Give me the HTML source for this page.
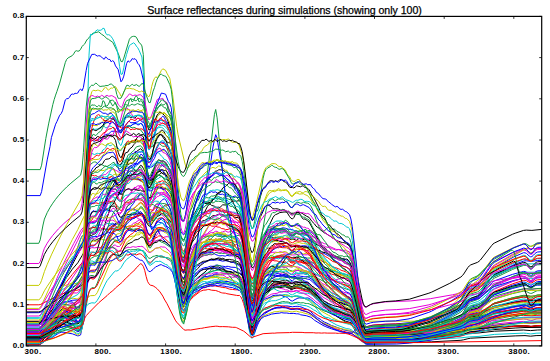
<!DOCTYPE html>
<html><head><meta charset="utf-8"><style>
html,body{margin:0;padding:0;background:#fff;width:550px;height:361px;overflow:hidden}
body{position:relative;font-family:"Liberation Sans",sans-serif}
.t{position:absolute;left:0;width:569px;top:3.5px;text-align:center;font-size:10.6px;letter-spacing:-0.04px;color:#000;white-space:nowrap;-webkit-text-stroke:0.25px #000}
.xl{position:absolute;top:346.5px;font-size:8px;line-height:9px;letter-spacing:0.35px;font-weight:bold;color:#000}
.yl{position:absolute;left:0;width:24.4px;text-align:right;font-size:8px;line-height:9px;letter-spacing:0.2px;font-weight:bold;color:#000}
svg{position:absolute;left:0;top:0}
</style></head><body>
<div class="t">Surface reflectances during simulations (showing only 100)</div>
<svg width="550" height="361" viewBox="0 0 550 361">
<defs><clipPath id="c"><rect x="26.3" y="16.4" width="515.4" height="329.5"/></clipPath></defs>
<g clip-path="url(#c)" fill="none" stroke-width="10" stroke-linejoin="round"><g transform="scale(0.1)">
<path stroke="#e600d8" d="M263 3211 l125 0 14 -5 14 -9 28 -24 28 -19 111 -69 28 -15 42 -17 70 -22 14 -1 41 3 14 -6 14 -11 14 -14 14 -19 14 -32 28 -115 14 -36 14 -18 14 -6 28 7 13 -11 14 -19 28 -54 14 -36 14 -26 28 -65 42 -76 14 -18 28 -27 14 1 13 11 14 2 14 -1 14 -14 14 -34 28 -80 28 -49 14 -17 42 -38 14 -3 41 -29 14 1 14 17 14 28 14 45 28 111 14 37 14 4 14 -8 14 -15 14 -23 13 -34 28 -39 14 -15 14 0 14 -4 14 1 14 4 14 -2 42 22 14 63 14 102 27 275 14 120 14 87 14 64 14 25 14 6 14 -42 14 -72 14 -93 14 -74 28 -87 14 -35 13 -28 28 -43 42 -57 14 -13 14 1 14 -3 28 -14 14 -3 14 1 28 -7 27 6 28 -7 84 19 28 0 28 11 13 2 28 18 14 6 14 16 14 34 14 48 14 60 42 204 14 40 14 23 14 -7 13 -24 14 -40 28 -67 28 -41 14 -16 28 -23 14 -7 42 -4 14 3 13 7 14 1 28 -9 28 -2 42 -12 14 2 14 5 28 28 14 -1 27 -29 14 -8 14 3 14 0 14 -5 28 -1 14 -5 28 -4 14 0 14 6 83 67 28 30 14 10 14 4 14 9 28 13 14 10 41 17 14 -1 14 5 14 8 28 6 28 12 28 7 28 13 14 17 14 33 27 98 42 167 14 47 14 38 14 28 14 16 14 5 70 -6 222 -5 126 -16 28 -6 195 -55 195 -83 111 -57 14 -16 14 -24 42 -100 14 -23 14 -14 69 -23 14 -6 126 -82 27 -15 181 -79 112 -36 14 0 14 4 28 18 14 5 13 -1 42 -27 14 -4 42 -3"/>
<path stroke="#00c8d0" d="M263 3327 l125 0 14 -4 42 -23 42 -17 28 -15 28 -21 41 -39 14 -9 14 -6 14 0 14 4 42 22 42 19 14 13 27 37 14 14 14 -3 14 -16 28 -67 14 -148 14 -376 28 -999 14 -267 14 -118 14 -26 14 12 55 -7 14 -12 14 -21 14 9 14 17 42 -20 14 4 28 26 14 31 27 90 14 32 14 13 14 -36 14 -65 28 -66 14 -25 14 -7 14 0 14 -7 14 -12 14 -2 27 3 14 -1 14 -4 14 8 14 23 14 56 28 146 14 34 14 -14 14 -22 41 -148 14 -36 28 -27 14 -1 14 1 14 4 14 17 14 8 28 69 14 20 14 136 14 216 41 850 14 190 14 143 14 61 14 28 14 -19 14 -31 14 -41 14 -33 14 -24 14 -15 27 -37 14 -14 14 -10 14 -5 14 -12 42 -24 14 2 14 -4 14 -8 14 1 14 -3 28 -10 27 -5 14 -6 14 3 14 8 14 3 14 1 28 8 14 -2 42 11 14 10 13 7 14 4 14 9 14 14 14 31 14 46 28 160 42 288 14 56 14 29 14 -16 13 -36 28 -111 14 -45 28 -71 14 -27 14 -21 28 -36 42 -40 14 -10 13 -6 14 -2 14 -6 28 -2 42 -9 14 -1 28 6 28 17 14 1 27 -12 14 -1 14 2 42 12 42 25 28 13 14 12 55 60 70 82 14 10 14 6 14 10 14 14 14 11 69 38 84 31 14 4 28 4 14 6 14 9 13 13 28 31 42 53 14 13 14 10 14 5 14 2 70 -3 222 -2 140 -21 195 -59 28 -11 208 -101 98 -56 70 -50 14 -7 69 -25 14 -11 14 -17 112 -186 13 -18 14 -12 181 -86 28 -11 84 -30 28 -4 83 0 70 -4"/>
<path stroke="#ff0000" d="M263 3354 l125 0 14 -3 14 -7 14 -12 28 -26 28 -31 70 -89 125 -180 83 -127 42 -69 14 -18 28 -20 14 -1 14 4 28 3 14 10 14 3 14 -6 13 -20 56 -162 56 -151 28 -63 42 -72 14 -16 27 -3 14 -15 14 -24 28 -67 14 -20 28 -51 14 -10 28 -13 41 -33 14 -17 28 -25 14 7 14 17 14 23 14 35 14 43 14 30 28 8 41 -27 28 -33 14 -21 14 -26 14 -8 28 -23 14 6 14 -7 14 -2 14 11 14 56 14 94 41 377 14 88 14 68 14 32 14 16 14 -19 14 -37 14 -51 14 -34 28 -43 27 -13 28 -24 28 -8 14 -10 28 -12 14 -14 14 -6 14 4 28 -11 14 0 14 -7 27 2 14 -15 14 0 14 8 14 -4 28 7 14 -7 14 -1 14 7 14 5 28 -8 13 7 28 7 14 7 14 21 14 32 14 57 14 71 42 244 14 48 14 27 14 -16 13 -44 28 -134 28 -96 42 -104 14 -24 14 -19 14 -4 14 -1 28 0 13 1 14 -4 14 -8 14 7 14 3 28 -9 14 1 28 12 28 40 14 11 14 2 14 -4 41 -32 28 14 14 -6 14 1 28 10 28 12 28 2 14 5 13 13 14 9 14 4 28 20 14 7 28 5 14 5 28 14 14 2 14 0 14 7 13 11 14 8 14 3 14 -2 14 3 14 7 14 3 28 13 28 8 14 8 14 32 14 44 27 123 42 218 14 60 14 50 14 36 14 21 14 6 70 -8 222 -5 126 -8 237 -31 181 -38 111 -27 28 -14 42 -29 14 -8 14 -4 69 -11 14 -4 14 -6 112 -60 27 -10 195 -40 98 -15 28 -1 55 2 98 -5"/>
<path stroke="#109a40" d="M263 3379 l125 0 28 -5 42 -16 42 -24 28 -23 55 -62 14 -13 14 -11 14 -6 14 -5 42 -4 42 -8 14 3 27 16 14 4 14 -10 14 -22 14 -62 14 -155 28 -555 14 -219 14 -94 14 -31 14 -11 14 0 14 -2 13 -10 14 0 14 4 14 -6 28 -18 14 9 14 5 14 -11 42 -13 28 12 14 3 13 14 14 17 14 9 14 -1 14 -19 42 -46 28 -16 14 -3 28 -3 14 0 13 3 14 -2 14 -6 14 0 14 7 14 14 14 37 14 45 14 30 14 14 14 -8 28 -26 27 -52 14 -15 14 -2 14 3 14 0 14 3 14 -1 28 10 14 10 14 24 14 34 14 75 14 122 41 478 14 107 14 80 14 32 14 10 14 -39 14 -66 14 -84 14 -66 28 -85 27 -54 56 -101 28 -28 28 -22 14 -16 28 -22 14 -8 14 -1 27 -22 56 9 14 4 28 -1 14 19 14 14 14 1 14 8 14 17 27 19 14 13 28 18 14 39 14 57 14 86 14 105 42 364 14 73 14 37 14 -23 13 -56 28 -167 14 -69 28 -107 14 -42 14 -34 14 -21 28 -33 28 -46 27 -14 28 -9 28 8 14 -5 28 3 14 0 14 10 14 15 14 7 28 9 27 -2 14 -4 14 -2 42 18 56 15 14 12 28 34 41 62 14 15 14 19 28 44 14 12 28 30 28 20 28 27 55 29 14 11 28 15 14 5 28 15 42 13 14 9 27 35 14 20 42 78 28 44 14 17 14 9 14 1 42 -9 28 -4 125 -7 97 -3 140 -24 209 -78 195 -112 111 -77 14 -19 14 -29 42 -116 14 -28 14 -17 69 -31 14 -9 14 -12 112 -123 27 -23 195 -112 98 -42 14 -1 14 4 28 18 14 5 13 -1 42 -28 14 -4 42 -4"/>
<path stroke="#0000ff" d="M263 3391 l125 0 14 -12 14 -24 28 -57 56 -80 28 -44 55 -103 28 -36 14 -10 14 -5 14 -1 56 0 14 1 14 13 27 47 14 17 14 -12 14 -33 14 -53 14 -67 14 -125 28 -427 14 -166 14 -67 14 -27 14 -14 14 7 27 -1 28 2 14 -10 14 2 14 9 14 -12 14 -6 28 17 14 -5 14 4 14 15 14 21 41 90 14 -1 14 -29 42 -102 14 -8 14 -2 14 -8 14 6 14 -5 14 5 13 10 14 3 14 18 14 11 14 7 42 77 14 18 14 -3 14 -18 14 -23 41 -83 28 -64 14 -25 14 -16 14 -12 14 -7 14 8 42 82 14 47 14 83 14 114 13 151 28 261 14 90 14 67 14 28 14 11 14 -18 42 -100 42 -60 27 -21 14 -15 28 -22 28 -13 14 -5 28 -3 28 -11 28 1 14 -3 13 -8 14 -1 42 11 14 0 28 5 14 -4 14 1 28 8 41 2 14 6 14 8 14 3 14 24 14 39 14 72 14 90 42 319 14 64 14 33 14 -20 13 -46 28 -137 14 -53 28 -79 14 -31 14 -24 56 -47 14 -15 14 -10 27 -13 42 4 14 -5 14 -7 42 6 56 15 27 -6 14 4 28 0 70 30 28 7 14 11 14 19 27 21 14 16 14 20 42 46 70 51 42 26 83 37 28 18 14 5 42 10 14 8 14 14 27 42 42 71 28 40 14 14 14 8 14 1 70 -7 222 -5 126 -14 28 -5 195 -47 195 -73 111 -49 14 -11 14 -15 42 -60 14 -15 14 -9 69 -20 14 -7 14 -9 112 -99 27 -18 181 -67 112 -32 14 1 14 5 28 19 14 6 13 -1 42 -30 14 -5 42 -2"/>
<path stroke="#109a40" d="M263 3401 l125 0 14 -7 14 -13 84 -103 28 -39 55 -93 28 -36 14 -10 14 -8 70 -17 14 -1 14 8 27 34 14 12 14 -14 14 -32 14 -105 14 -229 28 -734 14 -249 14 -96 14 -24 28 -22 14 -4 13 2 28 26 14 -6 14 2 14 10 14 7 14 1 28 13 14 4 28 0 14 17 27 69 28 45 14 0 14 -30 14 -43 14 -57 14 -46 14 -28 14 -5 14 -16 14 5 14 13 14 -28 13 -21 14 -8 14 9 14 17 14 9 14 18 14 36 28 146 14 33 14 -5 14 -27 14 -49 14 -36 27 -50 14 -19 14 -5 14 8 14 -6 14 16 14 6 14 -1 42 88 14 83 14 134 41 518 14 115 14 87 14 37 14 15 14 -19 14 -33 28 -80 14 -17 14 -8 14 -21 13 -26 28 -18 28 -25 14 -9 56 -26 14 -3 28 -20 28 -8 13 0 28 -18 14 2 14 -11 14 -18 28 2 14 -8 14 -1 14 16 28 3 14 13 13 -3 14 12 14 21 14 9 14 36 14 66 14 106 14 127 42 438 14 87 14 44 14 -23 13 -53 28 -162 14 -62 28 -100 14 -36 14 -28 42 -58 14 -14 28 -21 13 -7 14 -1 28 -12 28 7 14 -1 14 -4 14 0 28 8 28 4 14 5 14 9 27 5 14 8 14 6 28 17 14 6 28 19 14 4 14 10 14 16 55 92 70 91 14 14 70 58 153 100 14 6 14 3 14 8 14 14 13 20 56 92 14 19 14 16 14 12 14 7 14 2 70 -3 236 -3 126 -8 209 -25 222 -43 98 -23 70 -25 83 -13 14 -4 14 -7 112 -69 27 -11 181 -34 112 -17 28 1 42 6 13 0 56 -9 42 -1"/>
<path stroke="#ff0000" d="M263 3330 l125 0 14 -7 14 -13 14 -22 28 -51 42 -85 83 -191 84 -207 111 -286 28 -78 14 -29 14 -7 14 -12 14 -20 28 -93 14 -17 14 -10 14 -25 14 -14 13 -8 28 -34 14 -21 14 -32 14 -27 28 -38 14 -27 14 -13 42 -14 14 -13 14 4 27 61 14 9 14 -13 42 -128 14 -34 28 -42 14 4 14 -2 14 -14 27 -10 14 -10 14 -6 14 6 14 -4 14 13 14 39 28 132 14 43 14 4 14 -28 28 -47 13 -45 14 -33 14 -18 14 0 14 -6 14 -4 14 11 14 2 14 6 28 40 14 30 14 81 14 144 41 561 14 126 14 94 14 40 14 15 14 -38 14 -69 14 -90 14 -68 14 -47 14 -36 14 -35 13 -25 42 -52 14 -12 28 -33 14 -9 14 0 14 2 28 -14 14 1 14 -6 14 -14 13 -3 14 5 28 -4 28 2 28 16 14 2 28 -6 28 8 27 17 14 -4 14 9 28 23 14 22 14 40 56 213 14 32 14 20 14 -9 13 -32 28 -103 14 -39 14 -25 42 -89 14 -14 28 -13 28 6 27 -18 14 1 14 6 14 3 14 -6 28 5 42 1 28 16 14 12 14 1 27 -13 14 -4 14 7 28 -3 14 4 14 -1 28 8 28 2 14 6 14 19 14 4 13 7 14 17 14 8 28 31 14 7 14 12 14 6 14 2 28 22 28 11 27 14 14 3 28 11 14 6 14 10 28 8 28 13 14 10 14 5 14 26 14 51 27 138 42 244 14 68 14 55 14 39 14 23 14 7 70 -6 222 -5 126 -10 28 -4 195 -37 222 -64 98 -35 70 -38 14 -5 69 -16 14 -6 14 -10 112 -105 13 -10 14 -7 195 -56 98 -21 28 0 42 9 13 -1 56 -11 42 -2"/>
<path stroke="#00c8d0" d="M263 3178 l125 0 14 -14 42 -88 14 -19 42 -48 83 -81 42 -32 42 -25 56 -28 55 -15 14 -8 28 -23 14 -4 14 -16 14 -35 28 -93 14 -27 14 -14 28 13 13 -15 28 -43 14 -18 28 -59 14 -23 14 -30 14 -20 28 -59 14 -21 14 -15 28 -11 27 -4 14 -12 14 -27 14 -15 28 -53 14 -16 28 -18 14 -24 14 -10 28 -5 13 2 14 -15 14 -19 14 -10 14 1 14 12 14 26 14 41 14 31 14 18 14 4 14 -5 28 -28 13 -4 14 12 28 -10 14 16 28 23 14 3 14 8 28 31 14 25 14 49 14 85 41 321 14 72 14 54 14 22 14 7 14 -29 14 -50 14 -69 14 -45 14 -31 14 -23 27 -45 14 -17 28 -20 14 -19 42 -23 14 -11 14 -2 14 3 28 -12 28 -21 13 -4 14 -14 28 -10 14 -10 14 -2 14 -4 28 4 14 9 14 14 28 17 14 14 13 11 14 6 14 3 14 14 14 24 14 29 14 48 56 251 14 38 14 22 14 -7 13 -26 28 -87 42 -76 14 -14 14 -20 14 -15 42 -15 28 3 27 -2 14 7 14 4 14 -3 14 4 28 0 14 9 14 3 28 31 14 8 14 3 14 -3 13 -8 14 -5 14 3 14 -6 28 -2 14 -4 42 1 14 4 14 7 14 13 14 18 55 53 126 138 41 23 14 3 42 3 14 4 14 1 28 -2 28 2 14 20 27 77 28 98 28 110 14 45 14 36 14 26 14 15 14 4 70 -3 208 -2 28 -2 126 -16 209 -53 195 -77 111 -53 14 -14 14 -22 42 -90 14 -21 14 -13 83 -27 126 -77 27 -15 181 -72 112 -34 14 -1 14 1 42 11 13 0 42 -13 14 -2 42 -3"/>
<path stroke="#e600d8" d="M263 3160 l125 0 14 -9 14 -18 223 -455 139 -276 28 -59 28 -48 14 -17 28 -49 14 -9 14 1 28 -6 14 3 13 -11 14 -16 14 -11 42 -70 14 -19 14 -10 14 -27 14 -38 14 -22 14 -16 14 -10 14 -20 14 -15 13 -11 28 8 14 -11 14 -3 28 -21 14 2 28 -9 14 6 14 2 14 -15 14 -10 13 9 14 14 14 -18 14 -26 14 16 14 34 14 56 28 133 14 47 14 -3 14 -15 14 -22 14 -34 13 -16 14 1 14 -5 14 6 14 19 14 9 14 2 28 32 14 9 14 15 14 22 14 67 14 106 41 406 14 90 14 68 14 27 14 9 14 -31 42 -172 14 -37 28 -57 13 -17 14 -5 14 -12 14 -16 42 -21 14 -6 14 -3 14 0 14 -7 28 4 14 -6 14 -10 13 -6 14 -3 14 -3 14 3 28 -6 28 9 28 -3 28 8 14 -1 14 8 13 4 14 -1 14 -3 14 6 14 24 14 36 14 57 14 71 42 243 14 49 14 26 14 -12 13 -36 28 -112 14 -42 42 -90 14 -21 14 -14 14 -9 14 -7 14 2 14 6 41 12 14 2 14 -2 14 5 14 0 14 -5 28 3 28 -2 14 7 14 9 14 -7 14 -18 13 -10 14 -5 28 -1 14 4 42 5 14 -4 14 5 28 2 14 14 14 8 13 3 28 15 28 9 14 2 14 5 14 9 14 7 14 4 28 0 28 5 27 12 28 5 28 9 28 1 14 3 42 17 14 26 14 46 13 55 28 131 28 145 14 58 14 47 14 34 14 20 14 6 70 -4 222 -4 126 -10 223 -38 195 -53 111 -37 14 -10 14 -16 42 -66 14 -15 14 -9 83 -19 139 -53 223 -61 98 -18 69 3 42 -4 56 -3"/>
<path stroke="#000000" d="M263 3352 l125 0 14 -13 14 -26 28 -74 56 -130 111 -245 56 -110 139 -265 14 -21 14 -16 14 -28 28 -102 14 -32 14 -8 28 -6 14 0 13 -10 14 -25 14 -38 14 -28 28 -77 28 -68 42 -128 14 -23 14 -18 14 -28 27 -49 56 -75 28 -48 14 -13 14 2 14 -12 14 -8 14 5 14 -15 14 -22 13 -11 14 -6 28 -3 14 -6 14 15 14 45 28 157 14 41 14 4 14 -27 28 -64 13 -18 14 5 28 -19 28 27 14 5 14 15 14 28 28 33 14 39 14 77 14 129 27 341 14 150 14 110 14 83 14 33 14 12 14 -44 14 -77 14 -105 14 -71 14 -49 28 -85 13 -35 42 -53 14 -25 14 -34 14 -10 14 1 28 -19 14 -2 14 -7 14 -13 14 -8 27 -1 14 -8 14 -5 28 -1 14 4 14 7 14 3 28 -11 28 10 14 2 14 13 13 4 28 2 14 10 14 40 14 51 14 93 14 114 42 396 14 79 14 42 14 -25 13 -64 28 -195 14 -74 28 -108 28 -88 14 -37 14 -23 14 -12 28 0 27 4 14 -6 28 7 14 -4 14 -1 42 12 14 -5 14 -2 28 17 28 -4 13 6 14 3 14 -12 14 -5 14 7 14 -1 28 8 14 -3 28 7 28 15 14 5 41 28 14 6 14 -3 28 19 14 2 14 10 14 20 14 13 14 6 14 12 14 21 13 9 28 13 14 0 14 7 14 13 14 3 14 0 14 9 14 14 28 18 14 29 14 53 27 152 42 258 14 73 14 59 14 43 14 26 14 6 70 -10 125 -6 97 -2 126 -17 28 -6 195 -59 195 -90 111 -61 14 -17 14 -26 42 -106 14 -25 14 -15 69 -25 14 -6 14 -9 112 -80 27 -17 181 -84 28 -11 84 -28 14 1 14 8 28 28 14 9 13 -2 14 -13 14 -18 14 -12 14 -7 42 -3"/>
<path stroke="#00c8d0" d="M263 3432 l125 0 14 -2 14 -6 84 -48 83 -58 42 -25 98 -37 14 -1 27 4 14 0 14 -8 14 -14 28 -42 14 -79 14 -196 28 -495 14 -116 14 -35 14 -14 27 -2 14 -5 14 1 28 -11 14 10 14 1 14 -14 14 -5 14 0 14 4 28 -9 14 13 14 18 13 10 14 20 14 10 28 -26 28 -38 28 -31 14 -10 28 -9 14 -8 14 0 13 -11 14 -6 14 0 14 -17 14 -7 14 12 14 7 14 11 14 14 14 10 14 -3 28 -15 14 -16 13 -9 14 -13 14 6 14 11 14 -4 28 0 14 12 56 75 14 65 14 113 41 441 14 98 14 74 14 30 14 12 14 -20 42 -109 42 -68 41 -47 14 -9 28 -29 28 -15 28 -9 14 -3 69 6 14 -1 14 4 28 15 14 -3 28 4 14 3 42 16 41 8 14 5 14 12 14 8 14 16 14 31 14 49 14 60 42 207 14 41 14 22 14 -8 13 -19 28 -63 14 -24 28 -35 28 -26 56 -25 14 -10 41 -11 14 -1 28 -6 28 -4 42 -1 14 1 28 11 41 -6 14 0 28 10 28 6 42 6 28 11 14 8 28 20 27 13 14 13 28 16 28 20 28 14 28 4 28 17 27 6 56 18 98 26 14 6 14 9 27 25 42 49 28 29 14 10 14 6 14 1 70 -7 222 -5 126 -9 223 -33 195 -46 111 -31 28 -16 42 -35 14 -8 14 -6 69 -13 14 -4 14 -6 112 -67 27 -12 181 -43 112 -19 14 1 14 4 28 16 14 5 13 -1 42 -25 14 -3 42 -2"/>
<path stroke="#e600d8" d="M263 3398 l125 0 14 -3 14 -7 42 -32 42 -39 28 -30 69 -86 28 -29 98 -80 14 -7 27 -7 14 -6 14 -17 14 -24 14 -32 14 -61 14 -115 28 -264 14 -59 14 -17 14 -7 28 3 41 -7 14 8 14 -1 14 -10 28 12 14 -6 28 3 14 -4 42 9 27 28 28 1 14 -5 14 -14 14 -9 28 -14 14 5 14 -1 14 -6 14 -1 14 4 13 0 14 -6 28 0 14 -2 14 8 14 12 28 32 14 8 14 2 14 -9 41 -35 28 -3 14 -7 14 -4 14 4 14 -1 14 5 14 16 28 24 14 18 14 48 14 66 27 176 14 77 14 56 14 43 14 17 14 6 14 -17 14 -29 14 -40 14 -29 14 -20 28 -28 27 -22 14 -13 14 -8 14 -4 28 -22 42 -14 14 -1 28 -6 14 -7 14 -15 13 -4 28 6 42 3 14 4 28 21 14 -3 14 -8 28 7 69 -7 14 15 14 30 14 48 14 60 42 216 14 44 14 23 14 -14 13 -37 28 -109 14 -42 28 -59 14 -22 14 -9 42 -14 14 -14 14 -5 41 -4 42 8 14 4 28 6 14 7 28 3 14 14 14 4 28 -5 13 -8 14 -2 14 6 14 -1 14 -3 14 0 28 8 28 4 14 7 14 9 97 94 56 43 42 27 28 13 27 17 28 8 28 16 28 9 28 11 28 7 14 8 14 15 27 42 56 96 14 19 14 14 14 8 14 2 70 -7 362 -10 223 -18 181 -22 111 -17 28 -7 56 -22 97 -12 126 -40 27 -6 181 -22 112 -11 28 4 42 13 13 -1 42 -15 14 -2 42 -1"/>
<path stroke="#000000" d="M263 3424 l125 0 14 -15 14 -31 14 -36 14 -29 84 -103 55 -84 14 -16 14 -12 14 -5 14 -2 84 19 14 13 27 42 14 15 14 -8 14 -24 28 -71 14 -70 42 -485 14 -86 14 -29 14 -9 14 5 13 -2 28 -15 28 -7 14 -12 42 -50 14 -10 14 -16 28 -36 14 -6 27 -24 14 11 14 16 14 1 14 5 14 1 14 4 14 15 28 22 14 -3 14 1 14 8 27 -10 14 8 14 4 14 0 14 -5 14 13 14 34 28 89 14 21 14 -6 28 -55 27 -67 28 -30 14 -26 14 -1 42 30 14 7 14 13 14 16 14 28 14 47 14 79 41 294 14 66 14 49 14 21 14 7 14 -20 42 -116 14 -30 41 -51 28 -28 28 -31 42 -32 28 -11 42 -22 28 1 41 -13 28 6 14 -2 28 12 42 -1 14 4 14 0 14 5 13 10 14 1 14 3 14 10 14 28 14 49 14 76 14 93 42 323 14 65 14 33 14 -17 13 -41 28 -123 14 -46 28 -72 14 -30 14 -18 14 -11 14 -18 56 -32 41 -14 28 4 28 -3 14 -5 14 0 42 18 14 10 14 0 14 -10 13 -1 14 -4 14 -1 14 5 14 -3 14 5 14 8 42 3 14 5 14 10 69 67 14 16 14 12 28 30 28 20 42 27 14 12 27 15 28 22 28 9 28 19 42 21 14 5 14 2 14 8 14 17 27 40 42 73 28 40 14 14 14 8 14 1 70 -6 222 -4 126 -8 223 -28 222 -45 98 -25 70 -27 83 -14 14 -5 14 -6 112 -74 27 -12 195 -39 98 -15 14 1 14 3 28 12 14 4 13 -1 42 -18 14 -3 42 -1"/>
<path stroke="#00c8d0" d="M263 3182 l125 0 14 -2 56 -18 98 -19 69 -10 70 -6 14 2 14 5 14 17 27 55 14 22 14 -3 14 -22 14 -97 14 -238 28 -839 14 -296 14 -130 14 -53 14 -15 28 10 27 -12 14 3 14 -1 14 -5 14 -30 14 -9 14 -13 14 -32 14 1 14 12 14 -5 14 -13 28 26 13 2 14 11 14 24 14 3 28 -51 14 -18 14 -11 14 -7 14 9 14 -14 14 -11 14 15 14 5 13 -10 14 -4 14 4 14 0 14 10 28 59 14 20 28 73 14 11 14 -5 28 -28 13 -19 14 -7 14 -1 28 34 14 11 14 23 14 2 14 12 28 41 14 26 14 82 14 132 41 502 14 113 14 84 14 33 14 10 14 -40 14 -69 28 -158 28 -75 14 -49 13 -30 14 -18 28 -70 14 -23 14 -13 28 -22 14 -16 28 -10 28 -36 14 -12 14 0 13 17 28 -23 14 4 14 8 14 13 14 -4 14 8 14 15 42 12 14 18 27 25 14 17 28 21 14 45 14 78 14 119 14 144 42 503 14 101 14 52 14 -19 13 -48 28 -150 14 -55 28 -85 28 -66 14 -17 14 -12 14 -17 14 -24 14 -14 27 -7 14 -1 28 -18 28 -2 14 -4 28 3 14 -1 14 13 14 17 14 9 14 5 27 -36 14 -4 28 19 14 1 14 8 14 5 14 8 14 13 14 6 42 47 27 43 28 34 28 42 42 55 56 42 41 26 28 10 14 10 28 7 28 15 42 17 14 3 14 7 14 17 27 49 42 96 28 53 14 20 14 10 14 1 42 -10 28 -4 125 -8 97 -3 126 -15 28 -6 195 -54 195 -82 111 -57 14 -14 14 -21 42 -85 14 -20 14 -13 69 -22 14 -7 14 -9 112 -91 27 -18 181 -77 28 -10 84 -26 28 -4 97 -1 56 -3"/>
<path stroke="#c4cc00" d="M263 3398 l125 0 28 -5 56 -25 28 -16 28 -22 55 -56 28 -21 28 -8 42 -1 56 -7 27 2 14 -2 14 -8 14 -13 14 -38 14 -103 28 -407 14 -161 14 -68 14 -13 28 -15 27 3 42 -20 14 -2 14 6 28 1 14 -3 14 -8 14 3 28 1 28 12 13 3 28 35 14 1 14 -9 14 -26 14 -18 28 -16 14 -5 28 -7 28 0 13 -13 14 -1 14 1 14 -13 14 -7 14 2 28 37 28 23 14 -11 14 -22 28 -17 13 -16 14 -12 14 -2 14 -10 14 -5 28 28 28 8 28 53 14 17 14 73 14 110 27 295 14 129 14 93 14 70 14 28 14 8 14 -30 14 -50 14 -66 14 -53 28 -65 14 -30 13 -24 14 -16 42 -61 28 -21 14 -5 14 1 28 -11 28 0 28 -4 27 3 28 18 14 0 42 8 28 16 69 26 28 23 14 3 14 16 14 32 14 43 14 53 42 181 14 36 14 19 14 -11 13 -28 28 -85 14 -33 28 -52 14 -19 14 -12 14 -6 28 -19 28 -13 27 -8 14 -4 28 -1 28 -5 14 1 28 -2 28 0 28 18 28 -8 27 3 42 8 14 6 28 5 14 7 14 3 14 6 14 10 111 102 70 40 14 6 28 21 41 19 14 8 42 15 14 3 28 5 42 1 14 5 27 20 42 47 28 27 14 11 14 6 14 0 70 -10 125 -6 111 -2 126 -7 223 -29 195 -38 97 -23 28 -13 42 -33 14 -7 14 -5 83 -14 126 -56 27 -9 181 -35 112 -16 28 3 42 12 13 -1 42 -14 14 -3 42 -1"/>
<path stroke="#0000ff" d="M263 3127 l125 0 14 -4 14 -8 167 -141 42 -33 98 -70 55 -31 28 -24 14 -16 14 -27 28 -71 14 -30 14 -14 14 -6 28 -3 14 6 13 -12 56 -130 28 -60 28 -74 14 -30 42 -73 14 -18 14 -8 13 -14 28 -22 14 -24 14 -30 28 -38 14 -22 14 -7 14 -4 14 -22 28 -33 14 -26 27 -28 28 -44 14 9 14 22 14 31 28 124 14 42 14 14 14 -9 41 -43 14 -1 14 2 14 -1 14 8 28 2 14 14 14 9 14 0 14 8 14 30 14 48 14 86 41 330 14 75 14 57 14 24 14 8 14 -34 14 -62 14 -75 14 -59 14 -47 28 -66 13 -28 28 -33 28 -25 14 -19 14 -12 28 -1 28 -5 28 3 14 -8 14 -12 27 2 14 -1 14 7 28 -2 14 5 28 -1 14 2 14 -4 14 -9 41 -41 14 -4 14 13 14 18 14 32 14 56 14 85 42 310 14 91 14 58 14 35 14 -13 13 -42 28 -136 14 -51 28 -79 14 -39 28 -63 28 -43 14 -8 14 -4 14 -17 27 -16 28 -13 14 -8 28 7 14 -6 14 -2 14 4 14 6 14 25 14 17 14 -3 27 -34 14 -11 14 -7 14 7 14 2 14 -8 14 -2 42 5 14 8 14 3 14 6 14 14 13 4 14 -1 14 7 28 25 14 3 14 -2 56 30 28 2 27 15 28 2 28 8 14 0 14 5 28 4 14 7 28 23 14 27 14 51 27 145 42 258 14 73 14 61 14 45 14 26 14 6 42 -9 28 -3 125 -7 237 -7 223 -21 181 -27 111 -18 28 -9 56 -25 14 -3 83 -11 126 -46 27 -8 195 -28 98 -9 28 0 42 5 69 -7 42 -2"/>
<path stroke="#109a40" d="M263 3367 l125 0 14 -8 14 -17 28 -41 84 -92 55 -73 28 -28 14 -7 14 -6 84 -13 14 2 27 11 14 3 14 -9 14 -18 28 -52 14 -77 14 -157 14 -205 14 -168 14 -74 14 -24 28 -22 13 0 28 9 14 2 28 -12 14 0 14 8 14 0 14 -3 28 -10 28 6 14 0 13 5 28 15 14 -8 14 -11 28 -3 14 -6 28 3 14 -1 14 5 14 2 27 -6 14 -1 14 1 14 8 14 1 14 7 14 34 28 105 14 33 14 5 28 -42 27 -26 14 -9 14 0 28 19 14 4 14 6 70 46 14 58 14 97 41 397 14 90 14 69 14 27 14 8 14 -34 14 -57 14 -71 14 -55 14 -40 14 -32 14 -25 27 -44 42 -71 14 -16 14 -6 14 -11 28 -28 14 -10 14 -14 14 -16 28 -22 13 -16 14 -4 28 4 14 6 14 12 14 22 28 36 14 16 14 13 28 38 27 30 42 28 14 19 14 34 14 49 14 59 42 211 14 42 14 22 14 -18 13 -43 28 -128 14 -50 28 -78 14 -30 14 -22 28 -31 28 -19 28 -27 27 -10 28 -2 14 -7 28 6 14 -7 14 1 28 17 14 14 14 11 14 -1 27 -16 14 -4 14 1 28 11 28 5 28 12 28 3 14 8 83 94 42 42 14 9 14 7 42 26 28 21 13 9 28 9 14 9 56 22 28 15 28 8 14 11 14 17 13 27 28 59 28 64 14 27 14 22 14 16 14 10 14 2 70 -4 222 -3 126 -7 223 -28 195 -39 111 -26 14 -7 14 -11 42 -43 14 -10 14 -6 83 -14 126 -43 27 -7 181 -37 112 -17 28 1 42 7 13 -1 56 -9 42 -1"/>
<path stroke="#c4cc00" d="M263 3084 l125 0 14 -11 14 -22 195 -429 112 -226 55 -100 56 -120 14 -25 14 -36 28 -61 14 -19 28 -51 27 -40 28 -44 56 -70 28 -22 14 -19 42 -34 14 -10 14 2 13 8 28 -20 14 -6 14 -13 14 -29 28 -29 14 -18 14 -7 28 -6 14 -8 14 -11 13 -15 28 -5 14 -7 14 8 14 31 42 144 14 37 14 13 14 7 28 -1 13 -9 14 22 14 38 14 8 14 5 14 14 14 20 14 13 28 21 14 18 14 22 14 65 14 79 41 294 14 65 14 49 14 20 14 6 14 -25 14 -45 14 -58 14 -40 42 -86 13 -14 28 -3 14 -15 14 -27 14 -12 28 -5 28 19 14 -14 14 -19 14 5 14 11 14 -3 27 7 14 -12 14 -6 14 7 14 11 28 1 14 8 14 -3 14 -6 14 11 14 7 14 -5 27 18 28 11 14 16 14 36 14 60 14 74 42 254 14 50 14 28 14 -16 13 -46 28 -142 14 -57 14 -42 56 -131 14 -15 28 -1 14 -5 14 1 13 5 28 3 14 7 14 1 28 10 28 17 28 14 28 37 14 0 27 -12 28 -8 14 0 28 8 14 0 28 7 14 -2 14 9 14 14 28 18 13 15 28 40 14 13 28 35 28 23 28 29 28 17 28 30 13 13 56 40 28 10 28 20 42 20 14 23 14 42 27 129 42 220 14 64 14 51 14 37 14 22 14 6 70 -7 362 -8 223 -14 292 -31 28 -9 42 -21 28 -9 83 -6 153 -23 181 -17 112 -8 28 2 42 7 13 0 42 -9 56 -2"/>
<path stroke="#000000" d="M263 3240 l125 0 14 -10 14 -20 56 -107 139 -247 28 -43 84 -121 55 -64 42 -71 14 -25 14 -36 28 -104 14 -30 14 -7 14 -1 14 -10 14 -4 13 -9 14 -26 28 -101 14 -40 14 -34 42 -142 28 -73 14 -28 28 -26 14 -2 13 1 14 17 14 8 14 -22 28 -119 14 -52 14 -41 14 -34 14 -18 14 -8 55 -75 42 -29 14 11 14 22 14 44 14 84 28 129 14 10 14 -41 41 -105 14 -29 14 -14 28 13 28 3 28 34 14 25 28 66 14 60 14 118 41 451 14 100 14 75 14 29 14 8 14 -44 14 -76 14 -103 14 -70 28 -114 14 -32 13 -13 14 -22 14 -30 14 -19 14 -5 14 -17 14 -23 14 1 14 14 14 9 14 -2 14 8 14 12 28 8 13 9 14 2 14 -1 14 3 28 -27 28 2 14 -3 28 -14 14 -14 14 -7 14 -2 27 2 14 -4 14 0 14 5 14 41 14 57 14 75 42 260 14 50 14 31 14 -18 13 -55 14 -91 14 -73 28 -118 28 -60 14 -39 14 -16 14 -6 14 3 14 7 28 25 13 3 14 -2 14 1 14 3 14 5 14 10 14 -9 14 -1 28 24 28 46 14 17 14 7 14 -14 13 -27 14 -20 14 -2 28 0 14 6 42 28 28 13 28 40 27 26 14 21 14 11 14 7 14 18 28 20 14 12 14 3 28 22 14 6 28 21 27 14 14 12 42 15 14 4 14 0 14 6 14 6 28 23 14 28 14 64 27 187 42 322 14 91 14 74 14 55 14 31 14 9 42 -8 28 -4 125 -7 111 -2 126 -7 223 -30 208 -42 98 -24 70 -25 83 -14 14 -5 14 -7 112 -74 27 -12 181 -36 112 -16 28 -2 153 -2"/>
<path stroke="#000000" d="M263 3445 l125 0 14 -3 14 -7 84 -69 111 -108 84 -68 28 -18 14 -1 27 8 14 1 14 -14 14 -25 14 -36 14 -57 14 -148 28 -493 14 -172 14 -79 14 -31 14 -8 14 -1 13 2 14 -7 14 -10 14 -1 28 7 14 -5 14 -11 14 -2 14 2 14 -22 14 -8 14 3 14 -5 14 10 13 26 14 43 14 30 14 5 28 -13 14 -9 14 -4 14 1 14 -4 28 -3 14 2 14 -6 27 6 14 -10 28 -3 14 22 14 27 28 62 14 19 14 2 28 -44 14 -16 13 -21 14 -15 28 -15 14 -16 14 1 14 17 14 12 14 9 42 50 14 71 14 111 41 436 14 97 14 73 14 30 14 12 14 -24 14 -39 14 -52 14 -40 14 -26 41 -61 42 -43 70 -58 14 -15 42 -24 14 -5 14 -2 13 6 28 -2 28 17 28 8 28 16 14 3 28 4 28 21 27 16 14 0 14 7 14 27 14 35 14 57 14 69 42 240 14 48 14 25 14 -15 13 -36 28 -111 14 -43 28 -67 14 -29 14 -19 28 -24 56 -38 13 -8 14 -3 14 1 56 -11 14 0 14 -3 14 6 42 24 14 0 14 -7 13 -13 14 -9 14 -5 14 -3 14 4 14 0 14 -3 14 3 14 -2 14 -5 28 20 14 13 27 34 56 86 28 47 14 17 42 39 42 35 55 37 70 36 56 17 27 17 28 23 56 56 14 11 14 6 14 0 70 -10 111 -6 251 -3 209 -5 473 -23 167 -21 209 -9 98 -2 69 2 98 -3"/>
<path stroke="#ff0000" d="M263 3407 l125 0 14 -5 14 -9 84 -73 28 -30 55 -73 28 -27 14 -6 14 -4 56 0 28 -8 55 -28 28 -17 14 -12 14 -43 14 -138 28 -449 14 -142 14 -50 14 -17 14 -5 27 8 14 7 14 -7 14 -3 14 9 14 -4 14 3 14 9 14 1 56 -7 28 6 13 1 14 3 14 -2 14 -7 14 -11 14 -7 14 4 42 -15 14 3 14 7 41 -12 28 8 14 -8 14 -13 14 3 14 33 28 92 14 24 14 -20 55 -146 14 -28 28 -21 14 -5 14 6 28 22 14 13 14 26 28 28 14 79 14 111 41 426 14 94 14 71 14 30 14 13 14 -14 42 -71 42 -44 69 -53 28 -11 28 -2 14 -4 14 -2 28 8 41 3 28 10 28 12 14 3 28 2 14 5 97 17 14 2 14 -2 14 14 14 26 14 41 14 50 42 178 14 36 14 19 14 -9 13 -22 28 -67 14 -27 28 -40 14 -18 14 -10 56 -25 14 -11 41 -10 14 -1 28 1 14 -3 42 -1 56 19 14 1 41 -8 42 11 28 12 14 3 42 13 97 80 42 30 70 32 28 8 27 11 28 7 42 17 28 6 14 5 28 3 14 5 14 7 27 21 56 48 28 16 14 4 306 -5 140 -18 195 -52 28 -10 181 -76 111 -55 28 -20 42 -41 14 -10 14 -7 69 -23 14 -9 14 -14 112 -147 13 -14 14 -10 181 -76 112 -36 14 0 14 4 28 17 14 5 13 -1 42 -26 14 -4 42 -2"/>
<path stroke="#109a40" d="M263 3375 l125 0 14 -3 42 -21 42 -16 28 -16 28 -25 41 -46 14 -10 14 -7 14 2 14 5 56 41 69 28 14 4 14 -2 14 -6 14 -19 14 -80 14 -236 28 -758 14 -238 14 -99 14 -33 14 -20 14 2 13 17 14 0 14 -13 28 2 14 -11 14 -6 28 -6 14 -1 14 -8 14 -6 28 16 14 18 27 49 14 13 14 -16 28 -49 14 -39 14 -12 14 2 14 -10 14 3 28 21 27 10 28 2 14 12 14 2 14 17 42 127 14 27 14 -15 55 -202 14 -40 14 -29 14 -22 14 -15 14 -9 14 -5 28 12 42 59 14 121 14 203 41 810 14 182 14 136 14 55 14 17 14 -60 42 -325 28 -121 14 -51 13 -38 56 -135 14 -20 42 -52 28 -20 28 -38 41 -37 28 -15 14 10 14 2 14 -1 14 9 70 54 14 14 55 87 14 25 14 36 14 57 14 85 14 103 42 351 14 70 14 36 14 -18 13 -43 14 -69 28 -115 28 -82 14 -33 14 -21 14 -12 14 -19 14 -14 14 -9 28 -30 13 -8 14 -3 28 0 14 -9 14 -3 14 2 56 -9 28 5 14 -3 14 2 55 16 28 18 14 3 28 20 14 3 42 53 14 13 27 39 42 53 28 38 14 13 14 8 70 55 27 13 14 11 28 13 14 11 42 23 28 4 14 5 14 10 14 14 27 35 42 67 28 38 14 13 14 8 14 1 70 -7 208 -5 28 -3 126 -19 195 -59 28 -11 208 -102 84 -48 14 -13 14 -17 42 -66 14 -17 14 -10 69 -26 14 -9 14 -14 112 -141 13 -15 14 -10 181 -87 28 -11 84 -30 14 -1 14 2 28 12 14 4 13 -1 42 -18 14 -4 42 -2"/>
<path stroke="#00c8d0" d="M263 3294 l125 0 14 -7 14 -12 84 -118 125 -185 84 -117 28 -33 41 -36 14 -21 28 -52 14 -18 14 -26 14 -59 28 -169 14 -38 14 -24 14 -11 14 0 13 -12 14 -21 28 -61 28 -70 28 -63 56 -112 14 -20 28 -32 13 -14 28 -20 28 -47 14 -12 28 -47 14 -2 14 -7 14 -20 28 -20 27 -26 14 -17 14 -10 28 -11 14 16 14 37 28 104 14 13 14 -3 14 -24 14 -32 27 -34 14 -12 14 -6 14 -12 14 -5 28 16 14 -4 14 -5 14 -2 28 60 14 89 14 143 41 558 14 126 14 94 14 39 14 13 14 -53 42 -310 14 -60 14 -46 27 -77 14 -32 42 -56 14 -25 14 -16 14 4 14 -5 42 -27 14 -6 14 -11 27 -6 14 -10 28 -15 14 2 14 13 14 0 14 10 42 49 14 13 14 25 41 38 14 9 14 4 14 25 14 50 14 78 14 99 42 353 14 70 14 38 14 -30 13 -74 28 -224 14 -78 28 -130 14 -56 14 -41 28 -57 14 -20 14 -11 14 1 14 4 13 -7 14 0 14 7 70 -6 28 10 42 53 14 5 14 -12 13 -16 14 -11 14 -2 28 11 14 -2 14 2 14 -2 42 21 28 35 41 69 14 9 14 18 28 50 28 40 14 19 28 26 28 35 14 12 13 8 14 12 28 18 42 39 14 5 28 21 14 4 14 9 14 29 14 46 27 135 42 236 14 64 14 52 14 37 14 22 14 7 70 -4 362 -5 223 -7 292 -16 84 -9 97 -5 153 -20 293 -13 28 2 42 6 13 -1 42 -6 56 -2"/>
<path stroke="#ff0000" d="M263 3421 l125 0 14 -14 42 -91 28 -39 28 -33 56 -59 27 -28 28 -24 42 -27 42 -24 14 -5 14 -3 14 6 27 30 14 10 14 -10 14 -24 14 -40 14 -61 14 -143 28 -523 14 -185 14 -77 14 -22 14 2 14 -2 13 -7 28 8 14 -6 28 -8 14 2 28 -9 14 1 14 2 14 -3 14 -5 14 2 14 23 13 39 14 14 14 6 14 13 14 -12 14 -34 14 -26 14 -14 28 3 14 -21 14 -13 28 3 13 4 14 -1 28 4 14 5 28 23 14 27 14 36 14 10 14 -4 14 3 14 5 14 -13 13 -18 14 5 14 -1 14 4 14 11 28 9 14 7 14 3 14 12 28 36 14 66 14 109 41 436 14 98 14 74 14 28 14 8 14 -38 42 -206 14 -42 28 -57 27 -42 14 -26 14 -7 14 -13 14 -20 14 -9 14 -4 14 -1 28 -16 28 -9 14 -2 14 -11 13 0 14 7 28 3 14 -6 14 3 28 19 28 5 28 12 14 11 14 7 13 13 28 14 14 13 14 21 14 42 14 63 14 76 42 260 14 51 14 28 14 -8 13 -24 14 -41 28 -63 28 -53 14 -21 14 -17 28 -27 14 -20 28 -31 14 -10 13 -2 14 6 14 11 28 6 14 10 28 1 42 23 28 20 14 1 14 -3 13 -1 28 10 28 5 14 8 70 20 14 8 28 27 55 42 28 28 14 9 42 17 56 30 27 11 14 9 28 9 28 14 70 22 14 9 14 17 27 46 42 82 28 46 14 16 14 9 14 2 70 -8 222 -6 126 -8 223 -33 195 -45 111 -31 14 -7 14 -11 42 -42 14 -11 14 -6 83 -16 126 -61 27 -10 195 -45 98 -17 28 2 42 12 13 -1 28 -10 28 -6 42 -1"/>
<path stroke="#0000ff" d="M263 3368 l125 0 14 -4 14 -10 14 -16 42 -57 42 -64 55 -94 154 -278 55 -84 28 -61 28 -74 28 -107 14 -38 14 -11 14 -7 14 -4 14 1 14 -10 27 -27 28 -39 14 -26 42 -55 14 -24 14 -16 28 -17 14 -6 14 0 14 2 13 -3 14 -11 28 -5 14 -15 42 -37 42 -15 14 -9 28 4 13 -17 28 -9 14 -10 14 13 14 17 14 13 14 29 14 36 14 27 14 12 28 11 14 -2 13 2 14 17 28 53 28 44 56 62 14 11 14 5 14 49 14 67 41 275 14 63 14 46 14 17 14 4 14 -26 14 -41 14 -51 14 -39 28 -48 14 -20 27 -18 14 -15 28 -19 28 -16 14 -4 14 2 14 -1 14 -4 14 5 14 -7 14 -11 14 5 13 2 42 2 14 -4 14 0 14 2 14 -1 56 14 14 5 27 16 42 20 28 24 14 24 14 32 42 123 14 24 14 15 14 -8 13 -26 28 -81 14 -28 14 -22 28 -33 42 -31 14 -3 14 1 55 12 14 -1 28 5 14 -3 28 2 42 15 28 28 14 6 27 -25 28 -3 14 -4 14 1 28 7 14 -1 28 8 14 1 14 7 28 28 55 49 28 32 42 33 14 5 28 20 14 4 27 20 28 10 42 22 28 9 28 14 28 8 14 10 14 15 27 38 70 122 14 20 14 10 14 0 42 -12 28 -5 125 -9 97 -3 126 -12 28 -5 181 -41 28 -9 208 -76 98 -43 70 -47 14 -6 69 -19 14 -8 14 -12 112 -132 13 -12 14 -9 181 -65 112 -30 14 2 14 6 28 24 14 7 13 -1 14 -11 14 -15 14 -11 14 -6 42 -2"/>
<path stroke="#ff0000" d="M263 3408 l125 0 14 -25 14 -48 14 -62 14 -50 28 -71 56 -116 55 -101 28 -44 28 -40 84 -106 97 -116 14 -28 28 -87 14 -37 14 -17 14 -5 14 -3 14 -1 14 2 13 -8 14 -14 14 -24 28 -25 14 -21 14 -16 28 -17 28 -52 14 -14 14 0 28 -4 13 12 14 7 14 3 14 -4 28 -46 14 -28 14 -17 14 2 28 -14 14 2 14 -3 14 -7 13 4 14 -2 14 -13 14 1 14 7 14 12 14 38 14 65 14 47 14 24 14 6 28 -25 14 -17 13 -13 14 -9 14 -15 14 2 14 6 14 6 14 11 14 1 14 6 14 9 28 35 14 46 14 65 41 245 14 55 14 41 14 16 14 3 14 -32 14 -56 14 -70 14 -58 14 -44 14 -32 14 -19 13 -15 14 -25 14 -18 14 -9 14 -15 14 -8 14 3 14 -4 14 -10 28 -15 14 -3 14 4 14 11 14 -6 13 -12 14 4 14 1 14 -4 14 5 14 2 14 -1 28 10 14 2 14 0 14 -5 14 2 14 11 13 3 14 -1 28 4 14 29 14 49 14 76 14 94 42 328 14 65 14 35 14 -20 13 -51 28 -154 14 -58 28 -86 14 -41 14 -31 14 -23 28 -26 14 -2 14 0 14 -3 13 5 28 1 14 5 14 1 42 9 14 -6 14 8 14 13 28 18 14 -3 27 -23 14 -6 14 -1 14 -8 14 3 14 11 28 -5 14 6 28 6 14 6 28 22 27 28 14 12 28 18 14 16 14 10 42 21 28 20 41 18 42 20 56 19 14 9 28 8 14 7 14 24 14 38 27 112 42 196 14 54 14 44 14 32 14 19 14 5 70 -5 222 -4 126 -8 223 -29 195 -41 111 -28 28 -12 42 -28 14 -7 14 -4 69 -12 28 -10 112 -63 27 -11 195 -41 98 -15 28 2 42 9 13 -1 28 -7 28 -5 42 -1"/>
<path stroke="#ff0000" d="M263 3048 l125 0 14 -2 70 -36 139 -66 112 -38 55 -5 14 -6 42 -25 14 -24 42 -125 14 -17 42 -4 13 -6 14 -18 42 -78 14 -19 42 -78 14 -22 42 -48 14 -15 14 0 27 9 14 -2 14 -13 42 -92 14 -16 14 -6 28 -26 14 -9 14 -2 27 -23 14 2 14 -10 14 -13 14 5 14 11 14 15 14 37 14 47 14 23 14 2 14 -17 14 -27 14 -14 13 -7 14 -12 14 -1 14 4 14 -5 28 9 14 12 14 17 14 7 14 9 14 14 14 53 14 84 41 326 14 73 14 55 14 20 14 5 14 -39 14 -68 14 -94 14 -66 42 -113 13 -27 28 -29 28 -44 14 -19 14 -1 14 5 14 -9 14 -6 14 -1 14 -4 14 -1 14 6 27 -17 14 6 28 -6 14 7 28 -2 14 4 14 1 28 -1 28 13 14 -1 13 7 14 15 28 8 14 17 14 23 14 41 56 221 14 33 14 20 14 -6 13 -22 28 -82 42 -73 14 -18 14 -15 28 -23 14 -15 14 -6 28 4 13 -9 14 -4 14 6 14 -7 14 1 14 11 28 -2 14 5 14 0 14 7 28 27 14 7 14 -6 13 -15 14 -10 28 2 42 8 42 -5 14 2 55 39 14 15 14 12 56 27 42 26 28 10 14 11 27 7 28 9 28 5 14 9 42 13 14 0 14 5 14 13 14 21 14 27 27 97 42 170 28 95 14 34 14 19 14 3 42 -12 28 -5 111 -9 111 -3 140 0 195 -8 320 -20 84 -12 97 -6 153 -24 209 -12 84 -3 83 4 42 -4 56 -2"/>
<path stroke="#0000ff" d="M263 3431 l125 0 14 -16 14 -30 14 -38 14 -29 28 -38 28 -31 28 -27 55 -46 70 -49 42 -26 28 -15 55 -16 14 -8 14 -11 14 -20 14 -72 14 -198 28 -689 14 -239 14 -103 14 -34 14 -20 69 -69 14 -20 14 -26 28 -17 14 -13 14 -4 28 -1 14 -4 14 10 14 29 13 52 14 67 14 30 14 -1 14 -17 14 -43 14 -34 14 -3 14 -10 28 -54 14 -12 14 0 14 -20 13 2 14 6 14 -6 14 4 14 -5 14 10 14 34 28 85 14 25 14 1 14 -2 14 -9 41 -38 14 3 14 5 14 13 14 16 14 7 28 21 14 16 28 64 14 77 14 152 41 595 14 134 14 101 14 42 14 18 14 -21 42 -112 14 -26 14 -19 27 -22 14 -16 14 -12 14 -5 14 -11 14 -15 14 -1 14 -5 14 -9 14 -4 14 -7 56 0 27 -5 56 15 28 -5 14 1 28 8 14 7 28 3 27 20 14 2 14 8 14 24 14 30 14 56 14 69 42 236 14 46 14 26 14 -13 13 -34 28 -108 14 -43 28 -61 14 -25 14 -20 14 -11 14 -7 28 -25 14 -8 14 -4 27 -18 56 -7 14 -3 28 5 42 -1 14 7 14 0 14 -5 41 20 28 6 14 6 28 18 14 2 14 6 14 11 28 27 69 94 70 74 28 15 14 16 14 12 41 17 28 20 70 40 42 12 14 10 14 17 27 54 42 93 28 48 14 16 14 9 14 3 70 -5 222 -3 126 -4 237 -19 181 -21 111 -16 28 -11 42 -27 14 -6 14 -4 83 -8 153 -28 181 -22 112 -10 181 -2"/>
<path stroke="#ff0000" d="M263 3362 l125 0 28 -7 28 -17 28 -21 42 -39 97 -116 28 -26 42 -33 42 -36 55 -37 14 -17 14 -22 14 -60 14 -158 28 -636 14 -254 14 -106 14 -22 14 -5 28 9 13 -4 28 18 28 -3 28 14 14 4 14 -4 14 -8 14 -4 14 -7 14 8 14 12 14 9 27 47 14 11 14 -1 28 -42 14 -14 14 -10 14 -7 14 -3 28 22 14 -2 14 1 13 -6 14 2 42 19 14 13 14 42 28 105 14 40 14 -5 42 -100 27 -49 14 -17 28 5 14 -8 14 2 28 9 14 16 14 24 14 16 14 72 14 111 41 437 14 98 14 73 14 29 14 11 14 -22 14 -35 14 -51 14 -32 28 -36 27 -30 14 -11 42 -25 28 -1 14 -6 14 0 14 4 28 -6 14 3 41 2 14 4 14 3 14 -6 42 12 28 3 14 9 28 -1 28 14 13 0 14 5 14 9 14 4 14 17 14 42 14 62 14 75 42 259 14 51 14 28 14 -6 13 -20 28 -65 14 -25 42 -54 14 -11 28 -15 42 -29 14 -3 13 1 14 -4 28 -2 14 -5 28 -2 42 8 14 6 28 18 14 3 14 -1 27 -6 42 15 28 3 14 6 28 5 28 19 14 13 41 46 28 24 42 43 28 14 14 11 14 8 42 22 13 9 28 13 14 9 28 10 42 21 14 2 14 6 14 1 14 6 41 46 70 98 14 14 14 8 14 1 70 -11 111 -5 251 -3 195 -5 320 -15 98 -16 83 -3 153 -11 209 -9 98 -2 56 4 69 -5 42 -1"/>
<path stroke="#c4cc00" d="M263 3302 l125 0 14 -8 14 -16 28 -42 70 -86 28 -43 41 -72 28 -33 14 -8 14 -5 56 0 28 -5 14 0 27 4 14 -1 14 -10 14 -18 14 -92 14 -255 28 -890 14 -305 14 -130 14 -26 14 -7 41 1 14 2 14 -21 14 -8 14 4 14 -16 14 -34 14 -12 14 1 28 -40 14 -8 14 -4 14 5 14 21 13 31 14 45 14 36 14 5 14 -27 28 -69 14 -23 14 -13 14 -6 14 4 14 -8 14 -6 27 -4 14 7 14 -1 14 -7 14 4 14 14 14 69 14 98 14 74 14 40 14 -7 14 -38 14 -54 27 -90 14 -51 14 -19 28 -16 14 -2 14 -8 56 55 14 27 14 101 14 180 41 732 14 166 14 125 14 49 14 14 14 -64 42 -345 14 -72 14 -59 27 -101 42 -115 14 -31 14 -20 42 -45 28 -14 28 -29 14 -3 27 9 28 -23 14 1 28 15 14 18 14 9 14 0 14 27 14 7 14 -5 14 24 14 31 27 21 14 31 14 23 14 45 14 89 14 140 14 171 42 594 14 118 14 62 14 -31 13 -75 28 -227 14 -93 28 -129 28 -98 14 -27 14 -17 42 -78 14 -15 27 -19 28 -13 14 -4 14 -3 28 5 14 -11 14 -2 14 11 14 5 28 -6 55 32 14 4 14 16 14 19 14 12 14 5 14 13 14 8 14 13 42 94 41 78 14 20 14 28 28 68 14 28 14 21 56 109 14 18 55 55 14 16 28 25 28 33 28 20 14 4 14 14 14 24 27 78 42 134 28 72 14 25 14 14 14 3 70 -9 222 -7 126 -21 28 -8 195 -73 195 -111 111 -76 14 -13 14 -18 42 -63 14 -16 14 -12 69 -30 14 -12 14 -18 112 -190 13 -18 14 -13 181 -105 28 -13 84 -35 14 -1 14 5 28 19 14 6 13 -1 14 -9 14 -13 14 -8 14 -5 42 -4"/>
<path stroke="#0000ff" d="M263 3373 l125 0 14 -15 14 -31 28 -85 28 -73 56 -134 55 -127 98 -205 125 -245 56 -79 14 -26 14 -21 14 -8 14 6 14 2 14 -6 13 -12 14 -20 56 -161 28 -68 14 -39 14 -31 28 -42 14 -12 28 -9 13 10 42 -3 14 -27 28 -90 14 -30 42 -74 14 -11 14 -20 27 -61 14 -23 28 -59 14 1 14 20 14 50 28 133 14 49 14 9 28 -67 14 -21 13 -11 14 -4 14 -9 14 3 28 12 28 46 28 13 14 26 28 88 14 73 41 260 14 58 14 45 14 20 14 11 14 -20 14 -36 14 -49 14 -35 14 -7 28 -25 13 -15 14 -25 28 -86 28 -73 14 -27 14 -12 14 5 56 -29 14 8 27 -4 28 21 14 5 28 -4 14 10 28 -4 28 20 14 4 14 -2 27 -10 14 12 14 7 14 -6 14 38 14 84 14 124 14 153 42 538 14 107 14 56 14 -32 13 -79 14 -126 28 -204 28 -140 28 -112 14 -40 14 -28 14 -12 14 -3 14 -8 14 -1 13 8 28 -10 14 3 14 -1 42 8 14 6 14 11 28 37 14 12 14 -3 27 -13 14 -12 14 -1 14 12 14 1 14 -16 14 0 14 7 42 -18 14 3 14 8 27 20 28 40 14 12 28 52 14 20 28 28 14 24 14 17 28 23 14 20 13 15 14 7 14 12 14 4 28 23 28 18 14 3 14 6 14 13 14 9 14 31 14 58 27 162 42 283 14 77 14 60 14 44 14 25 14 9 306 -4 126 -9 209 -31 195 -45 111 -31 28 -14 42 -30 14 -8 14 -5 69 -12 28 -12 112 -69 27 -12 195 -45 98 -17 28 2 42 11 13 -1 42 -13 14 -2 42 -1"/>
<path stroke="#0000ff" d="M263 3449 l125 0 14 -5 42 -32 70 -33 69 -45 28 -12 28 0 42 9 42 7 55 21 14 -3 14 -7 14 -71 14 -239 28 -994 14 -389 14 -177 14 -69 14 -10 14 9 14 3 13 -7 14 -4 14 -2 14 -16 14 -4 14 -10 14 -14 28 -14 14 1 28 -29 42 -1 27 11 14 -11 14 -2 14 -4 28 -26 28 -19 14 -2 14 4 14 -17 28 -10 13 -1 14 15 14 -3 14 -12 14 3 14 26 28 104 14 63 14 40 14 -23 14 -44 14 -27 14 -38 27 -108 14 -31 14 -7 14 -18 14 -13 14 11 14 30 14 15 14 22 28 65 14 132 14 224 41 883 14 198 14 148 14 64 14 29 14 -14 14 -25 14 -31 14 -24 28 -33 55 -47 28 -16 14 -9 14 -12 14 -7 28 2 14 -6 14 -3 14 0 28 -16 27 -4 14 5 14 3 28 -7 28 0 14 -5 28 -4 14 1 14 6 14 12 13 7 14 3 14 10 14 21 14 37 14 45 14 74 42 264 14 77 14 46 14 23 14 -9 13 -23 28 -73 14 -29 28 -49 14 -20 14 -15 42 -26 55 -32 42 -10 14 1 28 -9 28 -3 14 0 56 9 27 -4 28 -1 14 2 28 8 28 13 28 9 28 20 28 27 27 23 14 11 28 15 14 13 28 17 42 18 28 16 27 8 56 21 14 3 28 12 70 14 41 13 28 12 56 30 14 3 14 0 70 -8 222 -6 140 -22 195 -62 28 -12 181 -92 111 -67 28 -26 42 -52 14 -14 14 -9 69 -27 14 -11 14 -16 112 -173 13 -16 14 -12 195 -99 98 -36 14 -3 14 0 42 5 13 0 56 -8 42 -3"/>
<path stroke="#e600d8" d="M263 3398 l125 0 14 -4 14 -7 42 -37 42 -40 111 -120 167 -159 42 -47 14 -18 14 -43 14 -63 14 -52 14 -27 14 -11 14 1 14 3 14 -1 13 -18 14 -28 14 -36 56 -167 14 -34 28 -85 28 -70 14 -26 14 -25 14 -8 13 1 28 -9 14 -20 28 -99 28 -79 14 -18 14 -8 14 -28 14 -21 14 -10 14 -18 27 -25 28 -14 14 7 28 63 28 144 14 34 14 9 14 -16 14 -29 14 -15 13 -12 14 -7 42 33 42 46 28 27 28 51 14 56 14 97 41 376 14 84 14 63 14 24 14 7 14 -41 42 -218 14 -53 14 -41 14 -26 13 -19 28 -49 14 -14 28 -43 14 -9 14 2 14 -5 28 -1 14 -11 14 -6 28 2 27 -5 14 2 14 6 14 2 14 -4 28 7 14 -1 14 -5 14 3 28 20 27 4 14 10 14 5 14 7 14 16 14 37 14 55 14 69 42 233 14 46 14 26 14 -16 13 -45 28 -139 14 -50 42 -123 14 -28 14 -12 14 -19 14 -12 14 3 28 -8 13 1 14 -2 14 4 14 -1 14 -6 14 0 28 12 28 0 14 5 28 15 41 -1 14 -4 28 -3 14 -4 14 1 28 10 28 -2 14 4 28 25 14 4 13 10 42 46 14 12 28 30 14 12 28 37 14 15 28 45 14 13 13 2 14 -2 56 -19 28 2 14 5 28 4 14 8 14 25 14 43 27 125 42 217 14 61 14 49 14 36 14 21 14 6 70 -7 222 -5 126 -16 28 -6 195 -55 195 -84 111 -57 14 -13 14 -20 42 -80 14 -19 14 -12 69 -23 14 -7 14 -10 112 -101 27 -18 181 -79 112 -37 28 -4 97 0 56 -3"/>
<path stroke="#c4cc00" d="M263 3328 l125 0 14 -8 42 -48 14 -11 111 -80 28 -18 28 -13 28 -9 70 -18 55 -7 14 -6 28 -18 14 -17 14 -29 14 -37 14 -30 14 -14 14 -8 42 -2 13 -9 14 -21 56 -125 56 -134 14 -26 28 -40 14 -14 14 -7 13 -1 14 2 14 -5 14 -24 42 -96 14 -26 14 -16 14 -9 42 -34 27 -36 14 -6 14 2 14 -6 14 0 14 24 14 36 28 101 14 32 14 1 28 -16 14 -13 13 -6 28 -6 14 0 28 28 42 19 14 8 14 15 14 23 14 41 14 76 41 295 14 66 14 49 14 20 14 6 14 -29 14 -50 14 -63 14 -47 14 -36 14 -26 14 -19 41 -34 14 -10 14 -3 28 -14 28 -4 14 3 14 -5 14 -10 14 -8 14 -3 14 -9 13 -3 14 1 14 -3 28 -10 14 1 28 -9 28 -6 28 8 14 2 14 6 13 -3 14 0 14 11 14 2 14 14 14 26 14 38 14 46 42 159 14 31 14 17 14 -8 13 -23 14 -40 28 -61 42 -67 14 -15 28 -24 14 -4 14 1 14 -7 14 -1 13 3 42 -8 28 9 28 -2 14 6 14 1 14 5 14 12 28 5 14 -4 13 -9 28 8 14 -4 14 0 14 1 14 5 28 -1 14 5 28 3 28 11 27 8 14 -2 14 1 14 6 14 3 14 7 98 68 27 15 28 14 14 5 28 7 28 -5 42 0 14 16 14 28 27 91 42 158 14 44 14 36 14 25 14 15 14 5 70 -3 222 -2 126 -8 223 -27 195 -38 111 -25 28 -13 42 -29 14 -7 14 -4 69 -11 14 -3 14 -6 112 -55 27 -9 181 -35 112 -17 28 -1 55 4 42 -4 56 -2"/>
<path stroke="#109a40" d="M263 3323 l125 0 14 -3 14 -5 70 -40 28 -19 83 -71 14 -8 28 -9 56 -5 28 1 14 11 27 39 14 15 14 -8 14 -24 14 -49 14 -113 14 -286 28 -930 14 -300 14 -116 14 -36 14 -25 27 14 28 -33 14 -6 14 -15 14 -30 14 -23 14 -18 28 -7 14 -19 14 -4 28 -15 14 37 13 51 14 30 14 20 14 -1 14 -23 14 -12 14 -8 14 -21 14 0 14 4 14 10 14 5 14 -4 14 3 27 17 14 -2 14 6 42 55 28 91 14 28 28 -8 14 -2 14 -21 13 -11 28 -4 14 12 14 17 14 8 14 0 14 -4 14 27 42 103 14 112 14 216 41 854 14 191 14 144 14 60 14 25 14 -31 14 -52 14 -66 14 -52 14 -39 41 -80 14 -21 42 -59 28 -29 14 -12 28 -15 14 -13 14 -2 28 -12 14 -1 27 -8 28 4 28 12 28 7 28 13 14 2 14 5 14 13 27 11 14 10 28 32 14 22 14 36 14 62 14 75 42 264 14 53 14 27 14 -19 13 -44 28 -132 14 -53 28 -80 14 -28 14 -22 14 -15 42 -46 28 -23 13 -8 84 -15 14 3 28 -2 14 1 28 10 55 -8 14 2 14 7 56 15 14 6 14 6 28 19 41 38 28 23 42 41 28 19 56 28 41 17 28 16 42 16 28 6 42 17 14 2 14 10 14 19 27 52 42 91 28 49 14 17 14 9 14 2 70 -5 222 -5 126 -10 28 -4 195 -37 195 -55 111 -38 14 -8 14 -11 42 -41 14 -11 14 -6 69 -16 14 -5 14 -8 112 -81 27 -14 181 -52 112 -25 28 -2 55 3 98 -6"/>
<path stroke="#00c8d0" d="M263 3288 l125 0 14 -1 98 -22 28 -8 55 -21 28 -6 14 -1 70 5 28 7 14 10 27 33 14 13 14 -2 14 -14 28 -61 14 -124 14 -300 28 -741 14 -191 14 -74 14 -16 14 3 13 -2 14 -7 14 -1 28 -15 14 12 14 7 14 -2 14 -5 14 -12 14 -8 14 4 28 24 14 16 13 2 14 11 14 23 28 -24 14 -10 14 -23 14 -4 14 3 14 -29 14 -10 14 26 14 4 14 -10 13 -7 14 0 14 9 14 0 14 -6 14 17 42 130 14 12 14 -12 14 -6 14 -16 14 -24 13 -12 14 3 14 -11 14 4 14 9 14 -10 14 0 42 55 28 50 14 96 14 169 41 662 14 149 14 111 14 43 14 14 14 -52 14 -86 14 -110 14 -85 14 -60 41 -141 42 -99 28 -58 14 -36 28 -18 28 -51 14 -14 14 -2 14 -10 14 -15 13 2 14 4 28 15 14 0 28 27 14 11 28 40 28 31 28 41 13 13 42 30 14 35 14 54 14 83 14 102 42 356 14 71 14 37 14 -19 13 -45 28 -139 14 -50 28 -84 14 -32 14 -24 42 -45 14 -10 28 -34 13 -5 28 -4 28 -7 14 -1 14 4 28 -4 42 19 14 2 14 7 14 -1 13 -7 14 5 28 -1 28 10 28 17 14 2 14 8 14 17 28 28 41 53 56 77 14 17 14 13 84 60 27 17 14 5 28 16 14 4 42 28 28 11 14 3 14 8 14 15 27 45 42 76 14 21 14 18 14 13 14 8 14 1 70 -4 222 -4 126 -10 223 -39 195 -54 111 -37 14 -10 14 -15 42 -61 14 -14 14 -9 83 -19 126 -57 27 -10 195 -54 98 -21 14 1 14 5 28 17 14 5 13 -1 42 -26 14 -4 42 -2"/>
<path stroke="#e600d8" d="M263 3309 l125 0 14 -3 14 -5 84 -50 28 -19 55 -42 28 -18 28 -12 56 -18 14 -2 14 1 14 12 27 46 14 17 14 -9 14 -28 28 -92 14 -123 14 -281 14 -368 14 -309 14 -142 14 -62 14 -25 27 24 14 -7 14 -15 14 -21 28 -6 14 -6 14 0 28 -29 14 -10 28 -14 14 -1 14 11 13 4 14 11 14 7 28 8 28 -33 14 4 14 8 14 3 14 -2 14 1 14 8 14 4 41 -29 14 5 14 12 14 3 14 29 28 102 14 29 14 -10 14 -33 14 -40 27 -120 14 -21 14 -5 28 -42 14 6 14 11 14 -4 14 25 14 33 14 11 14 21 14 111 14 173 41 674 14 151 14 113 14 45 14 17 14 -45 42 -241 14 -58 14 -42 41 -101 42 -93 42 -79 42 -72 14 -17 14 -11 41 -47 14 -9 14 3 14 8 14 5 28 33 14 11 14 22 14 17 42 37 27 44 28 21 14 23 14 40 14 50 14 84 14 102 42 351 14 69 14 37 14 -16 13 -41 28 -133 14 -48 28 -75 14 -31 42 -51 14 -9 28 -31 14 -3 41 -19 14 0 14 -3 14 -7 14 0 14 5 14 -1 28 -7 28 5 14 -7 14 0 13 6 28 1 14 4 14 8 28 21 28 8 14 7 28 27 28 39 27 35 14 26 56 82 28 21 14 17 14 12 55 43 28 18 28 13 70 39 28 11 14 11 14 20 13 31 70 171 14 26 14 20 14 10 14 3 70 -6 222 -4 126 -13 28 -4 195 -42 195 -65 111 -44 14 -10 14 -14 42 -56 14 -14 14 -8 69 -18 14 -6 14 -8 112 -86 27 -15 195 -65 98 -24 28 -2 55 3 56 -5 42 -2"/>
<path stroke="#109a40" d="M263 3285 l125 0 14 -5 42 -33 14 -7 42 -17 83 -27 56 -14 56 -10 28 -3 14 1 41 11 14 -3 14 -7 28 -20 14 -28 14 -62 14 -80 14 -62 14 -28 14 -14 28 2 13 -18 14 -31 28 -74 28 -85 28 -73 14 -50 14 -40 14 -29 14 -25 14 -18 14 -25 14 -10 13 3 14 -2 14 -5 14 -20 56 -153 28 -57 28 -18 14 -18 14 -5 27 -19 14 -17 14 -23 14 3 28 37 14 32 14 40 14 20 14 -2 14 -15 14 -20 14 -8 13 -15 14 -25 14 -17 28 -15 28 -24 14 1 28 32 14 23 14 45 14 78 14 118 13 153 28 263 14 89 14 67 14 25 14 6 14 -45 14 -77 14 -106 14 -73 28 -92 14 -42 55 -96 14 -20 28 -21 28 -15 14 -6 14 -3 14 -6 14 0 14 5 14 -6 13 0 14 7 28 2 14 -4 28 9 14 -6 14 5 14 0 14 -5 14 -2 14 1 14 7 27 -12 14 -2 14 -4 14 19 14 44 14 77 14 101 42 368 14 75 14 41 14 -20 13 -54 28 -168 14 -60 28 -80 28 -69 14 -22 42 -45 14 -4 27 13 28 -9 14 3 14 -3 14 -6 14 3 14 7 14 -1 14 4 14 13 14 8 14 13 14 1 41 -36 14 -2 14 5 28 7 56 7 14 -1 14 1 14 13 14 8 27 23 28 16 14 5 28 22 84 30 41 20 28 5 14 9 28 4 28 7 42 23 14 25 14 45 27 132 42 230 14 64 14 52 14 38 14 22 14 7 70 -7 222 -6 126 -16 28 -6 195 -55 195 -84 111 -57 14 -13 14 -18 42 -72 14 -17 14 -11 69 -24 14 -7 14 -11 112 -112 27 -20 195 -84 98 -31 14 0 14 6 28 22 14 7 13 -2 42 -33 14 -6 42 -2"/>
<path stroke="#000000" d="M263 3368 l125 0 14 -2 14 -5 56 -29 28 -20 28 -31 55 -90 14 -16 14 -12 14 -2 14 2 42 27 14 7 42 14 27 17 14 5 14 -7 14 -17 14 -37 14 -131 14 -352 28 -998 14 -289 14 -96 28 -10 14 7 13 4 14 -8 56 -43 28 -51 14 -1 14 -15 14 -12 14 8 14 -1 14 12 41 65 14 6 28 -14 14 -29 14 -48 14 -6 28 -2 14 10 14 -10 14 10 14 2 13 -17 14 -10 14 -1 14 4 14 18 28 27 28 60 14 40 14 -8 14 -21 14 -27 41 -95 14 -15 14 -12 14 3 14 12 14 14 28 36 14 32 28 106 14 129 14 190 27 478 14 202 14 142 14 103 14 35 14 5 14 -58 42 -295 14 -58 41 -149 28 -78 42 -84 14 -37 14 -29 14 -12 14 -3 14 -16 14 -27 14 -8 14 -13 14 -23 13 -9 14 -1 14 -11 14 -2 14 4 14 -5 28 25 14 2 14 14 42 65 14 29 27 45 28 51 14 64 14 90 14 153 14 185 42 640 14 128 14 65 14 -44 13 -101 28 -301 14 -120 14 -100 14 -98 14 -69 14 -57 14 -39 14 -30 56 -116 13 -20 14 -11 14 -5 28 -15 42 -6 28 0 14 -9 28 22 28 -1 41 -9 14 10 14 19 14 27 14 14 14 -4 28 19 14 12 55 102 42 90 14 26 14 18 28 46 42 47 14 10 14 15 14 20 13 14 56 42 14 16 14 13 14 6 28 21 14 14 14 10 14 23 14 50 27 159 42 267 14 72 14 57 14 41 14 25 14 8 70 -3 362 -4 223 -7 292 -15 28 -5 42 -11 28 -5 445 -23 98 -3 56 6 55 -6 56 -1"/>
<path stroke="#000000" d="M263 3217 l125 0 14 -4 14 -7 14 -11 42 -40 56 -63 83 -107 98 -115 69 -89 28 -38 14 -16 14 -21 14 -31 28 -99 14 -24 14 -3 14 5 14 -1 14 -7 13 -19 14 -28 28 -98 28 -83 28 -102 28 -79 14 -51 14 -32 14 -6 14 -24 14 -30 27 -41 42 -92 14 -22 42 -37 14 -22 14 -17 14 -12 28 -36 27 -21 28 -41 14 6 14 24 14 27 14 42 14 27 14 7 14 16 14 -3 28 -11 13 -15 14 -12 14 -7 14 -18 14 -8 14 5 14 -8 14 17 14 21 14 18 14 36 14 49 14 83 14 125 27 307 14 132 14 95 14 71 14 28 14 8 14 -50 14 -89 14 -113 14 -92 14 -60 28 -87 13 -37 14 -23 28 -40 28 -62 14 -26 14 -3 14 3 14 -8 14 -5 14 4 14 -14 14 -22 14 -7 13 -18 14 -25 14 -5 14 -7 28 -48 14 -11 14 -6 28 -26 14 -16 14 5 14 17 14 -9 13 7 14 30 28 29 14 49 14 64 14 92 56 460 14 69 14 42 14 -2 13 -25 28 -88 14 -33 42 -73 14 -12 14 -7 14 -14 28 -15 28 6 13 -8 28 -2 14 3 14 7 28 1 28 10 14 2 14 12 14 21 14 12 28 -10 27 6 42 4 14 -3 42 3 28 8 28 -3 27 10 28 14 28 6 14 9 14 6 28 6 42 19 41 7 14 10 14 5 14 -1 14 4 14 10 14 4 28 6 14 -2 14 9 14 17 14 32 14 56 27 165 42 286 14 80 14 64 14 46 14 27 14 8 70 -7 111 -3 251 -3 223 -7 292 -15 84 -11 97 -5 153 -17 293 -12 70 6 69 -6 42 -1"/>
<path stroke="#0000ff" d="M263 3399 l125 0 14 -17 42 -110 28 -43 56 -77 55 -82 14 -17 14 -14 28 -15 56 -13 28 -8 55 -4 14 -9 14 -15 14 -26 14 -66 14 -133 14 -161 14 -128 14 -61 14 -24 14 -9 14 1 14 -3 13 -1 14 3 56 -23 28 -4 28 -18 28 8 28 5 14 12 13 18 14 30 14 24 14 -2 14 -20 14 -31 28 -46 14 -13 14 -3 28 8 14 -4 27 9 14 -14 14 -9 42 15 14 23 14 30 14 38 14 18 14 -5 14 -9 28 -58 27 -38 14 -9 14 -4 28 16 14 -2 14 5 14 7 28 29 14 11 14 70 14 100 41 389 14 87 14 65 14 27 14 10 14 -21 14 -37 14 -47 14 -35 14 -26 14 -22 14 -15 41 -38 42 -23 28 -11 14 -3 14 3 28 -9 14 3 28 -10 41 -3 28 -5 28 4 42 1 14 5 28 4 55 19 14 5 14 15 14 27 14 41 14 51 42 173 14 35 14 19 14 -9 13 -25 28 -79 14 -28 28 -46 14 -17 14 -11 56 -22 28 -16 27 -4 28 0 14 -3 14 3 28 14 14 1 14 4 14 14 28 22 14 4 27 -16 28 -13 14 -3 14 1 14 -1 28 3 28 -3 14 5 14 9 28 22 27 26 14 9 42 39 28 11 28 19 69 33 56 18 56 23 42 9 14 9 14 12 27 36 42 63 28 36 14 13 14 7 14 2 70 -7 222 -6 126 -22 28 -7 195 -73 195 -110 111 -75 14 -18 14 -26 42 -102 14 -25 14 -15 69 -31 14 -9 14 -14 112 -136 27 -25 195 -110 98 -42 14 1 14 6 28 26 14 8 13 -2 14 -12 14 -16 14 -11 14 -7 42 -3"/>
<path stroke="#e600d8" d="M263 3431 l125 0 14 -5 14 -11 28 -27 28 -23 28 -27 28 -37 55 -101 14 -18 14 -13 14 -2 14 3 42 30 14 8 14 5 55 11 14 1 14 -7 14 -12 14 -26 14 -84 14 -266 28 -962 14 -325 14 -121 14 -34 14 -12 14 8 27 9 28 27 14 -17 14 -12 14 -5 28 6 14 -9 14 -30 14 -8 14 8 28 -64 13 -7 14 -14 14 -33 28 -111 14 -29 14 -10 14 -5 14 6 14 18 14 28 28 34 14 22 13 2 14 -5 14 0 28 -8 28 65 28 118 14 9 14 -16 28 -45 14 -16 13 -23 14 -34 14 -22 14 12 14 7 14 -3 14 12 14 3 14 9 28 58 14 56 14 97 14 172 41 656 14 146 14 109 14 46 14 19 14 -29 28 -109 14 -44 28 -72 14 -29 27 -27 14 -17 14 -20 14 -26 14 -17 14 -2 14 6 28 -15 14 -2 14 -16 14 -11 14 -9 14 -13 27 -7 14 -7 14 0 14 8 14 -4 14 1 14 13 14 6 14 -1 28 7 28 34 13 4 14 9 28 30 14 37 14 65 14 113 14 139 42 485 14 97 14 50 14 -30 13 -71 28 -215 14 -83 28 -127 28 -91 14 -27 56 -96 14 -14 13 -8 14 -16 14 -9 42 -6 14 -9 14 -4 14 1 14 -4 14 3 28 18 14 2 69 1 14 9 14 13 28 16 14 12 14 7 14 12 14 18 14 23 14 31 27 49 14 32 28 39 14 28 28 45 56 60 69 57 98 70 14 6 14 4 14 7 14 12 41 51 28 44 28 51 14 22 14 10 14 0 42 -17 28 -7 125 -14 111 -5 126 -16 195 -55 28 -10 208 -94 98 -53 56 -47 14 -10 14 -7 69 -23 14 -10 14 -16 112 -163 13 -15 14 -11 181 -80 28 -11 84 -26 28 -5 97 0 56 -4"/>
<path stroke="#0000ff" d="M263 3270 l125 0 14 -1 28 -9 42 -17 28 -17 28 -25 55 -74 14 -13 14 -10 14 -3 14 2 42 20 42 16 14 15 27 47 14 18 14 -8 14 -26 14 -65 14 -196 14 -428 28 -1007 14 -249 14 -82 14 -16 28 -8 13 -11 28 -16 14 3 28 22 28 1 14 11 14 -3 14 -11 14 4 14 13 14 18 14 31 13 37 14 48 14 28 28 -20 28 -118 28 -39 14 0 28 -23 41 5 28 7 28 1 14 11 14 29 14 48 14 39 28 37 14 -8 14 -41 14 -16 13 0 42 -21 28 3 28 29 14 -2 42 61 14 114 14 190 41 764 14 173 14 131 14 52 14 16 14 -66 42 -361 14 -75 28 -113 41 -150 14 -43 14 -30 42 -63 14 -24 28 -35 14 1 14 -5 14 -28 14 -7 13 3 14 -1 28 4 14 9 14 5 70 60 14 28 14 20 14 15 13 24 14 15 28 50 14 42 14 84 14 127 14 153 42 528 14 105 14 55 14 -26 13 -67 28 -204 14 -82 28 -125 14 -48 14 -38 28 -40 14 -31 14 -27 28 -43 13 -18 14 -3 70 -28 28 4 42 14 14 0 14 -3 14 11 13 7 14 -1 14 9 14 20 14 15 28 12 42 33 14 15 14 23 41 83 14 33 70 133 42 52 14 20 28 24 14 19 41 41 14 7 28 26 14 9 28 26 14 10 14 7 14 4 14 20 14 31 27 96 42 164 14 47 14 38 14 28 14 17 14 4 70 -7 222 -6 126 -13 28 -4 195 -44 222 -77 98 -42 70 -37 83 -23 14 -8 14 -13 112 -133 13 -13 14 -8 181 -63 112 -29 14 -1 14 2 42 12 13 -1 42 -14 14 -2 42 -2"/>
<path stroke="#c4cc00" d="M263 3346 l125 0 14 -8 14 -17 28 -40 84 -85 55 -63 28 -24 14 -7 14 -6 84 -14 14 3 27 14 14 4 14 -8 14 -17 14 -29 14 -53 14 -161 28 -682 14 -267 14 -131 14 -37 14 -9 14 3 13 2 28 -18 14 8 28 2 14 -2 14 -12 14 4 14 -10 14 -2 14 1 14 5 14 13 14 22 13 39 14 31 14 15 14 -11 14 -34 14 -58 14 -47 28 -70 28 -29 14 -4 28 -28 13 24 14 20 28 11 14 13 14 28 14 47 28 142 14 30 14 1 28 -32 14 -31 13 -56 14 -38 28 -53 14 -6 14 4 14 22 14 31 14 39 14 54 14 31 14 25 14 96 14 143 41 550 14 123 14 92 14 37 14 11 14 -44 14 -74 14 -93 14 -63 14 -47 14 -38 14 -30 27 -43 14 -16 14 -25 14 -35 28 -34 14 -25 28 -43 28 -36 14 -15 14 -2 27 -20 14 -6 14 1 14 10 14 -3 14 1 14 11 14 3 28 24 14 9 14 2 14 12 14 24 13 14 14 4 14 6 14 22 14 41 14 50 14 86 14 105 42 361 14 72 14 38 14 -14 13 -39 14 -62 14 -52 28 -86 14 -34 28 -52 14 -11 14 -6 28 -22 41 -13 14 5 28 -10 28 2 14 -2 14 -5 28 7 42 18 14 2 27 -22 14 -4 14 0 14 8 28 8 14 7 28 4 14 4 14 9 14 13 28 36 27 31 42 67 28 23 56 51 42 27 41 23 28 4 28 12 14 4 28 16 28 10 14 15 14 25 69 176 14 31 14 26 14 20 14 11 14 2 70 -9 111 -5 125 -2 126 -5 223 -20 181 -25 111 -18 28 -8 56 -20 97 -13 126 -48 27 -8 181 -25 112 -11 28 2 42 9 13 0 28 -8 28 -5 42 -1"/>
<path stroke="#ff0000" d="M263 3428 l125 0 14 -7 14 -14 42 -55 125 -144 28 -28 28 -23 56 -37 28 -13 14 4 27 24 14 8 14 -13 14 -27 28 -78 14 -65 14 -116 14 -138 14 -108 14 -50 14 -23 14 -5 14 5 27 1 28 -8 42 0 14 6 14 10 28 -22 14 9 28 23 14 6 27 53 14 7 14 0 14 -12 28 -41 14 -10 14 5 28 -13 42 5 13 6 28 -12 14 1 14 7 14 14 42 51 14 9 14 4 14 -8 14 -16 27 -22 28 -13 14 -3 14 0 42 13 14 13 28 15 14 14 14 44 14 70 41 270 14 60 14 45 14 18 14 7 14 -18 14 -30 14 -39 14 -31 14 -23 28 -36 13 -12 14 -8 56 -51 14 -5 14 -1 42 -19 14 -3 28 4 27 1 14 4 28 4 28 7 28 2 42 15 28 2 27 4 28 0 14 5 14 15 14 22 14 41 14 50 42 169 14 33 14 18 14 -7 13 -18 28 -59 42 -61 28 -24 28 -9 28 -12 14 -4 14 3 41 -5 42 3 28 6 14 5 28 4 28 13 69 -3 28 3 56 11 14 0 14 4 42 21 55 36 42 21 70 24 28 6 167 21 14 8 27 25 28 35 28 40 28 34 14 12 14 6 14 2 70 -6 236 -5 126 -7 209 -25 195 -36 111 -24 14 -6 14 -11 42 -42 14 -10 14 -6 83 -12 153 -42 181 -33 112 -15 28 -1 55 3 42 -4 56 -2"/>
<path stroke="#c4cc00" d="M263 3200 l125 0 14 -7 14 -16 28 -42 28 -36 97 -115 126 -133 28 -27 69 -63 28 -29 14 -21 14 -8 14 3 14 10 56 8 14 0 13 -19 14 -31 28 -74 14 -47 28 -69 28 -62 14 -40 14 -30 14 -21 14 -19 14 -14 27 -22 14 -3 14 -7 14 -30 28 -37 14 -33 14 -25 14 -10 28 -30 28 -19 14 -5 13 -13 14 -9 14 -14 14 -9 14 8 14 14 14 24 42 57 14 2 28 -12 14 2 13 0 14 -4 14 2 14 -2 14 4 14 16 42 17 28 39 14 14 14 73 14 111 41 433 14 97 14 73 14 27 14 7 14 -53 14 -92 14 -117 14 -89 14 -68 14 -50 27 -74 14 -18 42 -81 14 -22 14 -4 14 6 28 -18 14 -2 28 -8 14 -6 27 -3 14 -6 14 3 14 5 14 -1 14 7 14 3 14 1 14 10 14 6 14 -5 14 4 14 10 14 5 13 9 14 22 14 16 14 8 14 34 14 60 28 186 42 336 14 65 14 35 14 -30 13 -72 28 -223 14 -86 14 -71 42 -176 14 -45 14 -31 14 -11 28 -11 14 -10 13 -3 14 5 14 -7 28 -3 14 -7 14 -4 14 -6 14 0 42 21 14 11 14 5 14 -8 13 -13 14 -8 14 2 14 5 14 12 14 6 14 -6 14 5 14 11 14 1 28 25 14 8 27 45 14 15 56 77 28 44 14 10 28 30 28 34 14 9 55 25 28 3 14 10 14 13 14 8 28 9 14 8 14 33 14 45 13 61 28 139 28 155 14 63 14 51 14 37 14 22 14 6 70 -6 222 -5 126 -11 28 -3 195 -37 222 -64 98 -34 70 -39 14 -4 69 -16 14 -6 14 -10 112 -103 13 -10 14 -7 181 -51 112 -24 14 0 14 2 28 11 14 3 13 -1 28 -11 28 -8 42 -1"/>
<path stroke="#c4cc00" d="M263 3424 l125 0 14 -5 14 -8 14 -15 42 -51 56 -83 195 -332 55 -89 28 -57 14 -25 28 -38 14 -29 14 -18 28 -30 28 0 27 -11 14 -10 28 -49 14 -18 14 -13 28 -47 28 -56 42 -57 14 -4 27 -38 28 -6 14 -9 28 -42 14 -9 14 -6 28 -7 28 -3 14 -4 27 -16 14 7 14 0 14 -12 14 7 14 21 14 26 28 76 14 24 14 -1 28 -35 27 -48 14 -13 14 -5 28 -6 28 20 14 6 28 19 14 12 14 23 14 43 14 69 41 263 14 60 14 46 14 19 14 7 14 -29 14 -53 14 -71 14 -52 14 -44 28 -69 13 -26 14 -13 42 -67 28 -24 28 1 14 -6 28 2 14 -2 14 -2 14 -9 13 -3 14 0 28 5 14 -2 14 1 14 6 28 1 28 -6 14 6 14 3 14 0 41 23 14 3 14 24 14 44 14 76 14 93 42 325 14 65 14 35 14 -25 13 -61 28 -185 14 -72 28 -113 42 -147 14 -36 14 -19 14 -16 14 -6 14 -3 13 -5 14 -2 14 2 14 7 14 13 14 7 14 -2 14 5 14 17 14 13 14 3 14 11 28 29 14 0 13 -6 14 2 14 8 14 5 14 0 28 15 14 -7 14 -1 28 6 14 9 28 38 27 26 14 18 42 35 14 8 56 40 28 9 14 1 27 14 14 -2 28 18 14 -1 28 12 28 8 28 15 14 22 14 41 13 51 28 119 28 132 28 103 14 36 14 20 14 4 42 -9 28 -3 125 -8 97 -2 140 -6 223 -27 181 -33 111 -25 14 -6 14 -11 42 -43 14 -10 14 -6 83 -12 139 -38 195 -36 112 -15 28 3 28 10 14 3 13 0 42 -16 14 -2 42 -2"/>
<path stroke="#e600d8" d="M263 3096 l125 0 14 -10 14 -20 28 -54 42 -71 70 -110 55 -84 112 -148 55 -59 42 -62 14 -17 28 -83 14 -25 14 -16 14 -4 14 3 14 -10 14 3 13 -2 14 -11 28 -42 28 -68 14 -12 28 -44 14 -15 28 -37 14 -13 14 -2 14 18 27 28 14 16 14 -15 14 -32 28 -99 14 -24 14 -11 14 -24 14 -17 14 1 14 -4 14 -13 55 -32 14 10 14 17 14 3 28 67 14 17 14 -1 14 -15 14 -7 27 -26 28 -18 14 15 14 3 14 -7 28 27 14 7 28 43 14 13 14 66 14 86 41 325 14 73 14 54 14 21 14 6 14 -36 14 -61 14 -84 14 -54 42 -111 27 -32 42 -81 14 -11 14 -15 28 -37 14 -23 28 -20 28 -5 14 6 13 13 14 -1 14 10 14 28 14 22 14 -1 14 2 14 17 14 4 14 9 14 16 14 4 28 13 13 -5 28 3 14 -3 14 17 14 37 14 61 14 78 42 277 14 56 14 33 14 -14 13 -45 28 -148 42 -136 14 -39 14 -29 14 -22 14 -12 14 -4 14 -8 28 0 27 4 14 -5 14 -1 14 5 14 8 28 -7 14 0 14 5 14 13 14 4 28 2 14 -3 27 -14 28 6 14 -2 42 11 28 -9 14 13 14 6 14 2 14 10 13 2 28 25 28 19 42 20 14 2 14 6 14 13 14 8 55 25 14 4 14 -1 28 6 14 0 14 4 14 -3 14 8 28 10 14 41 14 61 27 196 42 334 14 92 14 73 14 52 14 31 14 10 70 -5 222 -3 126 -9 223 -32 195 -46 111 -30 28 -15 42 -33 14 -8 14 -6 69 -12 14 -5 14 -6 112 -68 27 -12 195 -45 98 -17 14 0 14 3 28 11 14 3 13 -1 42 -16 14 -3 42 -1"/>
<path stroke="#109a40" d="M263 3399 l125 0 14 -28 14 -56 14 -72 14 -59 14 -45 42 -116 56 -131 55 -115 28 -50 56 -92 111 -167 14 -18 14 -2 14 -34 14 -54 14 -74 14 -57 14 -40 14 -22 14 -1 14 -6 27 -31 28 -60 14 -34 14 -41 28 -51 28 -83 14 -27 28 -17 14 -2 14 10 13 20 28 25 14 -7 28 -63 14 -42 14 -18 14 -9 14 -16 14 -7 14 4 14 0 14 -10 13 2 14 -8 14 -22 14 0 14 24 14 40 14 28 28 73 14 23 14 15 28 1 14 -11 13 12 14 0 14 -15 14 11 14 2 14 14 14 8 14 -7 14 -2 14 4 28 32 14 44 14 61 41 233 14 56 14 45 14 21 14 12 14 -20 14 -41 14 -55 14 -40 14 -27 14 -4 14 -15 13 -23 14 -9 14 1 42 -22 14 0 14 14 14 1 28 19 28 13 14 3 27 3 14 -3 28 -9 14 -15 14 -7 28 -3 14 -5 14 1 14 -3 14 -10 14 5 14 8 27 -4 14 7 14 2 14 27 14 54 14 86 14 104 42 364 14 72 14 40 14 -25 13 -65 28 -199 14 -74 28 -121 14 -41 28 -69 14 -23 14 -14 28 -8 14 -1 13 9 14 6 28 6 14 5 28 -4 28 28 14 8 14 12 14 25 14 20 14 2 14 -18 13 -26 14 -13 28 -15 28 -6 14 1 28 9 28 -11 14 3 14 6 14 14 13 6 14 -1 14 13 28 4 28 41 28 36 14 24 14 20 14 14 14 20 14 16 27 10 28 21 14 7 28 1 14 10 14 -5 14 -2 14 6 14 0 14 27 14 55 69 453 14 74 14 62 14 45 14 26 14 7 42 -9 28 -3 125 -8 237 -6 223 -19 195 -26 97 -15 28 -9 56 -22 97 -13 126 -42 27 -7 195 -26 98 -9 83 1 98 -3"/>
<path stroke="#e600d8" d="M263 3314 l125 0 14 -5 14 -12 84 -108 28 -43 55 -101 28 -41 28 -24 42 -21 42 -26 14 -4 27 1 14 -3 14 -17 14 -27 14 -36 14 -64 14 -145 28 -441 14 -132 14 -47 14 -12 14 -17 14 -4 13 -10 14 -6 14 5 14 -2 14 -10 14 -19 14 0 14 5 14 -13 28 -19 14 -4 28 3 27 23 28 67 14 14 14 -3 70 -62 14 -19 14 -32 14 -15 14 -8 27 -21 14 -1 14 10 14 3 14 11 14 34 28 124 14 30 14 -1 14 -33 28 -46 13 -34 14 -16 14 -7 28 -9 14 3 14 -2 14 19 14 25 28 10 14 31 14 66 14 90 41 340 14 76 14 56 14 24 14 8 14 -22 14 -37 14 -47 14 -35 28 -53 14 -21 13 -17 14 -9 14 -4 14 -16 14 -20 14 -13 42 -23 14 -12 14 -20 14 -9 14 -5 41 -44 28 -21 14 -18 42 -26 28 -6 14 8 28 7 14 1 14 12 27 43 28 34 14 42 14 70 14 100 56 499 14 75 14 40 14 -18 13 -49 28 -150 14 -59 14 -46 14 -44 14 -31 14 -25 28 -38 42 -48 14 -13 41 -22 28 -5 14 -5 14 1 14 8 14 -2 14 -6 14 5 14 18 14 11 41 -1 14 5 14 19 14 10 14 4 28 26 14 10 14 5 14 3 14 8 28 37 27 44 28 26 14 21 28 31 42 36 14 7 28 20 28 15 55 35 42 29 28 16 42 17 28 42 13 34 70 201 14 31 14 23 14 13 14 3 70 -7 362 -9 223 -15 208 -22 98 -12 70 -13 97 -9 126 -41 27 -6 195 -20 98 -7 28 4 42 10 13 0 42 -13 14 -2 42 -1"/>
<path stroke="#e600d8" d="M263 3343 l125 0 14 -4 14 -8 84 -77 97 -103 28 -26 98 -83 55 -31 14 -14 14 -18 14 -25 14 -66 14 -155 28 -385 14 -95 14 -28 14 -1 28 -20 13 10 14 2 14 -8 14 4 28 -10 14 9 14 -6 14 -2 14 8 14 -3 14 -5 14 -1 14 7 14 11 13 -1 14 3 14 12 14 -1 14 -16 42 -25 42 0 28 -16 27 -3 14 11 14 8 14 -1 14 17 14 24 14 39 28 106 14 36 14 16 14 -1 28 -15 13 -5 14 1 28 -14 14 -4 28 -20 28 -5 14 3 14 7 14 14 14 43 14 80 41 312 14 71 14 53 14 22 14 8 14 -17 14 -29 28 -67 42 -50 27 -17 14 -13 28 -15 14 -15 14 -6 14 0 42 -15 14 5 14 0 14 -9 41 -7 14 7 14 0 14 -5 56 15 28 1 28 6 14 0 13 7 14 13 28 1 14 22 14 27 14 47 14 59 42 201 14 40 14 21 14 -12 13 -32 28 -99 14 -36 28 -63 14 -25 14 -14 28 -20 28 -16 28 -24 13 -7 14 4 42 -9 28 4 14 -7 14 -4 28 -2 14 1 28 -3 14 2 13 -3 14 -2 14 2 14 -2 28 5 14 -3 28 11 14 3 69 68 14 9 70 59 56 33 28 19 14 7 41 31 70 39 28 19 14 8 14 4 14 10 14 19 41 76 42 83 14 24 14 18 14 10 14 3 70 -8 222 -6 126 -22 28 -8 195 -74 195 -113 111 -76 14 -17 14 -22 42 -87 14 -22 14 -14 69 -31 14 -11 14 -15 112 -163 13 -16 14 -12 195 -113 98 -43 14 1 14 7 28 26 14 9 13 -2 14 -12 14 -17 14 -12 14 -7 42 -3"/>
<path stroke="#00c8d0" d="M263 3231 l125 0 14 -18 14 -36 28 -89 28 -68 56 -119 55 -110 56 -96 56 -84 28 -39 14 -15 41 -37 14 -21 28 -54 14 -31 14 -42 28 -133 14 -30 28 -38 14 -7 14 -3 13 -22 14 -30 56 -186 28 -82 14 -55 14 -41 14 -23 14 -32 14 -22 14 -12 14 -7 13 8 14 -2 14 10 14 1 14 -13 28 -5 14 5 28 28 28 1 14 -2 14 -6 13 -14 14 -23 14 -17 14 -8 14 -3 14 0 42 57 14 24 14 -14 14 -21 14 -8 14 -17 13 -12 14 -3 14 6 14 12 14 0 14 3 28 21 56 71 14 77 14 112 41 426 14 96 14 71 14 28 14 8 14 -36 14 -63 14 -80 28 -96 14 -38 27 -45 14 -18 14 -10 28 -36 14 2 14 -3 14 1 28 -14 14 4 14 -3 14 0 14 3 14 -6 13 1 14 10 14 -7 14 0 14 9 28 -17 28 17 28 -8 14 8 14 2 14 -2 13 5 42 11 14 34 14 53 14 78 14 96 42 331 14 64 14 37 14 -19 13 -53 28 -165 14 -63 14 -50 42 -139 42 -90 14 -9 14 1 14 -7 27 -22 14 -4 42 0 28 10 28 16 28 44 28 30 27 -2 14 9 14 5 14 9 28 12 14 11 28 0 28 20 14 18 69 106 14 14 28 50 42 41 28 23 28 37 69 43 42 35 14 6 14 11 14 15 28 12 14 29 14 43 27 124 42 220 14 62 14 50 14 37 14 21 14 6 70 -7 222 -6 126 -14 28 -5 195 -51 195 -77 111 -52 14 -13 14 -17 42 -70 14 -17 14 -11 69 -21 14 -7 14 -10 112 -96 27 -18 181 -72 112 -34 28 -1 42 8 13 0 42 -10 56 -4"/>
<path stroke="#0000ff" d="M263 3332 l125 0 14 -10 14 -20 28 -51 28 -42 97 -130 56 -66 70 -71 28 -27 55 -41 14 -14 28 -37 14 -22 28 -60 14 -14 14 -9 14 -5 14 -2 28 1 13 -10 14 -19 14 -34 28 -49 14 -30 28 -71 14 -24 28 -58 14 -18 14 -7 28 -22 13 -4 14 -1 14 -5 14 -10 14 -26 28 -62 14 -21 28 -27 28 -24 28 -10 27 -27 28 -7 14 -10 14 22 28 113 14 48 14 24 14 0 14 -17 14 -23 27 -65 14 -17 14 -2 14 6 28 6 28 32 14 1 42 33 14 43 14 66 41 251 14 57 14 43 14 17 14 6 14 -20 14 -35 28 -84 14 -20 28 -35 41 -32 42 -24 14 -1 14 4 14 -1 56 -8 14 1 14 13 13 8 14 4 14 6 14 3 28 -3 14 4 14 1 14 -7 28 5 14 -2 14 1 27 -14 28 2 14 4 14 18 14 31 14 60 14 75 42 264 14 53 14 28 14 -12 13 -35 28 -108 14 -40 42 -85 14 -24 14 -16 28 -15 42 -7 13 5 14 -1 14 -5 14 1 28 11 14 -1 14 -4 14 3 28 12 14 9 14 5 28 1 27 -13 14 -1 14 0 14 4 28 2 14 4 28 -3 42 28 27 26 14 18 42 38 28 22 28 17 42 32 14 8 41 16 56 32 14 3 70 28 14 18 14 28 27 87 42 148 14 40 14 33 14 23 14 14 14 4 70 -2 222 -2 126 -5 223 -19 195 -26 111 -18 28 -9 42 -22 14 -6 14 -3 83 -10 126 -38 27 -6 195 -26 98 -10 28 1 42 6 13 -1 56 -7 42 -1"/>
<path stroke="#c4cc00" d="M263 3421 l125 0 28 -3 28 -6 84 -25 167 -66 28 -6 14 6 27 22 14 8 14 -7 14 -19 14 -38 14 -98 14 -225 28 -572 14 -148 14 -52 14 -19 14 -6 14 6 13 11 14 -2 14 -10 14 1 14 -4 28 11 14 -12 14 2 14 7 14 -1 14 -8 14 3 14 13 27 46 28 51 14 -1 14 -32 28 -78 14 -33 28 -20 14 -17 14 -4 14 7 14 0 13 -13 14 1 14 2 14 -11 14 1 14 20 14 26 28 89 14 34 14 2 28 -57 27 -70 28 -20 14 -20 14 -3 28 3 14 8 14 2 14 19 28 65 14 64 14 114 27 304 14 132 14 95 14 70 14 29 14 11 14 -15 42 -77 14 -16 14 -12 14 -18 13 -12 14 -4 14 -7 28 -26 28 -14 14 -5 14 -1 42 -15 14 -2 14 2 41 -6 56 1 28 7 14 1 14 8 28 4 28 22 55 33 14 21 14 32 14 52 14 63 42 218 14 44 14 22 14 -7 13 -16 28 -53 14 -20 28 -29 14 -12 56 -27 42 -13 13 -6 28 0 28 -5 42 -1 42 1 28 7 14 -1 27 -5 14 -1 28 8 28 3 14 6 42 11 14 5 42 23 69 46 28 14 28 10 14 7 83 28 70 16 28 8 42 6 14 5 41 27 42 36 28 21 14 8 14 4 14 1 70 -5 348 -8 237 -17 195 -21 97 -13 28 -9 42 -21 14 -5 14 -3 83 -8 126 -28 27 -5 181 -20 112 -9 181 -3"/>
<path stroke="#00c8d0" d="M263 3289 l125 0 28 -5 84 -38 125 -67 98 -43 55 -22 70 -37 14 -13 14 -17 14 -10 28 -9 28 2 13 -9 14 -18 28 -48 28 -66 28 -58 14 -25 70 -86 14 -11 13 1 14 -6 14 -12 14 -15 28 -48 28 -35 28 -20 42 -34 14 -1 13 -9 14 -16 14 -7 28 -4 14 12 14 33 28 77 14 22 14 7 55 -41 28 2 14 -4 56 34 14 3 14 12 14 17 14 8 14 31 14 52 41 196 14 44 14 33 14 13 14 4 14 -17 14 -31 14 -43 14 -28 28 -37 14 -12 27 -30 56 -40 14 -4 14 -1 28 8 14 -4 14 0 14 3 14 0 27 -3 70 12 14 4 14 -4 28 4 14 -3 14 2 55 2 14 -1 14 -4 14 3 14 10 14 30 14 43 42 174 14 38 14 22 14 -5 13 -23 28 -78 70 -117 28 -29 14 -8 28 -2 14 -3 13 2 28 15 28 11 14 3 28 0 28 3 14 5 28 22 14 1 41 -23 14 1 14 7 14 1 28 -3 14 2 28 -1 28 10 28 19 27 26 28 13 14 12 42 18 56 30 14 4 27 16 28 5 28 11 14 3 14 6 28 7 42 14 14 9 14 17 27 53 42 92 28 50 14 17 14 10 14 2 70 -7 222 -6 126 -20 28 -7 195 -66 195 -101 111 -69 14 -20 14 -30 42 -125 14 -29 14 -18 69 -28 14 -7 139 -101 195 -103 28 -13 84 -32 14 -1 14 2 28 11 14 3 13 -1 42 -17 14 -3 42 -3"/>
<path stroke="#000000" d="M263 3439 l125 0 14 -7 14 -14 28 -35 56 -59 14 -19 28 -43 41 -76 14 -18 14 -15 14 -5 14 0 56 21 28 1 41 -5 14 -3 14 -9 14 -11 14 -19 14 -47 14 -160 28 -635 14 -252 14 -110 14 -26 28 -18 27 7 14 -2 14 12 14 -1 14 -11 14 -3 28 5 42 0 14 9 14 1 14 -3 41 47 14 6 14 0 14 -14 14 -23 28 -18 14 4 14 11 14 -1 14 -8 14 -2 27 13 28 -3 14 10 14 -1 14 4 14 22 14 28 14 14 14 -2 14 -6 14 -23 14 -15 13 -10 14 -31 14 -16 14 2 14 -1 14 3 14 9 14 -5 14 5 14 24 14 14 14 20 14 72 14 117 41 457 14 103 14 78 14 33 14 15 14 -15 14 -28 14 -34 14 -26 14 -19 14 -14 41 -33 14 -5 28 -19 28 -15 28 -2 28 -9 14 -8 14 -3 14 6 27 -4 14 -6 14 1 14 10 28 -2 14 5 42 9 14 7 14 3 14 -3 14 0 41 22 14 3 14 21 14 58 14 80 14 98 42 344 14 69 14 35 14 -20 13 -47 28 -143 14 -53 28 -86 14 -33 14 -25 28 -27 28 -24 14 -20 14 -12 27 -14 28 -7 42 -4 28 9 28 2 28 22 14 0 27 -18 14 -6 14 0 14 7 14 -2 14 2 14 12 14 4 28 15 14 2 14 8 28 37 41 38 56 61 84 59 14 5 27 17 56 18 28 14 28 10 28 4 14 9 27 34 28 42 56 96 14 16 14 9 14 2 70 -9 111 -4 251 -4 223 -8 292 -19 28 -6 42 -13 28 -6 83 -4 153 -14 195 -12 98 -4 28 2 42 6 13 0 42 -8 56 -1"/>
<path stroke="#109a40" d="M263 3374 l125 0 14 -2 14 -5 14 -9 42 -29 42 -34 97 -95 98 -70 55 -47 42 -38 14 -19 14 -45 28 -137 14 -55 14 -25 14 -9 28 1 14 7 13 -9 14 -32 14 -44 42 -111 14 -41 14 -51 42 -107 14 -30 42 -60 13 -2 14 -10 28 -44 28 -75 28 -68 14 -22 28 -19 14 -6 14 -15 14 -31 13 -15 14 -7 14 -17 14 1 14 4 14 7 14 17 28 48 14 14 14 8 14 2 14 -5 14 15 13 6 14 3 14 8 14 4 28 22 28 32 14 6 14 9 14 15 14 18 14 65 14 104 41 416 14 95 14 71 14 28 14 9 14 -32 14 -56 14 -74 14 -53 14 -38 41 -77 14 -19 14 -11 14 -16 14 -21 28 -20 14 -3 14 2 14 -3 28 -10 28 5 27 -19 14 2 14 7 14 1 14 -2 14 3 14 -2 14 1 14 7 28 5 28 -4 41 20 28 9 14 15 14 34 14 46 14 56 42 191 14 37 14 22 14 -7 13 -25 28 -80 42 -83 14 -17 28 -25 42 -22 14 0 27 4 28 -2 28 1 14 4 14 1 14 5 14 9 14 5 14 9 14 17 14 12 14 4 27 -3 28 0 56 3 14 4 14 -5 14 -12 28 -6 41 3 14 5 28 19 14 5 56 30 14 1 14 5 14 12 28 4 27 7 28 16 28 -1 14 7 42 16 28 7 14 19 14 41 27 105 42 184 14 52 14 42 14 30 14 18 14 5 70 -6 222 -4 126 -11 28 -4 195 -37 222 -66 98 -36 70 -39 14 -5 69 -16 14 -6 14 -10 112 -106 13 -10 14 -8 181 -53 112 -25 14 1 14 5 28 17 14 5 13 -1 42 -26 14 -4 42 -2"/>
<path stroke="#109a40" d="M263 3286 l125 0 14 -8 42 -57 70 -65 28 -32 41 -53 28 -23 14 -4 14 -1 56 11 28 1 14 4 27 11 14 3 14 -6 14 -12 28 -36 14 -45 14 -100 28 -229 14 -56 14 -10 14 -6 14 -12 13 1 28 -10 14 -6 42 -30 14 -1 14 -15 14 -23 14 -4 28 -1 14 10 14 13 13 18 14 31 14 22 14 -1 14 -7 28 -50 42 -13 14 5 14 -4 14 -1 14 3 27 -8 14 1 28 17 14 0 14 13 28 48 14 13 14 1 28 -19 14 -2 13 -6 14 -2 28 15 42 4 14 3 28 3 14 6 14 10 14 36 14 58 41 224 14 50 14 38 14 16 14 6 14 -14 14 -24 14 -34 14 -23 28 -25 27 -7 28 -21 14 -1 14 -6 28 -6 14 -8 28 3 14 -7 56 -17 13 -6 28 0 14 -2 28 3 28 -1 14 4 28 3 14 10 28 3 27 20 28 13 14 18 14 27 28 95 42 175 14 34 14 19 14 -7 13 -18 28 -57 14 -23 14 -16 28 -24 14 -8 14 -2 42 -18 28 -17 13 -10 14 -7 14 -4 14 -9 42 -12 14 0 14 3 28 1 28 12 14 1 14 -5 41 -5 28 6 28 -2 14 6 14 2 14 0 14 3 153 73 42 10 69 22 28 4 14 5 28 4 42 12 28 3 14 9 14 13 27 38 42 68 28 39 14 15 14 7 14 2 70 -9 125 -5 97 -1 126 -11 28 -4 195 -37 195 -58 111 -39 14 -10 14 -16 42 -64 14 -15 14 -9 83 -20 126 -63 27 -11 181 -54 112 -25 14 1 14 3 28 15 14 4 13 -1 42 -22 14 -4 42 -1"/>
<path stroke="#109a40" d="M263 3388 l125 0 14 -5 14 -10 28 -34 28 -41 42 -68 83 -151 126 -245 55 -85 14 -31 14 -37 28 -64 14 -41 42 -214 14 -32 14 -4 14 -10 14 -4 13 -14 14 -38 28 -103 28 -81 14 -47 28 -78 14 -51 14 -39 14 -21 14 -27 14 -16 14 -4 27 11 28 -26 14 -50 14 -72 14 -43 14 -26 14 -36 28 -18 14 -16 14 -9 27 -39 28 -8 14 -2 14 11 14 25 14 82 14 114 14 95 14 54 14 8 14 -14 14 -10 14 -25 13 -40 14 -12 42 16 14 10 28 44 14 18 14 7 14 11 14 35 14 52 14 71 41 262 14 58 14 45 14 18 14 6 14 -27 14 -47 14 -59 14 -41 14 -25 55 -68 14 -27 28 -33 14 -24 14 -17 28 -14 14 -5 14 -1 14 -7 14 -12 41 -13 14 8 14 0 14 3 14 8 14 1 28 -21 14 8 14 3 28 11 14 -4 14 -1 13 8 28 35 14 13 28 62 14 71 14 86 42 293 14 57 14 33 14 -11 13 -36 14 -61 28 -93 14 -36 28 -60 28 -42 14 -15 14 -3 42 -18 13 2 14 6 14 -1 14 3 14 12 28 -15 14 7 14 1 14 -5 14 12 14 18 14 5 28 -1 13 -13 14 -3 14 5 14 -1 14 1 14 3 14 7 56 6 28 20 14 15 27 31 14 22 14 18 28 25 28 30 28 13 28 23 14 6 14 14 13 8 14 3 28 22 28 9 14 11 14 6 28 22 14 5 14 7 14 35 14 57 27 171 42 293 14 80 14 64 14 45 14 27 14 9 70 -4 222 -2 126 -10 223 -34 195 -48 111 -33 14 -9 14 -14 42 -59 14 -14 14 -8 83 -17 139 -48 195 -49 112 -21 14 1 14 4 28 15 14 5 13 -1 42 -23 14 -4 42 -1"/>
<path stroke="#000000" d="M263 3386 l125 0 28 -4 28 -9 28 -12 14 -8 14 -10 14 -13 14 -15 14 -19 41 -64 14 -16 14 -11 14 -2 14 2 42 23 14 6 56 5 27 -1 14 -8 14 -12 14 -20 14 -25 14 -106 14 -286 28 -786 14 -199 14 -68 14 -16 14 -12 13 -22 28 -13 14 -15 14 -4 14 -12 14 -27 14 -14 28 -4 14 -6 14 -17 14 -2 28 20 13 24 14 30 14 10 14 -7 14 -22 28 -88 28 -12 14 -28 28 -21 14 -22 14 -14 13 -17 28 1 14 -19 14 -12 14 0 14 37 28 169 14 38 14 -16 14 -45 28 -137 13 -33 28 -49 14 -7 14 -1 28 25 14 23 28 86 14 32 14 25 14 123 14 193 41 742 14 165 14 123 14 51 14 20 14 -33 14 -53 14 -70 14 -56 28 -61 14 -36 41 -59 14 -16 14 -25 14 -19 14 -2 14 0 28 -19 28 -7 28 0 14 -4 13 -8 14 -2 14 8 14 4 14 -3 14 0 28 16 14 2 14 6 28 17 14 15 14 6 13 4 14 9 14 2 14 13 14 38 14 54 14 83 14 101 42 353 14 70 14 37 14 -20 13 -45 28 -138 14 -52 28 -86 14 -33 14 -20 14 -11 28 -35 14 -13 28 -32 13 -8 28 -7 28 -2 28 -8 28 4 14 -4 14 4 28 22 14 0 27 -13 14 -3 28 12 14 7 14 14 28 16 14 13 42 24 28 23 41 27 14 15 28 24 14 15 14 9 14 3 28 17 42 19 27 9 28 4 42 13 28 11 42 10 14 14 14 22 13 30 14 33 42 118 14 28 14 24 14 17 14 10 14 3 70 -6 362 -6 223 -12 292 -24 28 -8 42 -19 28 -7 83 -5 139 -16 223 -17 98 -5 167 -1"/>
<path stroke="#c4cc00" d="M263 3351 l125 0 14 -8 14 -15 28 -38 14 -16 139 -146 14 -12 28 -19 56 -31 14 -5 14 -2 14 10 27 42 14 15 14 -11 14 -31 28 -97 14 -135 14 -320 28 -793 14 -190 14 -73 14 -38 14 0 27 21 14 2 14 -15 14 -7 14 3 14 10 14 3 14 -16 28 -7 14 -6 14 17 14 5 14 41 13 59 14 44 14 32 14 -13 28 -97 14 -39 14 -33 14 -11 14 -6 14 -15 14 -4 14 -1 14 4 13 0 14 -3 28 19 14 14 14 10 14 16 28 73 14 30 14 -5 14 -20 28 -31 13 -6 28 -19 14 -3 14 6 14 17 28 2 14 19 14 36 14 27 14 11 14 97 14 164 41 645 14 145 14 109 14 45 14 18 14 -30 14 -49 14 -69 14 -48 42 -87 27 -30 14 -21 28 -32 28 -38 14 2 14 -2 14 -8 14 -2 14 -11 28 -2 27 -6 14 4 14 -2 14 2 14 12 14 5 28 -2 14 10 14 2 14 10 14 14 14 4 27 19 42 25 14 29 14 42 14 67 14 83 42 282 14 56 14 30 14 -13 13 -37 28 -115 14 -45 28 -67 28 -53 14 -14 28 -33 14 -5 28 -25 13 0 14 -13 14 -8 14 1 14 4 14 0 14 -5 56 3 14 2 14 9 14 -1 14 -5 13 0 28 19 14 2 14 9 14 5 14 1 70 26 28 37 13 10 42 39 28 31 14 9 42 33 28 29 14 21 41 44 28 22 28 32 42 32 42 19 14 14 14 19 27 63 42 107 14 31 14 26 14 20 14 11 14 2 70 -7 362 -10 223 -17 181 -22 111 -16 28 -7 56 -18 97 -11 126 -42 27 -7 195 -23 98 -9 83 2 98 -4"/>
<path stroke="#0000ff" d="M263 3381 l125 0 14 -1 28 -7 42 -14 28 -15 28 -22 55 -67 14 -12 14 -9 14 -1 14 3 42 23 42 16 14 8 27 26 14 9 14 -5 14 -16 14 -27 14 -39 14 -88 28 -321 14 -121 14 -49 14 -16 14 -6 41 -4 14 -4 56 0 28 -2 42 -14 14 -3 28 -17 13 -4 28 -22 28 -29 42 -22 14 3 14 16 28 24 14 6 27 23 14 2 14 12 14 7 14 1 14 12 14 24 28 59 14 17 14 1 28 -22 27 -27 14 -4 28 -15 14 -1 14 8 28 10 28 14 14 14 14 11 14 22 14 45 41 172 14 40 14 30 14 14 14 6 14 -10 42 -61 14 -12 28 -21 27 -11 70 -43 28 -3 14 -5 28 -6 28 -1 14 -6 13 -1 14 4 14 1 14 -2 14 1 14 4 14 0 28 7 14 0 14 5 28 2 14 8 27 7 14 9 14 6 14 14 14 29 14 47 14 57 42 190 14 37 14 20 14 -6 13 -15 28 -48 14 -19 28 -27 14 -11 14 -8 42 -13 28 -11 55 -8 28 -2 14 -5 28 4 28 0 28 5 42 -1 27 4 14 0 14 3 14 7 56 9 42 14 14 8 14 14 13 10 84 51 28 13 56 21 97 30 28 4 28 7 28 4 14 -1 14 -6 55 -45 14 -8 14 -3 28 6 14 1 56 -14 28 -5 125 -9 111 -4 112 -10 28 -4 181 -36 28 -8 181 -57 111 -42 14 -8 14 -12 42 -45 14 -11 14 -7 69 -17 14 -6 14 -9 112 -91 27 -16 195 -61 98 -22 14 1 14 5 28 20 14 7 13 -2 42 -31 14 -4 42 -3"/>
<path stroke="#ff0000" d="M263 3246 l139 -1 28 -7 42 -16 28 -17 28 -25 55 -76 14 -15 14 -10 14 -2 14 2 56 28 69 12 14 0 14 -7 14 -12 14 -41 14 -157 42 -1094 14 -167 14 -46 28 -13 14 -10 13 -17 14 -3 14 6 14 -12 14 -17 28 -4 28 -43 14 4 14 14 28 -15 14 2 14 16 27 92 14 22 14 -5 14 -28 28 -118 14 -43 14 -16 14 12 14 0 14 -8 14 -2 14 -12 13 -3 28 19 28 -16 14 29 42 178 14 26 14 -15 42 -88 27 -66 14 -24 14 -10 42 9 14 19 14 26 28 34 14 32 14 89 14 123 41 469 14 105 14 79 14 33 14 13 14 -22 14 -38 28 -92 14 -22 14 -15 14 -22 27 -34 14 -12 14 -16 14 -22 28 -21 28 -27 14 -4 28 -13 14 2 28 -25 55 17 14 -4 14 4 14 12 14 -1 28 13 14 4 28 19 14 15 13 4 14 -2 28 18 14 41 14 60 14 103 14 127 42 443 14 88 14 47 14 -22 13 -56 28 -172 14 -70 28 -98 28 -69 14 -20 14 -11 42 -63 14 -12 13 -5 14 -9 14 -4 14 -11 14 -2 14 5 14 -10 14 -1 14 7 28 3 28 39 14 -1 14 -10 27 -27 14 6 14 14 14 6 14 2 14 9 14 13 42 30 14 19 14 31 27 47 70 136 28 44 28 33 14 12 28 35 14 9 27 31 28 12 14 10 28 29 28 23 14 9 28 8 14 17 14 27 13 43 28 89 28 98 14 40 14 32 14 24 14 14 14 4 70 -4 222 -3 126 -3 223 -15 195 -21 111 -14 28 -7 56 -22 97 -10 126 -31 27 -5 181 -19 112 -9 28 2 42 6 13 0 42 -8 56 -2"/>
<path stroke="#0000ff" d="M263 3321 l125 0 14 -4 42 -30 70 -39 28 -22 41 -36 28 -16 28 -2 42 11 42 7 14 5 27 16 14 5 14 -4 14 -10 14 -23 14 -45 14 -163 14 -317 14 -381 14 -287 14 -135 14 -45 14 -10 55 -13 14 10 14 -2 14 -6 14 1 14 -2 14 3 14 1 14 8 14 -3 14 -12 14 15 41 98 14 19 14 0 14 -10 42 -93 14 -14 28 -2 14 -5 14 -2 14 5 13 -8 14 -1 14 10 14 3 14 -4 14 7 14 28 14 22 28 59 14 1 14 -4 14 -10 14 -15 13 -4 14 1 14 5 14 -4 28 16 14 0 14 15 14 11 14 23 28 37 14 90 14 142 41 552 14 124 14 93 14 39 14 18 14 -13 42 -72 42 -40 55 -32 14 -5 14 -2 28 -12 28 -14 28 -5 42 0 27 -9 42 8 28 -4 28 2 28 10 14 2 28 -2 27 15 28 9 28 45 14 47 14 58 42 199 14 40 14 21 14 -7 13 -17 28 -57 14 -21 28 -31 28 -22 28 -16 28 -12 41 -14 28 -8 56 -3 42 4 28 11 28 4 27 -4 28 0 14 3 28 11 28 5 14 6 14 6 42 24 27 25 70 55 14 9 42 22 28 12 41 22 28 9 28 12 56 15 56 8 14 6 27 17 56 39 28 15 14 4 14 0 70 -3 208 -3 28 -2 112 -13 28 -5 195 -49 195 -74 111 -51 14 -11 14 -15 42 -58 14 -14 14 -9 69 -20 14 -8 14 -10 112 -106 27 -18 181 -70 112 -33 14 0 14 4 28 16 14 5 13 -1 42 -24 14 -4 42 -2"/>
<path stroke="#00c8d0" d="M263 3248 l125 0 28 -6 28 -14 28 -19 42 -36 28 -32 55 -70 28 -27 56 -38 42 -32 55 -29 14 -16 42 -73 14 -77 14 -187 14 -247 14 -202 14 -93 14 -26 14 -14 14 -5 13 1 14 0 14 -4 28 -17 14 0 14 -9 14 -14 14 6 14 1 14 -11 14 3 14 9 14 2 27 17 28 23 14 -4 14 -12 14 -25 14 -17 28 -3 14 -4 14 -9 14 -5 14 -1 14 1 13 -1 14 -5 14 7 14 0 14 -3 28 27 14 23 14 32 14 11 14 -7 14 7 14 4 14 -12 13 -5 28 3 14 20 28 25 14 23 28 30 42 82 14 58 14 98 13 131 28 228 14 78 14 57 14 21 14 5 14 -29 14 -46 14 -62 14 -44 28 -71 14 -24 27 -26 28 -46 14 -7 14 -10 14 -14 56 -33 14 3 14 0 14 -8 14 1 13 -5 14 0 14 8 14 -7 14 -4 14 5 14 0 14 10 14 4 14 0 14 6 14 3 14 6 27 19 28 9 14 14 14 26 14 44 14 75 14 91 42 317 14 63 14 34 14 -16 13 -42 14 -66 28 -107 28 -77 14 -30 14 -22 97 -81 28 -9 14 -2 14 -10 14 -4 14 8 28 -3 28 11 28 21 14 1 14 -3 13 -15 14 -4 14 11 28 5 28 -1 14 8 28 1 14 13 28 16 27 33 56 45 28 29 14 8 14 3 56 34 55 31 28 8 14 12 42 20 28 20 14 7 14 18 27 61 28 70 42 117 14 33 14 24 14 14 14 3 70 -8 222 -7 126 -20 28 -7 195 -69 195 -105 27 -17 84 -54 14 -12 56 -60 14 -12 14 -9 69 -29 14 -12 14 -18 112 -197 13 -19 14 -13 181 -98 28 -13 84 -33 14 1 14 8 28 30 14 9 13 -2 14 -14 14 -19 14 -13 14 -7 42 -3"/>
<path stroke="#e600d8" d="M263 3330 l125 0 14 -25 14 -50 28 -124 28 -90 56 -154 55 -136 56 -123 98 -192 69 -128 28 -34 14 -8 14 -28 14 -38 14 -22 28 -16 14 -2 14 7 13 -1 14 -24 14 -30 14 -21 14 -32 14 -21 14 -15 42 -69 14 -14 14 -27 14 -15 14 -1 14 -14 13 -10 14 6 14 -6 28 -50 14 -13 14 -16 14 -11 28 -11 28 -31 14 0 27 -13 14 -21 14 -14 14 2 14 9 14 30 14 63 28 160 14 49 14 3 14 -30 14 -39 14 -25 13 -34 14 -17 14 4 14 -12 14 3 14 20 14 7 14 20 28 65 28 45 14 85 14 123 13 169 28 298 14 104 14 78 14 30 14 10 14 -45 14 -77 14 -96 14 -78 14 -60 14 -39 14 -28 27 -42 28 -53 14 -21 28 -24 14 -6 42 -6 14 -9 14 -3 14 2 27 -16 14 2 14 9 14 5 14 -7 14 -1 14 -7 14 -4 14 9 14 4 28 -9 28 10 27 5 14 11 14 3 14 33 14 54 14 87 14 106 42 371 14 74 14 39 14 -31 13 -77 28 -229 14 -90 28 -131 28 -102 14 -33 14 -26 14 -13 14 7 28 2 83 23 14 -3 28 -20 42 6 14 -4 14 -9 14 9 13 -2 14 -8 14 11 14 0 14 -3 14 2 14 -3 14 8 14 4 14 -6 14 7 28 2 14 12 13 7 28 7 28 22 28 13 14 3 14 7 56 15 14 7 13 3 14 7 14 0 14 -4 14 3 42 16 28 13 28 17 14 36 14 69 13 84 28 201 28 220 14 89 14 71 14 51 14 30 14 9 70 -4 208 -4 28 -2 126 -17 209 -56 222 -94 84 -42 14 -9 56 -47 14 -10 14 -7 69 -22 14 -9 14 -14 112 -151 13 -15 14 -10 181 -76 112 -35 14 1 14 6 28 23 14 8 13 -2 14 -11 14 -15 14 -10 14 -5 42 -3"/>
<path stroke="#000000" d="M263 3225 l125 0 14 -2 42 -19 14 -4 125 -29 56 -8 84 -6 69 -3 14 -3 14 -14 14 -93 14 -285 28 -911 14 -276 14 -95 14 -29 14 -14 27 -5 42 -18 28 -36 14 6 14 -1 14 -17 14 -6 14 -3 14 0 14 9 14 16 14 24 27 120 14 38 14 17 14 -27 28 -89 14 -22 28 1 14 -18 14 -3 14 6 14 -9 13 -28 14 -19 14 -12 14 -3 14 2 14 11 14 47 28 156 14 25 14 -6 14 -34 14 -53 27 -85 14 -33 28 -39 14 4 42 61 28 15 14 3 14 16 14 100 14 173 41 748 14 178 14 134 14 57 14 21 14 -50 14 -87 14 -113 14 -88 14 -62 14 -47 41 -118 56 -143 28 -28 28 -54 14 -20 14 -8 14 -16 14 -26 14 -10 13 -18 14 -33 28 -17 14 -6 28 9 28 5 14 14 28 51 14 20 27 58 28 72 14 25 14 59 14 87 14 129 14 154 42 525 14 104 14 54 14 -28 13 -64 28 -191 14 -75 28 -120 14 -45 14 -30 28 -35 28 -20 14 -6 14 0 13 5 14 13 14 3 28 -16 14 -15 14 -20 28 -48 14 -16 14 -7 14 3 14 10 14 1 14 -5 27 4 14 -2 14 7 28 26 28 17 28 25 14 5 14 17 14 29 41 69 42 75 14 23 14 18 42 43 42 49 27 18 14 13 70 47 28 23 56 25 14 15 27 47 42 82 28 49 14 18 14 9 14 2 70 -12 125 -7 97 -2 126 -17 28 -6 195 -59 195 -89 111 -61 28 -23 42 -46 14 -11 14 -9 69 -24 14 -10 14 -15 112 -161 13 -15 14 -11 181 -84 28 -11 84 -28 14 1 14 7 28 26 14 9 13 -2 14 -12 14 -17 14 -12 14 -6 42 -3"/>
<path stroke="#e600d8" d="M263 3346 l125 0 14 -9 42 -60 56 -57 14 -17 28 -39 41 -67 14 -16 14 -12 14 -4 14 0 56 22 28 1 28 -4 27 -8 28 -14 14 -14 14 -19 14 -131 14 -324 28 -797 14 -184 14 -72 14 -33 14 -14 13 3 14 -5 14 -18 14 -24 14 -11 14 -27 14 -48 14 -33 42 -70 14 -42 14 -27 14 5 14 30 27 117 14 35 14 18 14 -1 28 -67 14 4 28 16 14 14 14 18 14 8 14 -5 55 5 14 14 14 24 14 46 28 128 14 41 14 2 14 -19 14 -35 14 -26 27 -42 14 -18 14 -3 28 43 28 10 28 37 14 33 14 49 14 81 14 172 41 672 14 150 14 112 14 48 14 19 14 -26 14 -43 28 -100 14 -36 14 -22 27 -64 14 -21 42 -85 28 -40 14 -6 14 -1 14 -8 14 4 14 13 14 6 14 3 27 17 14 4 28 -1 14 8 14 4 28 18 28 -1 28 19 14 3 41 27 28 11 14 28 14 42 14 67 14 82 42 281 14 56 14 30 14 -7 13 -22 28 -69 14 -28 28 -43 14 -14 42 -28 42 -23 27 -6 28 -3 28 -12 28 -2 14 -5 28 3 42 -8 28 5 27 -5 14 2 28 15 28 8 42 19 56 39 27 27 28 17 28 26 14 9 56 25 14 8 41 20 14 2 84 30 56 12 14 8 14 14 27 36 42 66 28 39 14 14 14 8 14 1 70 -9 111 -5 251 -6 223 -16 181 -20 111 -15 28 -8 42 -20 14 -5 14 -3 83 -8 126 -29 27 -5 195 -22 98 -8 83 1 98 -3"/>
<path stroke="#000000" d="M263 3119 l125 0 14 -4 14 -8 42 -33 70 -49 139 -90 56 -33 55 -24 56 -38 14 0 14 -9 14 -14 14 -23 14 -16 42 -9 27 -23 28 -47 28 -37 14 -11 14 -19 28 -46 28 -36 14 -7 14 4 14 -1 27 8 14 -3 14 -9 14 -22 14 -29 14 -22 14 -20 14 -11 42 -17 14 -13 14 -9 27 -4 14 -8 14 -12 14 -6 14 6 14 15 14 32 14 25 14 12 14 1 14 -15 14 -11 14 -6 27 -7 14 -13 14 -6 14 3 14 7 28 9 14 8 14 11 28 31 14 51 14 82 41 315 14 70 14 53 14 21 14 6 14 -29 14 -50 14 -65 14 -50 14 -39 28 -53 13 -17 14 -7 28 -36 14 -13 14 -9 14 -5 14 -2 56 -13 28 8 14 -4 13 2 14 6 14 -2 28 9 14 -2 14 2 14 10 14 6 14 1 14 -1 28 7 27 -5 28 13 14 -1 14 9 14 14 14 31 14 40 42 136 14 26 14 16 14 -5 13 -19 28 -64 14 -24 28 -39 42 -33 14 -6 28 -3 83 14 56 1 56 13 28 0 14 2 27 -12 42 -1 28 -3 14 3 28 1 14 7 28 29 14 5 13 10 84 68 42 16 14 12 14 9 28 12 27 15 14 5 14 9 28 4 28 15 28 8 28 11 14 12 14 18 27 55 42 98 28 56 14 20 14 11 14 2 70 -11 125 -6 97 -2 126 -11 28 -5 195 -41 222 -73 98 -40 70 -42 14 -5 69 -17 14 -8 14 -11 112 -120 13 -12 14 -8 181 -59 112 -27 14 1 14 7 28 24 14 7 13 -1 14 -11 14 -15 14 -11 14 -5 42 -2"/>
<path stroke="#c4cc00" d="M263 3225 l125 0 14 -13 14 -26 28 -61 14 -22 70 -101 55 -90 28 -34 28 -19 84 -28 14 0 27 9 14 1 14 -11 14 -21 14 -30 14 -50 14 -116 28 -419 14 -159 14 -68 14 -28 14 -5 14 7 13 1 28 -11 28 -28 14 -7 14 -14 14 -5 14 -3 14 -6 14 -2 14 5 14 -7 14 -10 14 4 13 -1 14 -4 14 -8 28 -2 28 -40 14 -5 14 -1 14 8 14 -9 14 -14 14 9 14 4 27 -20 14 -1 14 11 14 15 14 28 14 50 28 147 14 36 14 0 14 -24 28 -84 13 -36 14 -21 14 -17 14 -10 14 -8 28 16 14 -6 28 42 14 17 14 43 14 89 14 150 41 586 14 131 14 99 14 39 14 13 14 -48 14 -83 14 -105 14 -85 14 -60 28 -91 13 -38 14 -29 56 -101 14 -11 14 -19 14 -13 14 -9 14 -18 14 -12 14 -5 14 4 27 -26 14 -3 42 -3 14 8 14 -3 14 6 14 22 14 3 14 -3 14 7 55 53 14 8 14 13 14 32 14 52 14 78 14 95 42 329 14 66 14 34 14 -22 13 -57 14 -91 28 -149 28 -103 14 -41 14 -24 28 -34 28 -26 28 -33 27 -17 14 -2 14 -1 14 2 14 -1 28 -10 14 0 14 6 14 14 14 10 14 0 14 -10 14 -20 13 -13 14 -9 14 -6 42 -9 14 3 14 6 14 -2 14 3 14 19 14 11 14 24 41 95 14 21 42 83 14 24 42 58 28 24 14 17 27 26 28 16 56 44 28 18 14 7 28 9 14 21 14 30 13 43 28 94 28 104 14 43 14 34 14 26 14 15 14 4 70 -6 222 -4 126 -12 28 -4 195 -42 195 -64 111 -43 14 -10 14 -14 42 -57 14 -14 14 -8 69 -18 14 -5 14 -8 112 -82 27 -15 195 -64 98 -24 28 -2 55 3 98 -7"/>
<path stroke="#109a40" d="M263 3307 l125 0 14 -6 14 -12 279 -366 28 -35 55 -59 14 -18 28 -44 14 -26 28 -73 14 -24 14 -8 14 -1 14 -4 28 12 13 -13 28 -74 14 -30 14 -42 28 -100 28 -84 28 -96 42 -92 14 -6 13 12 14 -11 14 -22 14 -30 70 -350 14 -37 14 -6 14 15 28 22 13 17 28 -8 14 9 14 17 14 6 14 15 28 54 14 12 28 4 14 -21 14 -15 13 -5 28 -35 14 1 28 22 14 16 28 8 14 28 14 21 14 26 14 76 14 144 41 558 14 125 14 94 14 35 14 7 14 -74 42 -420 14 -90 28 -126 13 -47 14 -34 14 -25 28 -68 14 -23 14 -11 14 -5 14 -11 28 3 28 -19 14 2 27 -10 28 13 14 8 14 3 14 8 14 -7 14 -18 14 5 14 -3 14 -10 14 8 14 12 14 7 13 -7 14 0 14 21 14 12 14 28 14 78 14 107 14 132 42 461 14 94 14 52 14 -32 13 -83 14 -132 14 -105 14 -91 14 -62 14 -82 42 -260 14 -63 14 -34 28 -19 14 -5 13 18 14 3 14 -13 14 -7 28 2 14 -3 14 15 14 10 14 -1 14 22 14 31 14 12 14 -5 27 -36 14 -14 14 0 28 11 14 -2 14 -9 14 5 28 5 14 7 14 16 14 25 14 33 27 82 28 71 14 25 14 9 14 14 14 -4 14 -17 28 -22 14 4 14 16 14 2 13 -3 14 8 14 15 14 8 14 3 14 15 14 9 14 2 14 16 14 3 14 0 14 13 14 41 14 77 27 201 42 346 14 97 14 79 14 58 14 34 14 9 70 -12 125 -6 97 -2 126 -10 28 -4 181 -33 28 -6 181 -52 111 -37 14 -9 14 -14 42 -56 14 -13 14 -9 69 -15 14 -4 14 -6 112 -61 27 -12 181 -51 112 -24 28 -1 42 5 13 0 42 -6 56 -3"/>
<path stroke="#ff0000" d="M263 3357 l139 -1 28 -5 42 -12 28 -11 28 -16 55 -49 28 -16 14 -1 14 2 56 20 42 7 27 9 14 2 14 -4 14 -9 14 -20 14 -32 14 -176 14 -414 28 -1005 14 -243 14 -100 14 -53 14 -39 13 -26 14 -15 14 -4 14 10 14 25 14 14 28 17 14 -3 28 7 14 -3 14 8 55 44 14 3 14 10 14 6 14 -9 14 -2 14 6 14 -6 14 10 14 17 14 -9 28 3 13 -8 14 1 14 6 14 -4 14 0 14 9 14 21 14 13 14 -1 14 18 14 7 14 -30 14 -15 14 -6 13 -28 14 -21 14 -13 14 1 14 -8 14 -4 28 11 42 70 14 46 14 88 14 157 41 611 14 137 14 102 14 43 14 17 14 -24 42 -118 14 -33 14 -19 14 -5 13 -10 14 -13 14 -21 14 -9 14 -6 14 -3 14 4 14 -4 14 0 28 -5 14 3 14 10 14 1 14 -1 13 1 14 7 28 4 14 12 28 4 14 8 28 -3 14 -9 14 2 14 7 14 -2 13 4 14 7 14 -2 14 2 14 32 14 61 14 115 14 145 42 524 14 107 14 54 14 -32 13 -72 28 -215 14 -87 28 -134 14 -50 14 -32 28 -41 14 -23 14 -31 14 -16 14 -11 13 -14 14 -9 14 -7 14 6 14 -1 14 -6 14 5 14 0 28 -9 14 4 14 11 28 5 14 5 13 -1 14 -4 14 4 28 20 28 26 14 5 14 10 14 17 14 11 14 19 14 29 41 64 56 99 28 41 28 21 14 17 42 41 55 45 28 18 42 32 28 15 14 4 14 7 27 28 14 17 70 105 14 17 14 8 14 1 42 -10 28 -4 125 -8 97 -2 126 -17 28 -6 195 -60 195 -91 111 -61 14 -13 14 -18 42 -67 14 -16 14 -11 69 -25 14 -9 14 -13 112 -135 13 -13 14 -10 195 -91 98 -34 14 -1 14 4 28 14 14 4 13 -1 42 -22 14 -4 42 -3"/>
<path stroke="#00c8d0" d="M263 3355 l125 0 14 -7 14 -13 28 -45 56 -113 83 -195 195 -504 28 -83 14 -32 14 -15 14 -11 14 -25 28 -63 14 -14 14 -2 14 4 14 -5 27 -27 28 -56 14 -18 28 -51 42 -85 14 -21 14 -9 14 -20 14 -13 14 -6 27 -31 14 -9 14 -14 14 -29 14 -15 14 -1 14 -8 14 -14 28 -20 14 -7 14 -2 14 -6 13 -8 28 -24 14 -2 14 21 14 30 14 45 28 137 14 47 14 11 14 -10 14 -20 27 -65 14 -10 28 24 14 4 14 13 14 4 14 9 14 16 42 68 14 70 14 118 27 312 14 138 14 100 14 76 14 31 14 11 14 -34 42 -195 28 -88 14 -23 27 -37 14 -25 28 -29 14 -23 28 -20 42 -12 14 0 14 -13 14 1 14 11 13 -5 14 -7 28 -2 14 -3 14 -10 14 -16 14 1 14 -7 14 -13 28 -4 28 10 13 0 14 10 14 21 14 13 14 17 14 53 14 70 56 359 14 54 14 30 14 -15 13 -43 28 -132 42 -129 14 -32 28 -44 14 -19 14 -5 14 3 14 7 41 -8 14 1 14 6 28 -12 14 1 14 6 14 2 14 -4 14 4 14 16 14 8 28 0 27 -22 28 9 14 1 14 -5 14 4 14 7 14 4 42 8 14 5 41 28 14 12 28 20 14 16 56 10 28 -3 14 5 55 10 42 13 28 0 14 8 42 10 14 24 14 52 27 154 42 253 14 69 14 55 14 39 14 23 14 8 70 -3 222 -2 126 -6 223 -24 195 -33 111 -23 28 -11 42 -27 14 -7 14 -4 83 -12 126 -50 27 -8 181 -31 112 -15 181 -3"/>
<path stroke="#ff0000" d="M263 3447 l125 0 14 -5 14 -9 98 -94 69 -77 28 -27 28 -23 84 -59 55 -34 42 -42 28 -24 14 -35 28 -95 14 -29 14 -7 28 -4 13 -13 14 -19 14 -33 28 -53 70 -153 14 -26 14 -20 14 -17 28 -26 27 -5 14 -6 14 -17 42 -88 14 -22 14 -16 28 -25 14 -7 14 -11 27 -30 28 -14 14 -12 14 3 14 15 14 24 28 103 14 30 14 10 14 -19 14 -34 14 -18 27 -12 14 -12 14 -1 14 2 28 19 42 39 28 20 14 46 14 61 41 230 14 52 14 38 14 15 14 3 14 -28 14 -48 14 -66 14 -49 14 -33 41 -75 28 -39 28 -29 14 -19 14 -23 14 -8 14 -2 14 -11 28 -14 14 -5 28 -3 27 10 28 18 14 5 14 8 14 0 28 18 28 4 28 10 14 0 27 23 28 4 14 27 14 45 14 66 14 81 42 277 14 55 14 29 14 -19 13 -50 28 -154 14 -55 28 -88 28 -67 42 -63 14 -16 41 -17 28 -19 28 -11 28 -5 28 1 28 23 28 38 14 4 27 -4 14 2 14 2 14 7 14 2 14 -1 14 9 14 1 28 -5 14 5 14 9 28 27 27 13 42 34 28 17 14 14 28 9 14 12 42 26 27 21 28 11 14 8 14 5 42 10 14 9 14 13 14 5 14 22 14 42 13 55 28 127 28 140 14 57 14 45 14 33 14 19 14 6 70 -4 222 -2 126 -7 223 -27 195 -38 111 -25 14 -6 14 -10 42 -36 14 -9 14 -5 83 -14 126 -48 27 -8 181 -35 112 -16 28 -2 153 -2"/>
<path stroke="#00c8d0" d="M263 3437 l125 0 14 -3 14 -5 84 -43 28 -19 55 -49 28 -17 14 -3 14 -1 84 8 14 6 27 20 14 7 14 -6 14 -15 14 -30 14 -73 14 -161 28 -390 14 -100 14 -41 14 -3 14 6 41 -5 28 -12 28 1 14 -4 14 5 14 8 28 -9 14 -2 14 1 28 27 27 51 14 13 14 -4 14 -15 14 -8 28 -41 28 -11 14 -2 14 -5 14 -2 14 2 27 -12 14 2 14 -1 14 4 14 8 14 22 28 76 14 24 14 4 14 -15 28 -39 13 -14 14 -2 28 -12 14 -1 14 5 14 10 28 8 14 10 28 25 14 41 14 73 41 289 14 64 14 49 14 19 14 6 14 -24 14 -38 14 -50 14 -39 14 -29 28 -39 27 -27 56 -64 14 -8 14 -3 28 -13 42 -16 28 -6 41 -1 42 11 70 33 14 8 14 5 69 42 14 18 14 25 14 40 14 50 42 173 14 34 14 19 14 -10 13 -27 28 -80 14 -31 28 -46 14 -19 14 -12 28 -11 42 -13 41 -1 42 -14 56 -27 14 -3 28 0 28 4 27 -6 14 1 28 7 56 16 42 9 14 8 69 51 28 16 28 22 42 18 56 22 13 2 28 12 28 4 28 13 28 8 42 7 14 11 14 17 27 48 42 84 28 44 14 15 14 9 14 2 70 -5 222 -3 126 -9 223 -35 195 -47 111 -32 28 -16 42 -34 14 -9 14 -5 69 -13 14 -5 14 -7 112 -71 27 -12 195 -47 98 -18 28 -2 69 0 84 -2"/>
<path stroke="#109a40" d="M263 1696 l139 0 14 -44 42 -267 28 -146 42 -193 14 -51 14 -44 13 -36 28 -84 56 -206 14 -32 14 -14 42 -23 14 -17 14 -25 13 -7 14 5 14 -2 14 -18 14 -26 14 -16 14 -12 14 -28 14 -20 14 -12 28 -36 14 -10 55 -14 28 24 28 18 28 29 14 4 14 11 28 18 55 111 28 82 14 2 14 -36 56 -188 14 -19 14 -8 14 -3 14 1 13 8 28 54 14 10 14 23 14 86 14 345 28 976 14 220 28 109 14 16 41 -49 14 -23 14 -17 14 -15 14 6 14 27 28 40 14 30 14 64 42 310 13 86 70 343 14 14 56 -166 14 -62 55 -332 84 -525 56 -429 42 -366 13 -52 14 83 28 287 56 529 14 107 28 158 28 174 27 154 70 343 14 59 70 240 14 16 55 -67 14 -32 70 -240 14 -41 56 -120 41 -97 14 -21 14 -9 28 -29 14 -11 14 -7 28 -30 28 -17 14 -2 41 20 28 19 42 17 14 10 28 30 28 37 41 49 14 13 28 35 14 12 14 16 42 53 42 39 69 73 28 25 42 42 28 25 42 49 27 35 14 29 56 165 14 31 28 41 14 10 501 0 14 -1 544 -100 557 -164 14 -2 125 0"/>
<path stroke="#00c8d0" d="M263 3335 l139 0 14 -4 126 -74 14 -16 55 -99 14 -6 126 111 13 6 42 0 14 -123 14 -248 14 -390 28 -1424 14 -516 14 -209 14 4 14 -6 14 -20 27 -23 14 5 14 0 14 -3 14 -18 14 4 14 45 14 18 14 -2 14 5 14 16 14 20 14 29 27 71 14 68 14 110 14 78 14 -4 14 -62 14 -81 14 -53 28 -89 14 -10 28 -17 14 11 13 22 14 16 14 26 28 67 14 154 42 1183 14 238 14 117 14 31 28 -13 27 -31 28 -7 14 -13 14 5 28 43 14 28 14 23 14 63 42 280 13 81 70 343 14 21 42 -82 28 -60 14 -61 83 -564 14 -63 28 -42 14 -26 28 -45 42 -84 14 -19 13 1 28 12 14 17 14 14 14 5 14 11 14 20 56 111 28 45 13 28 14 33 56 165 14 69 70 480 14 40 55 -63 14 -29 98 -258 14 -35 14 -27 14 -8 27 -11 14 -10 14 -7 14 -5 42 -28 14 -4 14 -9 14 -15 14 -9 14 -5 14 6 14 2 13 5 28 21 14 17 14 4 14 0 42 25 28 21 14 6 41 25 14 11 14 6 14 4 56 42 28 25 28 22 28 15 41 30 42 38 28 15 28 21 14 14 55 66 14 37 56 231 14 41 28 49 14 13 515 -1 544 -73 557 -123 14 -1 125 0"/>
<path stroke="#0000ff" d="M263 1956 l139 0 14 -40 56 -317 28 -133 14 -90 42 -134 13 -26 28 -64 14 -15 14 -29 28 -109 14 -12 14 -1 14 -13 14 -26 14 -7 14 3 14 -10 13 2 14 -5 14 -27 14 -13 14 18 14 -33 28 -172 14 -70 42 -89 28 -1 27 18 14 -4 14 2 14 10 14 16 14 7 14 -24 14 16 14 10 14 1 14 24 14 -14 14 15 14 39 27 37 28 122 14 -19 14 -38 28 -126 14 -27 14 12 14 -10 14 -24 14 6 14 -5 13 14 14 32 14 15 14 31 28 120 14 273 14 480 14 376 14 212 14 109 14 45 14 -20 14 -9 13 -20 14 -28 28 -17 14 -13 14 -5 14 21 28 73 14 27 14 43 55 324 70 343 14 17 56 -132 14 -40 14 -69 27 -207 28 -175 28 -219 28 -145 42 -243 28 -141 28 -190 14 -68 13 -54 14 33 14 95 42 248 28 226 28 158 42 171 27 70 28 130 56 212 14 77 56 395 14 42 55 -65 14 -35 70 -222 14 -60 14 -35 14 -14 28 -54 27 -32 14 -28 14 -21 28 -26 28 -42 14 -14 14 -10 14 2 14 -2 14 -13 14 -8 14 -13 27 14 14 -15 14 -3 14 12 28 46 14 11 14 6 14 19 28 31 28 21 13 21 56 54 14 7 14 -1 14 14 14 27 14 17 14 8 14 12 14 9 27 24 14 6 14 16 14 9 28 35 28 28 14 3 14 11 28 38 41 47 14 37 56 231 14 39 28 41 14 10 501 0 14 -2 557 -145 544 -200 14 -3 125 0"/>
<path stroke="#c4cc00" d="M263 3294 l139 0 14 -6 126 -111 14 -17 69 -103 14 -5 112 73 13 -1 42 -31 14 -201 42 -1252 14 -341 14 -210 14 -124 14 -47 14 -16 27 6 14 -6 14 1 28 13 14 -13 14 -22 14 -11 14 19 14 13 14 -15 14 -7 14 2 14 -13 14 -3 27 47 14 19 14 31 14 -6 14 -37 14 -23 14 -12 28 -3 28 7 14 0 27 15 14 4 14 10 14 -2 14 -7 14 12 14 5 14 9 14 22 14 11 14 -29 14 -74 14 -49 14 -33 13 -15 14 9 14 -16 28 -58 14 -15 28 15 14 30 28 51 28 161 41 319 14 84 70 294 14 39 14 -2 14 -14 14 -25 28 -21 13 -25 28 -38 14 -25 28 -19 14 -27 14 -19 28 -16 28 -29 28 -3 41 -34 14 -7 14 13 14 8 14 -3 28 2 14 -2 14 -6 28 25 14 8 14 2 13 -4 14 4 14 9 14 27 14 49 14 35 14 75 70 549 14 30 41 -155 42 -183 28 -112 14 -45 14 -25 14 -14 14 -5 28 -21 27 -2 14 3 14 8 14 16 14 4 14 -4 14 18 14 8 14 12 14 34 14 20 14 12 14 29 14 15 14 3 13 -1 14 -14 14 -5 14 2 28 47 28 7 14 21 28 57 28 68 27 32 28 66 28 48 14 21 28 30 14 22 42 82 28 71 13 21 14 6 28 26 28 33 14 7 42 44 14 24 28 33 14 25 13 52 56 363 14 66 42 123 14 21 501 0 14 -2 265 -78 14 -10 265 -274 13 -12 265 -196 279 -165 14 -7 125 -37"/>
<path stroke="#109a40" d="M263 2433 l125 0 14 -34 28 -149 14 -59 28 -65 28 -51 28 -43 28 -39 27 -34 42 -47 42 -42 42 -38 97 -80 14 -62 14 -166 28 -455 14 -132 14 -51 14 -22 14 -13 14 4 27 -25 14 11 14 15 14 9 28 -4 14 0 14 -7 14 3 14 -5 14 -10 14 -2 28 24 14 24 13 57 14 38 14 1 14 -2 14 -28 42 -100 14 -1 14 11 14 -8 14 -15 14 13 14 -1 13 -8 28 20 14 -12 14 -20 14 10 28 106 28 76 14 1 28 -114 14 -36 13 -47 14 -38 28 -46 14 -3 14 12 14 5 14 3 14 23 28 61 14 48 14 116 14 180 41 688 14 153 14 116 14 47 14 17 14 -41 14 -68 14 -84 14 -62 14 -50 41 -113 14 -29 14 -18 14 -25 14 -30 28 -17 14 -18 14 -4 14 -7 14 -16 14 3 14 -1 14 -5 14 -8 13 -13 14 -10 28 36 28 -24 28 29 14 10 42 8 14 7 14 17 13 -4 14 3 14 27 14 9 14 42 14 85 14 133 14 163 42 565 14 112 14 60 14 -27 13 -71 28 -222 14 -84 28 -132 14 -45 14 -35 14 -14 42 -72 14 -33 14 -14 13 4 14 -6 14 -12 14 -1 14 3 14 -12 14 -6 28 10 14 8 14 5 14 17 14 10 14 3 14 -1 13 -10 14 7 28 3 14 13 14 8 14 5 14 1 14 13 14 5 14 9 14 27 14 32 27 48 14 33 28 49 56 112 14 14 14 9 14 16 28 45 14 13 27 23 14 7 28 31 14 8 14 12 14 16 14 8 14 5 28 25 14 30 14 42 27 131 42 229 14 65 14 53 14 39 14 23 14 6 70 -10 125 -5 97 -2 126 -12 28 -4 195 -42 195 -64 111 -44 14 -9 14 -11 42 -45 14 -11 14 -7 69 -18 14 -6 14 -10 112 -99 27 -17 181 -60 112 -27 14 1 14 6 28 20 14 7 13 -2 42 -32 14 -4 42 -3"/>
<path stroke="#e600d8" d="M263 2635 l125 0 14 -20 14 -42 14 -50 14 -40 28 -51 28 -42 28 -37 55 -63 56 -55 84 -73 83 -64 14 -60 14 -177 28 -610 14 -198 14 -77 28 -21 14 3 14 10 13 1 14 -9 14 6 14 0 14 -13 14 5 14 14 14 -12 14 -7 14 9 14 -1 14 -5 14 4 14 10 14 6 27 70 14 12 14 17 14 -12 14 -46 14 -32 14 -10 14 -21 14 -13 14 3 14 12 14 -1 14 -5 13 4 14 -1 14 -5 14 0 14 11 14 17 14 31 14 69 14 85 14 39 14 -17 14 -31 55 -156 14 -8 14 6 14 -9 14 -1 14 24 28 20 28 89 14 16 14 114 14 163 41 623 14 140 14 104 14 43 14 15 14 -41 14 -69 14 -88 14 -62 28 -92 14 -39 27 -52 28 -45 14 -28 28 -23 14 -20 14 2 14 -3 14 -25 14 -4 14 9 14 -9 14 -14 27 -3 14 -5 14 10 14 19 14 2 14 5 14 0 14 -8 14 9 28 22 28 7 13 10 28 38 14 11 14 42 14 69 14 128 14 157 42 545 14 109 14 58 14 -27 13 -67 28 -204 14 -79 28 -134 14 -46 14 -27 14 -17 28 -53 28 -33 14 -12 13 -4 14 -14 14 -6 14 2 14 -3 14 -6 14 -1 14 4 14 -4 14 0 28 29 14 11 14 -3 14 -6 13 -2 14 0 14 4 28 -2 14 10 14 6 14 -1 14 9 14 2 14 6 14 14 28 39 13 16 14 23 42 50 28 38 28 27 14 11 28 16 14 15 27 20 14 14 14 8 14 4 42 29 14 2 14 6 42 34 14 17 14 27 13 34 28 83 56 197 14 38 14 20 14 1 42 -24 28 -10 111 -18 97 -5 168 -6 195 -22 222 -39 84 -18 14 -4 70 -35 14 -4 69 -10 14 -3 14 -5 112 -52 27 -9 181 -31 112 -13 14 3 14 7 28 23 14 8 13 -2 14 -11 14 -15 14 -10 14 -6 42 -2"/>
<path stroke="#109a40" d="M263 3335 l125 0 14 -1 14 -3 265 -78 28 -5 14 1 14 9 27 35 14 14 14 -6 14 -19 14 -56 14 -207 14 -485 14 -633 14 -529 14 -268 14 -95 14 -23 28 -1 27 -10 14 -3 14 7 14 11 14 -3 14 -12 14 -6 14 6 14 17 14 13 28 -3 14 12 55 86 14 4 28 -40 14 -32 14 -26 14 -4 28 -15 14 7 14 1 14 11 13 2 14 -16 14 -10 14 11 14 0 14 15 14 60 28 180 14 32 14 -7 14 -31 14 -44 27 -101 28 -30 28 -15 14 9 14 17 14 -1 28 57 14 24 14 56 14 99 14 183 41 703 14 157 14 118 14 48 14 16 14 -45 14 -76 14 -100 14 -68 14 -53 14 -43 14 -34 13 -54 14 -41 14 -14 14 -25 14 -38 14 -30 14 -16 56 -45 14 -3 14 -20 14 -8 27 -9 14 7 14 -1 14 3 14 11 14 2 14 -2 14 9 14 6 14 15 14 11 14 2 14 13 14 22 13 17 14 10 28 40 14 51 14 69 14 122 14 148 42 513 14 103 14 53 14 -25 13 -63 28 -196 14 -73 28 -117 14 -51 14 -43 42 -59 14 -26 14 -22 27 -24 28 1 14 -5 14 -12 14 -3 14 -1 14 -8 14 -4 14 3 14 5 28 30 14 2 14 -9 13 -15 14 3 14 12 14 4 14 0 14 17 14 22 28 17 42 61 41 87 28 63 14 20 28 64 28 47 42 46 42 52 27 22 14 20 28 22 14 14 14 9 28 27 28 17 14 1 14 17 14 33 27 88 42 153 14 43 14 36 14 26 14 15 14 4 70 -7 222 -4 126 -8 223 -31 195 -43 111 -29 28 -14 42 -29 14 -8 14 -4 69 -12 28 -11 112 -66 27 -11 181 -40 112 -19 14 1 14 4 28 14 14 4 13 -1 42 -21 14 -3 42 -2"/>
<path stroke="#109a40" d="M263 3377 l125 0 28 -4 390 -116 14 -25 14 -187 14 -472 28 -1138 14 -268 14 -101 14 -18 14 4 14 -3 13 13 14 6 14 -14 14 9 14 2 14 -58 14 9 14 44 14 0 14 -19 14 -31 28 51 28 -37 13 43 14 59 14 -17 14 -12 14 9 14 -23 14 -44 14 10 14 3 14 -52 14 -13 14 33 14 -14 14 -33 13 -15 14 20 14 42 14 -11 14 2 28 71 14 73 14 47 14 25 14 33 14 -21 14 -80 14 -53 13 5 14 -16 14 -28 14 -19 14 -9 14 11 14 -3 14 -13 14 9 14 81 14 33 14 1 14 130 14 168 41 648 14 144 14 109 14 44 14 15 14 -41 14 -68 14 -96 14 -75 14 -35 14 -26 41 -114 14 -30 14 -24 14 -8 28 -68 14 12 14 2 28 -53 28 14 14 -20 14 -10 13 2 14 -12 14 1 14 -15 14 -2 56 63 14 4 14 21 14 16 14 -21 14 26 13 35 14 -15 14 4 28 86 14 63 14 120 14 146 42 505 14 100 14 54 14 -25 13 -64 28 -196 28 -136 14 -57 14 -46 14 -34 28 -57 14 -10 14 -24 14 -10 14 -14 13 -21 14 0 28 -27 14 -11 28 21 14 -27 14 -18 14 9 14 14 14 23 14 10 28 -2 13 3 28 -27 14 17 28 46 14 11 14 -13 14 6 14 31 28 37 14 38 14 23 13 7 56 131 14 26 14 15 14 28 14 14 14 8 14 22 14 17 41 36 14 23 14 14 28 20 14 1 42 49 14 12 28 5 14 20 14 37 27 111 42 191 14 54 14 44 14 33 14 19 14 5 70 -8 222 -6 126 -10 223 -36 195 -51 111 -35 28 -16 42 -35 14 -9 14 -5 69 -14 28 -13 112 -78 27 -14 181 -47 112 -22 14 1 14 4 28 17 14 5 13 -1 42 -25 14 -4 42 -2"/>
<path stroke="#c4cc00" d="M263 2854 l125 0 14 -17 14 -34 28 -87 28 -71 42 -96 42 -88 55 -111 56 -105 70 -125 69 -120 14 -44 14 -122 28 -452 14 -164 14 -92 14 -41 14 2 14 9 27 -8 14 4 14 -1 14 -11 14 6 14 17 28 -5 14 3 14 -12 14 11 14 5 14 -22 14 6 14 21 13 7 14 -15 14 -1 14 11 14 -10 14 -19 28 16 14 -2 14 0 14 7 28 -6 14 10 13 -3 14 -8 14 0 14 14 28 -16 14 20 14 31 14 20 14 12 14 1 28 -20 14 -24 13 -18 14 7 14 -2 14 -8 14 15 14 10 14 -9 14 15 14 24 42 89 14 74 14 106 41 385 14 87 14 64 14 26 14 9 14 -29 14 -49 14 -64 14 -49 14 -30 14 -22 14 -36 13 -22 14 -5 14 -25 28 -32 14 -19 14 -1 14 7 28 -2 14 -5 14 -10 42 -4 13 -5 14 -8 14 12 14 6 14 -6 28 9 42 0 14 7 28 -13 14 15 27 1 14 15 14 22 14 40 14 52 14 111 14 136 42 471 14 93 14 52 14 -25 13 -71 28 -229 14 -84 14 -51 14 -64 14 -54 42 -82 14 -21 14 -16 28 -13 13 6 14 -5 14 -9 14 -3 14 6 14 2 14 -8 28 -4 14 1 28 45 14 16 14 7 27 -30 14 -5 14 3 14 7 42 -4 14 9 28 11 14 19 14 13 28 55 13 11 14 21 70 126 28 33 14 11 14 19 14 26 28 21 13 5 14 11 28 39 14 10 14 3 84 70 14 38 14 58 27 174 42 306 14 87 14 73 14 54 14 31 14 7 42 -11 28 -5 125 -9 97 -3 126 -16 28 -6 195 -60 195 -90 111 -62 14 -12 14 -17 42 -63 14 -16 14 -10 69 -25 14 -9 14 -14 112 -140 13 -13 14 -11 181 -85 28 -11 84 -28 14 2 14 9 28 30 14 9 13 -2 14 -14 14 -19 14 -13 14 -8 42 -3"/>
<path stroke="#00c8d0" d="M263 3335 l125 0 28 -4 390 -115 14 -23 14 -168 14 -441 14 -579 14 -487 14 -239 14 -82 14 -11 14 -1 14 9 13 -8 14 -20 14 11 28 -10 28 -3 14 4 14 -6 14 3 14 11 28 -24 14 11 14 27 13 22 28 32 14 -4 28 -56 14 -21 14 -8 14 -1 28 7 28 4 14 -7 13 -4 14 3 14 -3 14 6 14 8 14 13 14 42 28 125 14 21 14 -11 14 -35 28 -49 13 -41 14 -9 14 -1 14 -16 14 -5 28 15 14 17 42 66 14 42 14 102 14 175 41 676 14 151 14 114 14 45 14 15 14 -45 14 -76 14 -94 14 -69 14 -56 28 -91 27 -64 28 -73 14 -26 28 -27 14 -20 28 -32 14 -29 14 -13 14 0 14 -4 14 2 27 -6 42 10 14 0 14 5 14 10 14 16 14 21 14 7 14 0 14 14 14 22 27 24 14 19 14 14 14 38 14 82 14 118 14 142 42 493 14 99 14 51 14 -25 13 -64 28 -194 14 -79 28 -115 14 -49 14 -35 14 -20 28 -52 42 -52 13 -12 14 0 14 -8 42 -14 14 1 28 -11 14 -3 14 4 14 18 14 12 14 2 14 -8 13 -13 14 4 14 8 14 3 14 8 28 24 14 9 14 14 14 10 14 14 14 34 14 28 14 19 13 35 42 85 28 52 28 42 56 65 55 57 56 39 42 40 14 8 28 12 14 19 27 71 28 94 28 104 14 43 14 36 14 26 14 15 14 4 70 -7 222 -4 126 -7 223 -27 195 -38 111 -25 28 -12 42 -26 14 -6 14 -5 69 -10 28 -9 112 -58 27 -10 195 -37 98 -14 14 1 14 3 28 13 14 4 13 -1 42 -19 14 -3 42 -2"/>
<path stroke="#00c8d0" d="M263 3294 l125 0 28 -4 390 -115 14 -23 14 -167 14 -422 28 -1042 14 -222 14 -72 14 -28 28 4 13 -13 28 -12 14 -16 14 -6 28 13 14 15 14 8 14 -15 28 -15 14 -5 14 5 27 42 14 33 14 24 14 -7 14 -10 28 -56 14 -9 28 -35 14 11 14 18 14 -5 14 -9 27 -7 14 9 14 -5 14 -2 14 33 14 41 28 163 14 25 14 -12 14 -18 14 -32 27 -47 14 -29 14 0 14 -5 14 0 14 6 14 15 14 21 14 6 14 25 28 77 14 81 14 144 41 547 14 123 14 91 14 38 14 14 14 -31 14 -51 14 -69 14 -51 28 -61 27 -45 42 -77 14 -18 28 -18 28 -21 14 -2 28 -38 14 6 14 1 14 -5 13 0 28 -11 14 3 14 16 14 1 14 -3 14 4 14 6 14 17 14 9 14 0 14 12 27 18 14 13 14 1 14 10 14 50 14 63 14 110 14 134 42 465 14 92 14 49 14 -25 13 -64 28 -197 14 -78 28 -118 28 -81 42 -67 14 -17 28 -41 13 -12 14 -7 14 -10 14 2 14 -4 14 -9 14 5 14 -8 14 0 14 8 28 21 14 2 14 0 14 2 27 -20 14 5 14 9 14 16 28 18 14 13 14 4 14 13 28 35 28 53 13 31 14 27 14 20 28 58 14 25 14 19 14 10 28 35 28 27 28 36 27 18 28 26 14 6 14 10 14 16 42 29 28 16 14 17 14 35 27 108 42 183 14 52 14 41 14 31 14 18 14 5 70 -7 222 -4 126 -8 223 -31 195 -43 111 -29 28 -14 42 -29 14 -8 14 -4 69 -12 28 -11 112 -66 27 -11 181 -40 112 -19 14 1 14 4 28 14 14 4 13 -1 42 -21 14 -3 42 -2"/>
<path stroke="#000000" d="M263 2676 l125 0 14 -17 42 -115 28 -49 28 -42 28 -36 55 -65 70 -69 70 -63 83 -68 14 -32 14 -85 28 -420 14 -157 14 -65 14 -18 14 4 14 10 14 2 13 -8 14 -17 14 1 14 12 14 -4 14 -9 28 -3 14 -8 14 -4 14 4 14 11 14 -1 14 -15 41 23 14 19 14 -2 14 -16 14 -7 14 -17 14 -11 14 6 14 9 14 2 28 -22 27 22 14 -16 14 -4 14 12 28 -2 14 11 14 8 28 45 14 -20 14 -15 14 -2 27 -25 14 -11 14 -5 28 -30 14 1 14 16 14 31 14 10 14 18 28 69 41 135 28 82 14 29 14 22 14 7 14 1 14 -24 14 -41 14 -57 14 -43 14 -25 14 -21 14 -8 13 -2 28 -55 14 -6 28 -37 28 -1 14 -12 14 8 14 17 14 -9 14 -1 14 10 14 -21 13 4 14 17 14 -7 14 -14 14 6 14 13 14 -8 14 7 14 1 14 -9 14 -2 14 4 14 -5 14 12 27 8 14 13 14 0 14 34 14 48 14 89 14 110 42 371 14 72 14 44 14 -6 13 -36 28 -125 28 -66 14 -48 14 -33 14 -20 14 -9 14 -16 14 -26 14 -10 14 -2 27 8 14 -8 14 9 14 -4 14 -15 14 0 14 8 14 12 14 5 14 9 28 42 14 4 14 -3 14 7 13 -9 14 -13 42 10 14 -10 14 4 14 13 14 2 14 7 14 14 28 52 14 17 55 110 28 70 14 11 14 15 28 59 14 15 14 7 14 21 14 13 27 35 14 14 14 8 14 12 28 32 14 20 14 11 14 6 28 25 14 29 14 42 13 54 28 130 28 149 28 134 14 50 14 26 14 4 42 -24 28 -11 125 -19 97 -6 140 -17 195 -60 28 -11 181 -88 111 -63 14 -13 14 -17 42 -65 14 -16 14 -10 69 -26 14 -10 14 -13 112 -144 13 -15 14 -10 181 -88 28 -11 84 -28 28 -3 55 3 98 -10"/>
<path stroke="#c4cc00" d="M263 2998 l125 0 14 -11 14 -22 28 -57 28 -45 42 -62 42 -58 111 -140 139 -158 14 -19 14 -71 14 -173 28 -430 14 -111 14 -34 14 -3 14 -9 27 1 28 -4 14 -8 14 -20 14 -14 42 -30 28 -24 14 11 14 2 14 -17 14 -6 13 5 28 16 14 -10 14 -20 14 -7 14 -4 14 -15 14 -23 14 -4 14 1 14 -7 28 4 13 -5 14 -10 28 3 42 -7 28 50 14 3 14 -7 14 -9 28 -40 13 -12 14 -33 14 -21 14 -5 14 -12 28 17 28 27 14 20 14 29 14 45 14 69 14 107 41 394 14 88 14 66 14 26 14 6 14 -44 14 -76 14 -103 14 -76 14 -49 41 -109 14 -25 14 -19 28 -28 28 -38 14 -12 14 -5 14 2 14 -11 14 1 14 5 14 -19 14 -3 13 0 14 -7 14 2 14 10 14 0 14 5 28 -5 14 10 28 3 14 5 28 17 27 25 14 6 14 0 14 40 14 61 14 109 14 134 42 463 14 91 14 51 14 -26 13 -72 28 -222 14 -89 28 -117 28 -94 28 -68 14 -23 14 -7 14 3 14 -1 13 -4 14 1 14 -5 14 -13 28 17 14 1 14 3 14 -2 28 8 14 22 14 28 14 -5 27 -30 14 -7 14 1 14 -6 14 2 14 11 14 -1 14 -11 14 0 14 6 14 2 28 36 14 3 27 33 14 6 14 15 14 23 14 16 14 10 14 -4 14 5 14 22 14 14 28 0 14 13 13 5 14 1 28 24 14 6 14 9 14 1 14 9 14 13 14 1 28 29 14 43 14 65 27 210 42 367 14 106 14 88 14 67 14 37 14 9 42 -16 28 -6 125 -13 97 -4 140 -19 195 -62 28 -11 195 -98 97 -57 14 -13 14 -18 42 -67 14 -16 14 -11 69 -27 14 -9 14 -15 112 -148 13 -15 14 -10 181 -90 28 -12 84 -30 14 3 14 10 28 34 14 11 13 -3 14 -15 14 -22 14 -16 14 -8 42 -3"/>
<path stroke="#0000ff" d="M263 3335 l125 0 28 -4 390 -115 14 -23 14 -164 14 -423 28 -1034 14 -233 14 -87 14 -17 14 4 14 0 13 9 14 -7 28 -1 14 -17 14 3 14 7 14 -8 14 -1 14 1 14 16 14 -9 14 -15 28 33 27 54 14 19 14 8 14 -23 14 -36 28 -33 14 -21 14 -5 14 15 42 -2 13 -4 14 -2 14 -16 14 -6 14 20 14 5 14 15 28 85 14 19 14 -38 14 -47 14 -56 14 -73 13 -46 28 -84 28 -68 42 12 28 74 14 19 14 41 14 125 14 210 41 814 14 183 14 136 14 55 14 18 14 -55 14 -91 14 -117 14 -96 14 -63 41 -141 28 -69 14 -46 14 -37 14 -25 14 -31 42 -60 14 1 14 -8 14 -19 14 -6 14 -10 13 -15 14 1 14 20 14 10 14 -8 14 1 14 5 14 12 14 20 14 5 14 15 14 19 14 4 27 45 14 7 28 58 14 44 14 93 14 136 14 164 42 571 14 114 14 59 14 -32 13 -77 28 -242 14 -87 28 -146 14 -56 42 -101 42 -81 14 -17 13 -9 14 -15 14 -9 14 1 14 -2 14 -9 14 -6 14 -1 14 -7 14 4 14 7 28 23 14 3 14 -8 13 -13 14 -5 14 11 14 9 14 12 14 19 14 9 28 44 28 28 14 27 14 37 27 61 28 68 56 127 14 28 28 28 42 65 14 17 41 39 14 10 28 33 14 13 28 30 14 9 28 11 14 17 14 29 27 90 42 153 14 43 14 36 14 26 14 15 14 4 70 -7 222 -4 126 -8 223 -31 195 -43 111 -29 28 -14 42 -29 14 -8 14 -4 69 -12 28 -11 112 -66 27 -11 181 -40 112 -19 14 1 14 4 28 14 14 4 13 -1 42 -21 14 -3 42 -2"/>
<path stroke="#ff0000" d="M263 3418 l139 0 14 -2 140 -42 264 -118 14 -29 14 -46 14 -24 28 -31 97 -98 84 -72 28 -28 28 -19 28 -30 69 -58 28 -32 14 -11 28 -30 56 -51 13 -19 28 -26 14 -16 14 7 14 21 14 39 14 60 14 50 14 25 14 13 28 7 27 18 14 12 28 31 28 42 14 29 28 47 83 165 14 20 70 73 14 7 28 -3 28 1 97 -16 14 -1 28 -6 56 -9 55 -6 14 0 28 5 28 -1 56 2 42 5 27 0 14 4 70 34 14 10 56 49 14 4 111 -37 98 -6 13 1 28 -3 126 -3 28 -3 97 1 28 3 84 0 27 3 28 -1 28 2 28 -2 28 2 83 0 28 3 14 -2 56 2 28 6 28 10 97 44 42 27 14 5 515 0 1240 -20"/>
<path stroke="#109a40" d="M263 3377 l125 0 28 -6 390 -154 14 -25 14 -178 14 -454 14 -606 14 -497 14 -243 14 -88 14 -38 14 -8 14 6 13 1 14 3 14 -1 14 3 14 -4 14 -17 14 -10 28 14 14 5 28 -2 14 12 14 2 14 21 27 96 14 23 14 0 14 -34 42 -136 14 -5 14 4 14 -14 14 -5 14 7 14 1 13 -8 14 -6 28 12 14 1 14 21 14 36 28 139 14 27 14 -27 14 -36 14 -25 27 -101 14 -31 28 -31 14 -22 14 -1 14 18 14 5 14 22 14 42 28 58 14 66 14 90 41 313 14 71 14 52 14 22 14 8 14 -19 14 -32 28 -78 14 -28 28 -18 13 -19 14 -9 14 -5 28 -25 14 -4 28 -4 28 1 28 -10 14 -1 14 -4 27 -19 28 3 28 8 14 -2 14 6 14 12 28 -8 14 13 14 -1 14 -8 14 5 13 -7 14 9 14 22 14 3 14 17 14 53 14 87 14 107 42 364 14 70 14 43 14 -17 13 -58 14 -100 14 -2 14 -53 42 -274 14 -57 14 -29 14 -15 28 -15 14 -13 14 3 13 13 14 4 14 2 14 15 14 2 14 -7 14 2 14 10 56 92 14 32 14 18 14 -2 41 -23 28 29 14 -3 14 2 28 36 14 24 14 29 14 23 28 62 27 45 14 31 28 47 28 41 28 25 14 25 28 75 14 31 14 24 55 76 14 14 28 47 42 46 28 44 28 37 13 51 56 330 14 67 14 134 14 42 14 24 14 5 42 -11 28 -5 125 -9 97 -2 126 -15 28 -5 111 -30 70 -18 28 -10 181 -75 111 -54 14 -11 14 -15 42 -55 14 -14 14 -9 69 -22 14 -8 14 -12 112 -124 13 -12 14 -9 181 -75 112 -35 14 2 14 8 28 28 14 8 13 -2 14 -12 14 -18 14 -12 14 -7 42 -2"/>
<path stroke="#0000ff" d="M263 3253 l125 0 14 -9 14 -18 390 -769 14 -21 14 -25 14 -44 28 -113 14 -31 14 -2 14 4 28 0 13 -10 14 -20 42 -89 56 -143 28 -47 42 -60 14 -13 13 -9 28 -10 14 -16 14 -33 14 -20 42 -38 14 -26 14 -14 14 -5 14 -18 14 -10 27 -10 42 -34 28 -9 14 13 14 16 14 -1 14 -5 97 -193 14 -2 14 4 14 -1 14 20 14 17 14 3 14 29 14 43 14 53 14 81 41 287 14 64 14 49 14 18 14 4 14 -35 14 -61 14 -75 14 -59 28 -80 14 -30 13 -12 14 -17 14 -7 28 -53 28 -24 14 3 28 -17 14 13 14 5 14 -3 14 -9 14 -12 27 10 28 -5 28 3 14 -4 14 0 28 18 28 -1 28 10 27 2 14 4 14 13 14 21 14 32 14 63 56 338 14 49 14 33 14 -7 13 -37 14 -68 28 -111 28 -78 14 -16 14 -3 14 -16 14 -30 28 -13 14 -12 14 10 13 -1 14 -8 28 9 14 -10 14 -15 28 8 14 -4 14 11 14 23 14 17 14 11 14 6 27 -39 14 2 14 -8 14 -12 14 10 14 14 14 8 28 -6 14 9 28 -1 14 23 14 15 13 8 14 27 28 20 14 20 28 28 28 3 28 30 14 8 14 13 27 20 14 8 14 -5 14 7 14 18 14 5 14 -2 28 22 14 5 28 27 14 44 14 77 27 239 42 405 14 115 14 95 14 70 14 41 14 10 42 -13 28 -6 125 -11 97 -3 126 -19 28 -6 181 -61 28 -12 195 -103 97 -61 14 -14 14 -18 42 -71 14 -17 14 -12 69 -28 14 -10 14 -15 112 -157 13 -15 14 -11 195 -102 98 -37 14 2 14 10 28 34 14 11 13 -3 14 -15 14 -22 14 -16 14 -8 42 -3"/>
<path stroke="#00c8d0" d="M263 3335 l125 0 14 -4 14 -8 390 -346 14 -20 14 -99 14 -251 14 -327 14 -270 14 -128 14 -51 14 -12 28 -8 13 0 14 -14 28 -21 28 -44 14 -11 14 -16 14 -20 14 -10 14 -1 14 -10 14 -19 14 -3 14 3 13 -3 28 17 14 -7 14 -15 14 -27 14 -16 28 -9 14 -14 14 -27 14 3 14 9 14 -17 27 -4 14 -14 14 -7 14 -3 14 5 42 94 14 9 14 -8 14 -26 41 -96 14 -15 28 -51 14 -13 14 -8 14 15 14 23 14 8 14 10 28 76 14 61 14 97 41 353 14 80 14 59 14 23 14 6 14 -36 14 -62 14 -85 14 -68 28 -64 14 -26 13 -16 14 -20 28 -47 14 -12 14 -5 14 -10 14 -4 14 -16 14 -5 14 7 28 -9 14 -10 14 2 13 6 14 -4 28 13 14 -6 28 4 14 -15 14 -5 14 6 28 22 14 -1 14 17 13 7 14 -10 14 10 14 0 14 19 14 41 14 60 56 318 14 47 14 31 14 -4 13 -28 28 -99 14 -38 28 -62 14 -22 14 -14 28 -7 14 -18 55 -22 14 -8 28 17 14 0 14 -10 14 -4 14 14 14 11 14 7 28 9 28 15 14 -5 13 -11 14 -6 14 1 28 -10 14 2 28 21 14 -3 14 1 14 3 14 5 14 18 14 13 13 4 42 39 14 18 28 20 28 24 28 7 28 23 14 15 13 9 14 -2 14 3 14 18 14 4 14 -1 28 13 14 14 14 9 14 4 14 13 14 46 14 73 27 222 42 382 14 107 14 87 14 63 14 37 14 10 42 -9 28 -3 125 -8 97 -2 126 -16 28 -5 195 -57 195 -85 111 -58 14 -12 14 -15 42 -59 14 -15 14 -10 69 -23 14 -9 14 -13 112 -131 13 -14 14 -9 181 -80 28 -11 84 -26 14 1 14 8 28 28 14 8 13 -2 14 -12 14 -18 14 -12 14 -7 42 -2"/>
<path stroke="#0000ff" d="M263 3294 l125 0 14 -6 14 -13 404 -558 14 -64 14 -149 14 -202 14 -159 14 -79 14 -32 28 -2 27 -16 14 -18 42 -65 14 -18 28 -29 14 -30 14 -23 28 -39 28 -13 27 -9 14 -7 14 2 14 -17 14 -24 14 -7 14 -23 14 -11 14 -2 14 -16 28 -14 28 -21 13 7 14 11 56 -56 14 17 14 34 14 25 14 3 14 -18 14 -28 28 -42 13 -34 14 -26 14 -9 14 -2 14 -5 14 -13 14 -1 28 36 14 24 14 18 14 22 28 160 41 313 14 70 14 52 14 20 14 3 14 -43 14 -76 14 -96 14 -61 28 -106 14 -40 13 -21 14 -14 28 -58 28 -16 14 -19 14 -15 14 -11 14 -1 14 9 14 5 14 -1 14 -5 14 -14 13 7 14 2 14 -12 14 -5 28 10 28 6 28 -5 14 3 14 11 14 8 14 -1 55 29 14 17 14 57 14 80 56 432 14 64 14 40 14 -7 13 -32 28 -107 14 -46 14 -32 42 -68 28 -29 28 -3 14 -14 14 -10 27 7 14 -7 14 1 14 9 14 -7 14 -3 14 4 14 -10 14 2 42 55 14 3 14 -19 13 -14 14 -4 14 2 14 12 14 3 14 -8 14 -2 56 28 42 56 27 18 14 30 14 20 14 12 14 22 14 17 42 43 14 18 14 6 14 13 14 17 13 -1 14 7 14 16 14 8 28 4 14 15 14 9 14 6 14 15 14 5 14 10 14 40 14 63 27 183 42 314 14 89 14 73 14 54 14 31 14 8 42 -10 28 -4 125 -8 97 -3 126 -19 28 -7 195 -69 195 -104 111 -70 14 -14 14 -20 42 -72 14 -18 14 -12 69 -28 14 -11 14 -15 112 -161 13 -16 14 -11 181 -98 28 -13 84 -32 14 2 14 9 28 33 14 10 13 -2 14 -15 14 -21 14 -15 14 -8 42 -3"/>
<path stroke="#109a40" d="M263 3335 l125 0 14 -3 14 -6 390 -269 14 -20 14 -116 14 -282 28 -682 14 -151 14 -59 14 -13 14 1 14 -9 13 -5 14 3 14 -4 14 -16 28 -20 14 -16 14 -6 14 3 42 -24 14 -15 14 -2 14 25 13 21 14 5 14 12 14 -5 14 -17 14 -11 28 -60 28 2 14 -16 14 7 14 -3 14 -20 13 -9 14 8 14 12 42 12 14 37 14 62 28 72 14 0 14 -38 28 -52 13 -30 14 -18 14 -14 14 -2 14 7 14 -7 14 11 28 30 14 28 14 14 14 41 14 72 14 124 41 473 14 106 14 79 14 32 14 9 14 -42 14 -70 14 -91 14 -66 14 -51 14 -39 14 -32 27 -49 28 -63 14 -21 28 -19 28 -27 14 -8 14 -4 14 -12 14 -5 14 7 27 -18 28 0 28 3 14 4 14 5 14 14 14 5 14 1 14 15 14 5 14 -1 27 25 14 4 14 10 14 17 14 34 14 55 14 96 14 118 42 409 14 81 14 44 14 -24 13 -61 28 -188 14 -73 28 -110 14 -42 14 -31 14 -17 14 -22 42 -47 27 -23 14 -8 14 -1 14 3 14 -9 14 -3 14 8 14 0 42 7 28 32 14 7 27 -22 56 8 28 -10 14 8 14 12 14 0 14 6 14 12 28 39 13 6 14 11 14 20 14 10 28 30 14 9 28 29 28 12 14 8 28 26 13 10 14 6 28 7 14 8 14 3 14 8 14 16 14 8 28 7 14 10 14 28 14 46 27 142 42 245 14 70 14 58 14 -43 14 50 14 25 348 -19 28 -5 265 -79 264 -117 14 -12 14 -20 84 -154 28 -40 139 -137 28 -24 125 -92 112 -70 13 0 14 10 14 43 28 131 14 33 84 16 139 -7"/>
<path stroke="#000000" d="M263 3377 l125 0 14 -3 14 -6 390 -230 14 -18 14 -107 14 -270 14 -344 14 -289 14 -152 14 -45 14 -20 14 -4 14 4 27 -8 28 -33 14 -5 14 -7 14 -3 28 -18 28 -1 14 -9 14 -4 28 4 13 30 14 15 28 -16 14 -17 14 -11 28 -46 14 -10 14 4 28 -13 14 0 14 -4 13 6 14 -1 14 -13 14 -8 14 8 28 32 14 41 14 53 14 23 14 -16 14 -24 28 -77 27 -39 14 -15 14 -5 14 -10 14 2 14 8 14 -2 14 13 14 29 14 19 14 29 14 83 14 124 41 477 14 106 14 80 14 33 14 11 14 -33 14 -55 14 -71 28 -90 14 -36 27 -37 14 -25 14 -15 14 -32 14 -21 14 -10 14 -18 14 -7 28 -5 14 -10 42 -17 14 3 27 -11 14 9 14 -1 14 -5 14 9 14 4 14 0 42 26 14 4 14 5 14 11 13 0 14 7 28 30 14 29 14 45 14 84 14 103 42 354 14 70 14 38 14 -22 13 -56 28 -169 14 -70 14 -58 14 -49 14 -33 14 -27 28 -33 28 -49 14 -14 14 -6 13 -17 14 -1 14 6 28 -7 70 -4 28 21 28 14 14 0 13 -10 14 -1 42 8 14 0 14 7 28 -1 14 13 28 19 28 38 41 47 28 40 28 27 14 17 42 24 14 14 14 7 14 4 13 15 14 10 14 6 42 25 14 5 14 -1 14 9 14 15 28 9 14 27 14 39 13 48 28 117 28 130 14 55 14 46 14 -21 14 41 14 20 348 -19 28 -5 265 -79 264 -117 14 -10 14 -16 84 -124 28 -34 153 -149 14 -10 125 -74 139 -68 14 13 14 32 28 98 42 109 56 171 14 24 13 2 28 -35 14 -13 14 -9 42 -14"/>
<path stroke="#e600d8" d="M263 3253 l125 0 14 -7 14 -14 390 -576 14 -18 14 -42 14 -87 28 -222 14 -46 28 -19 14 -2 14 1 13 -13 14 -8 42 -75 14 -36 14 -24 28 -38 14 -27 14 -20 28 -25 97 -79 14 -20 14 -29 14 -13 14 -6 28 -20 14 -15 14 -7 14 3 13 -13 14 -3 14 2 14 -10 14 -2 14 -5 14 0 28 48 14 7 14 -4 28 -27 27 -57 14 -12 14 -28 14 -10 14 3 14 -11 14 5 14 25 14 10 14 14 28 54 14 54 14 66 41 232 14 52 14 38 14 15 14 3 14 -30 14 -52 14 -68 14 -56 42 -82 27 -31 14 -12 14 -20 14 -15 28 -25 14 14 14 3 14 -17 14 -4 14 -1 14 2 14 6 14 -9 13 -19 14 -3 14 15 14 7 14 3 28 -19 14 15 28 7 14 7 28 -6 14 2 13 11 14 0 14 -15 14 19 28 68 14 65 14 81 28 189 14 82 14 52 14 33 14 -5 13 -29 14 -53 14 -43 14 -31 14 -38 42 -63 14 -11 14 -14 14 -6 14 -5 28 -14 13 6 28 -3 42 6 14 -5 14 -2 14 2 28 12 14 12 14 20 14 5 14 -11 13 -16 14 -11 14 -6 28 19 14 -2 14 1 14 8 14 3 14 -4 14 6 14 12 41 59 28 28 14 8 14 18 14 24 28 29 14 17 14 9 28 14 28 24 13 7 14 12 28 14 28 23 28 15 14 11 28 16 14 11 14 24 14 49 27 130 42 235 28 136 14 48 14 27 14 5 42 -20 28 -8 125 -16 111 -5 126 -10 195 -38 28 -8 181 -56 111 -41 28 -19 42 -42 14 -10 14 -7 69 -17 14 -6 14 -9 112 -93 27 -16 195 -60 98 -22 14 3 14 8 28 28 14 8 13 -2 14 -12 14 -18 14 -12 14 -7 42 -2"/>
<path stroke="#e600d8" d="M263 3294 l125 0 14 -5 14 -11 404 -477 14 -38 14 -90 14 -121 14 -92 14 -46 14 -25 14 -10 14 8 14 0 13 -9 14 -4 28 -51 56 -88 28 -30 28 -38 28 -7 14 -16 13 -5 14 -8 14 -3 14 0 14 -16 14 -23 14 -33 14 -17 14 1 28 -17 28 -9 14 -11 13 -3 14 -9 14 -4 14 0 14 -10 14 1 42 69 14 12 14 -12 55 -67 14 -14 14 -4 14 -10 14 -5 14 0 14 -6 28 33 14 9 14 20 14 27 14 56 14 83 41 310 14 70 14 52 14 19 14 5 14 -39 14 -66 14 -79 28 -124 14 -37 14 -21 13 -31 14 -22 56 -62 42 -15 14 -2 14 -12 14 -8 14 -6 14 -4 27 4 14 10 28 -5 14 7 14 -4 14 2 14 9 14 2 42 -3 14 5 14 9 41 12 14 7 14 24 14 42 14 64 14 77 42 264 14 52 14 30 14 -11 13 -38 28 -128 14 -46 28 -72 14 -22 14 -18 28 -20 14 -5 14 -10 14 -17 14 -3 27 5 14 -9 14 -3 14 6 28 -8 14 3 14 -3 14 8 14 15 14 7 14 4 14 -6 14 -11 13 -5 14 3 28 13 14 -2 14 -8 14 -2 28 14 14 -2 14 17 28 22 14 21 13 14 28 17 42 57 28 24 28 17 14 14 14 5 28 19 13 5 14 10 28 24 28 3 28 21 56 30 14 21 14 38 13 50 28 113 28 131 28 111 14 41 14 22 14 3 42 -17 28 -7 125 -14 111 -4 126 -8 223 -38 181 -47 111 -34 28 -16 42 -35 14 -9 14 -5 69 -14 28 -13 112 -77 27 -13 181 -47 112 -21 14 2 14 7 28 23 14 8 13 -2 14 -11 14 -15 14 -10 14 -6 42 -2"/>
<path stroke="#ff0000" d="M263 3335 l125 0 14 -4 14 -8 404 -358 14 -39 42 -298 14 -47 14 -22 14 -6 28 6 13 -12 42 -62 28 -37 14 -14 56 -85 14 -13 14 -18 14 -6 14 -1 13 -11 14 -6 14 -1 14 -10 28 -34 14 -13 14 -20 14 -14 28 -13 14 -10 41 -21 28 -2 14 -9 14 -5 14 5 14 14 28 47 14 11 14 -3 14 -11 28 -50 13 -19 14 -10 14 -7 14 -17 14 0 42 17 14 0 14 21 14 27 14 16 14 51 14 73 41 273 14 61 14 46 14 17 14 4 14 -36 14 -61 14 -84 14 -62 14 -40 14 -30 41 -68 28 -26 14 -27 14 -15 28 -9 14 -1 28 -13 14 4 14 -8 14 -2 14 9 27 -12 14 2 28 -3 28 7 14 -3 14 9 14 4 14 -1 14 5 28 -1 41 13 14 15 14 26 14 33 14 59 14 73 42 247 14 49 14 28 14 -12 13 -39 28 -123 14 -46 28 -73 14 -29 14 -14 28 -16 42 -40 14 -1 27 3 14 -6 14 -10 14 2 28 11 14 -6 14 -2 28 10 28 27 14 3 27 -15 14 -4 28 3 28 -3 28 4 28 9 28 18 28 26 27 18 14 11 28 35 28 12 14 18 14 9 14 5 56 41 13 4 14 2 14 7 14 12 42 21 42 13 28 14 14 24 14 36 27 105 42 186 28 107 14 39 14 21 14 4 42 -16 28 -6 125 -13 111 -5 126 -15 195 -51 28 -10 181 -75 111 -55 14 -11 14 -15 42 -56 14 -13 14 -10 69 -22 14 -8 14 -12 112 -124 13 -12 14 -10 195 -80 98 -29 14 2 14 9 28 30 14 9 13 -2 14 -14 14 -19 14 -13 14 -8 42 -3"/>
<path stroke="#ff0000" d="M263 3335 l125 0 28 -6 390 -193 14 -22 14 -143 14 -372 14 -493 14 -403 14 -204 14 -78 14 -14 14 -8 14 -1 13 9 14 -2 14 -24 14 -16 14 -10 14 -21 28 -16 14 -11 14 -16 28 -5 14 -13 14 4 14 25 13 54 14 38 14 7 14 -7 14 -29 28 -102 14 -26 14 -13 28 -32 14 2 14 7 14 4 13 -7 14 -19 14 7 14 17 28 -25 14 10 14 44 28 256 14 -14 14 -127 14 -105 14 -51 13 0 14 17 14 0 14 -25 14 2 14 22 14 -1 14 9 14 29 14 40 14 32 14 26 14 102 14 175 41 676 14 151 14 114 14 46 14 19 14 -34 14 -56 14 -70 14 -54 14 -42 14 -31 14 -24 13 -33 14 -19 14 -13 28 -53 14 -20 14 -13 14 -5 14 -14 14 -10 14 2 14 -10 14 -17 28 -9 13 6 14 0 14 -10 14 12 14 2 14 -3 14 18 28 -6 14 14 14 7 14 -1 14 13 14 24 13 10 14 6 14 16 14 6 14 37 14 54 14 96 14 116 42 401 14 80 14 42 14 -20 13 -54 28 -165 14 -67 28 -105 14 -32 28 -54 28 -29 28 -42 14 -7 27 -21 28 -6 28 2 14 3 28 -13 14 3 28 28 28 2 14 -3 13 -9 28 3 28 22 42 22 56 44 28 60 27 42 70 121 28 27 14 21 28 22 14 18 41 27 14 10 14 15 14 8 28 23 14 7 28 21 28 13 14 15 14 26 13 38 28 84 28 93 28 75 14 25 14 14 14 4 70 -10 125 -5 97 -2 126 -9 69 -10 168 -28 181 -44 111 -33 28 -15 42 -34 14 -8 14 -6 69 -13 28 -12 112 -74 27 -13 181 -45 112 -20 14 1 14 4 28 17 14 5 13 -1 42 -25 14 -4 42 -2"/>
</g></g>
<g stroke="#000" stroke-width="0.8"><line x1="26.3" y1="345.9" x2="26.3" y2="343.4"/>
<line x1="26.3" y1="16.4" x2="26.3" y2="18.9"/>
<line x1="95.9" y1="345.9" x2="95.9" y2="343.4"/>
<line x1="95.9" y1="16.4" x2="95.9" y2="18.9"/>
<line x1="165.6" y1="345.9" x2="165.6" y2="343.4"/>
<line x1="165.6" y1="16.4" x2="165.6" y2="18.9"/>
<line x1="235.2" y1="345.9" x2="235.2" y2="343.4"/>
<line x1="235.2" y1="16.4" x2="235.2" y2="18.9"/>
<line x1="304.9" y1="345.9" x2="304.9" y2="343.4"/>
<line x1="304.9" y1="16.4" x2="304.9" y2="18.9"/>
<line x1="374.5" y1="345.9" x2="374.5" y2="343.4"/>
<line x1="374.5" y1="16.4" x2="374.5" y2="18.9"/>
<line x1="444.2" y1="345.9" x2="444.2" y2="343.4"/>
<line x1="444.2" y1="16.4" x2="444.2" y2="18.9"/>
<line x1="513.8" y1="345.9" x2="513.8" y2="343.4"/>
<line x1="513.8" y1="16.4" x2="513.8" y2="18.9"/>
<line x1="26.3" y1="345.9" x2="28.8" y2="345.9"/>
<line x1="541.7" y1="345.9" x2="539.2" y2="345.9"/>
<line x1="26.3" y1="304.7" x2="28.8" y2="304.7"/>
<line x1="541.7" y1="304.7" x2="539.2" y2="304.7"/>
<line x1="26.3" y1="263.5" x2="28.8" y2="263.5"/>
<line x1="541.7" y1="263.5" x2="539.2" y2="263.5"/>
<line x1="26.3" y1="222.3" x2="28.8" y2="222.3"/>
<line x1="541.7" y1="222.3" x2="539.2" y2="222.3"/>
<line x1="26.3" y1="181.1" x2="28.8" y2="181.1"/>
<line x1="541.7" y1="181.1" x2="539.2" y2="181.1"/>
<line x1="26.3" y1="140.0" x2="28.8" y2="140.0"/>
<line x1="541.7" y1="140.0" x2="539.2" y2="140.0"/>
<line x1="26.3" y1="98.8" x2="28.8" y2="98.8"/>
<line x1="541.7" y1="98.8" x2="539.2" y2="98.8"/>
<line x1="26.3" y1="57.6" x2="28.8" y2="57.6"/>
<line x1="541.7" y1="57.6" x2="539.2" y2="57.6"/>
<line x1="26.3" y1="16.4" x2="28.8" y2="16.4"/>
<line x1="541.7" y1="16.4" x2="539.2" y2="16.4"/></g>
<rect x="26.3" y="16.4" width="515.4" height="329.5" fill="none" stroke="#000" stroke-width="1.2"/>
</svg>
<div class="xl" style="left:24.5px">300.</div>
<div class="xl" style="left:94.4px">800.</div>
<div class="xl" style="left:160.3px">1300.</div>
<div class="xl" style="left:230.7px">1800.</div>
<div class="xl" style="left:299.4px">2300.</div>
<div class="xl" style="left:368.2px">2800.</div>
<div class="xl" style="left:437.6px">3300.</div>
<div class="xl" style="left:508.3px">3800.</div>
<div class="yl" style="top:340.9px">0.0</div>
<div class="yl" style="top:299.7px">0.1</div>
<div class="yl" style="top:258.5px">0.2</div>
<div class="yl" style="top:217.3px">0.3</div>
<div class="yl" style="top:176.1px">0.4</div>
<div class="yl" style="top:135.0px">0.5</div>
<div class="yl" style="top:93.8px">0.6</div>
<div class="yl" style="top:52.6px">0.7</div>
<div class="yl" style="top:11.4px">0.8</div>
</body></html>
